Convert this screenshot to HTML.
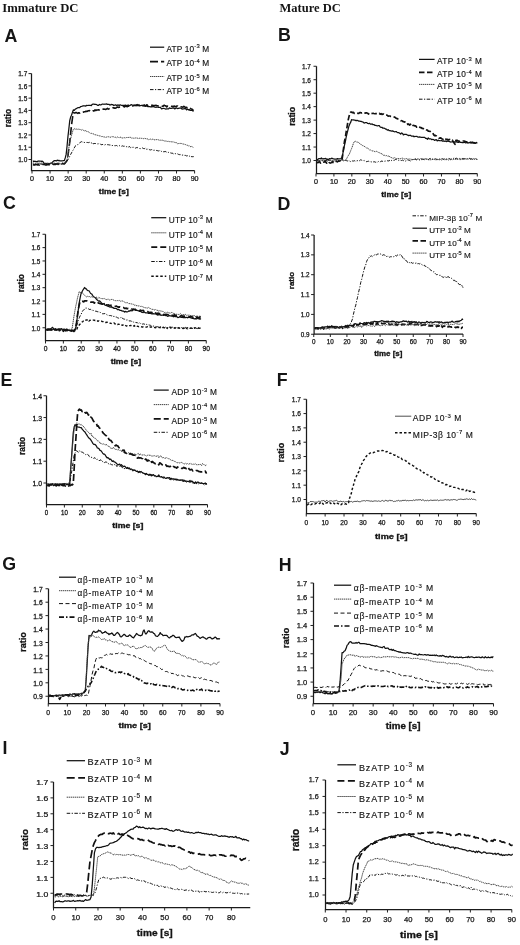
<!DOCTYPE html><html><head><meta charset="utf-8"><style>html,body{margin:0;padding:0;background:#fff;width:520px;height:945px;overflow:hidden}svg{display:block;filter:blur(0.3px)}text{font-family:"Liberation Sans", sans-serif;fill:#151515}text.tk{stroke:#151515;stroke-width:0.25}text.lg{stroke:#151515;stroke-width:0.15}text.bd{stroke:#111;stroke-width:0.3}</style></head><body>
<svg width="520" height="945" viewBox="0 0 520 945">
<rect width="520" height="945" fill="#fff"/>
<text x="2.2" y="12.3" font-size="13.5" font-weight="bold" textLength="76.3" lengthAdjust="spacingAndGlyphs" style="font-family:'Liberation Serif',serif">Immature DC</text>
<text x="279.5" y="12.3" font-size="13.5" font-weight="bold" textLength="61.3" lengthAdjust="spacingAndGlyphs" style="font-family:'Liberation Serif',serif">Mature DC</text>
<path d="M31.5 73.6 V170.5 H194.6" fill="none" stroke="#1a1a1a" stroke-width="1.25"/>
<path d="M28.5 159.5 H31.5 M28.5 147.23 H31.5 M28.5 134.96 H31.5 M28.5 122.69 H31.5 M28.5 110.41 H31.5 M28.5 98.14 H31.5 M28.5 85.87 H31.5 M28.5 73.6 H31.5 M32 170.5 V173.5 M50.07 170.5 V173.5 M68.13 170.5 V173.5 M86.2 170.5 V173.5 M104.27 170.5 V173.5 M122.33 170.5 V173.5 M140.4 170.5 V173.5 M158.47 170.5 V173.5 M176.53 170.5 V173.5 M194.6 170.5 V173.5 " stroke="#222" stroke-width="1"/>
<text x="27.3" y="162.19" font-size="6.5" text-anchor="end" class="tk">1.0</text>
<text x="27.3" y="149.92" font-size="6.5" text-anchor="end" class="tk">1.1</text>
<text x="27.3" y="137.65" font-size="6.5" text-anchor="end" class="tk">1.2</text>
<text x="27.3" y="125.38" font-size="6.5" text-anchor="end" class="tk">1.3</text>
<text x="27.3" y="113.1" font-size="6.5" text-anchor="end" class="tk">1.4</text>
<text x="27.3" y="100.83" font-size="6.5" text-anchor="end" class="tk">1.5</text>
<text x="27.3" y="88.56" font-size="6.5" text-anchor="end" class="tk">1.6</text>
<text x="27.3" y="76.29" font-size="6.5" text-anchor="end" class="tk">1.7</text>
<text transform="translate(32 180.84) scale(1.1 1)" font-size="6.5" text-anchor="middle" class="tk">0</text>
<text transform="translate(50.07 180.84) scale(1.1 1)" font-size="6.5" text-anchor="middle" class="tk">10</text>
<text transform="translate(68.13 180.84) scale(1.1 1)" font-size="6.5" text-anchor="middle" class="tk">20</text>
<text transform="translate(86.2 180.84) scale(1.1 1)" font-size="6.5" text-anchor="middle" class="tk">30</text>
<text transform="translate(104.27 180.84) scale(1.1 1)" font-size="6.5" text-anchor="middle" class="tk">40</text>
<text transform="translate(122.33 180.84) scale(1.1 1)" font-size="6.5" text-anchor="middle" class="tk">50</text>
<text transform="translate(140.4 180.84) scale(1.1 1)" font-size="6.5" text-anchor="middle" class="tk">60</text>
<text transform="translate(158.47 180.84) scale(1.1 1)" font-size="6.5" text-anchor="middle" class="tk">70</text>
<text transform="translate(176.53 180.84) scale(1.1 1)" font-size="6.5" text-anchor="middle" class="tk">80</text>
<text transform="translate(194.6 180.84) scale(1.1 1)" font-size="6.5" text-anchor="middle" class="tk">90</text>
<text class="bd" transform="translate(10.8 118.05) rotate(-90)" font-size="8.39" font-weight="bold" text-anchor="middle">ratio</text>
<text class="bd" x="98.85" y="193.6" font-size="6.76" font-weight="bold" textLength="29.87" lengthAdjust="spacingAndGlyphs">time [s]</text>
<text x="4.55" y="42.4" font-size="17.8" text-anchor="start" font-weight="bold">A</text>
<path d="M150 47.2 H164.2" fill="none" stroke="#111" stroke-width="1.25" stroke-linejoin="round"/>
<text class="lg" x="166.5" y="51.57" font-size="8.3" textLength="42.7" lengthAdjust="spacing">ATP 10<tspan font-size="5.81" dy="-3.32">-3</tspan><tspan dy="3.32"> M</tspan></text>
<path d="M150 61.6 H164.2" fill="none" stroke="#111" stroke-width="1.6" stroke-linejoin="round" stroke-dasharray="8 3"/>
<text class="lg" x="166.5" y="65.97" font-size="8.3" textLength="42.7" lengthAdjust="spacing">ATP 10<tspan font-size="5.81" dy="-3.32">-4</tspan><tspan dy="3.32"> M</tspan></text>
<path d="M150 76.5 H164.2" fill="none" stroke="#444" stroke-width="1.0" stroke-linejoin="round" stroke-dasharray="1.4 0.6"/>
<text class="lg" x="166.5" y="80.87" font-size="8.3" textLength="42.7" lengthAdjust="spacing">ATP 10<tspan font-size="5.81" dy="-3.32">-5</tspan><tspan dy="3.32"> M</tspan></text>
<path d="M150 89.6 H164.2" fill="none" stroke="#111" stroke-width="1.0" stroke-linejoin="round" stroke-dasharray="3.5 1.5 1.2 1.5"/>
<text class="lg" x="166.5" y="93.97" font-size="8.3" textLength="42.7" lengthAdjust="spacing">ATP 10<tspan font-size="5.81" dy="-3.32">-6</tspan><tspan dy="3.32"> M</tspan></text>
<path d="M32.9 161.42 L33.8 161.18 L34.7 161.41 L35.6 161.44 L36.5 161.63 L37.39 161.41 L38.29 161 L39.19 161.21 L40.09 161.02 L40.99 161.26 L41.89 161.22 L42.78 161.28 L43.68 163 L44.58 163.44 L45.48 163.57 L46.38 163.5 L47.28 164.09 L48.17 164.03 L49.07 163.69 L49.97 163.49 L50.87 163.17 L51.77 163.2 L52.67 161.95 L53.56 161.08 L54.46 160.63 L55.36 160.61 L56.26 160.93 L57.16 160.2 L58.06 160.56 L58.95 160.36 L59.85 160.92 L60.75 160.95 L61.65 160.83 L62.55 160.76 L63.45 160.53 L64.34 160.65 L65.24 157.92 L66.14 154.42 L67.04 146.27 L67.94 136.59 L68.83 129.01 L69.73 120.76 L70.63 117.05 L71.53 115.26 L72.43 112.42 L73.33 109.93 L74.22 110.39 L75.12 109.32 L76.02 108.7 L76.92 108.36 L77.82 107.61 L78.72 107.52 L79.61 107.68 L80.51 106.71 L81.41 106.49 L82.31 106.14 L83.21 105.75 L84.11 105.9 L85 105.8 L85.9 106.06 L86.8 105.3 L87.7 105.5 L88.6 105.27 L89.5 105.34 L90.39 105.39 L91.29 105.56 L92.19 104.34 L93.09 104.13 L93.99 104.07 L94.89 104.46 L95.78 104.41 L96.68 104.62 L97.58 105.32 L98.48 105.44 L99.38 104.5 L100.27 104.78 L101.17 104.83 L102.07 104.13 L102.97 104.03 L103.87 104.26 L104.77 104.24 L105.66 104.24 L106.56 103.95 L107.46 104.31 L108.36 104.4 L109.26 104.45 L110.16 105.16 L111.05 104.35 L111.95 104.51 L112.85 104.7 L113.75 105.52 L114.65 105.16 L115.55 104.76 L116.44 105.63 L117.34 105.18 L118.24 104.86 L119.14 105.62 L120.04 104.78 L120.94 105.15 L121.83 105.42 L122.73 105.33 L123.63 105.28 L124.53 105.45 L125.43 105.09 L126.33 105.6 L127.22 105.48 L128.12 104.99 L129.02 105.26 L129.92 105.5 L130.82 104.89 L131.71 104.69 L132.61 105.23 L133.51 105.47 L134.41 105.05 L135.31 105.01 L136.21 105.01 L137.1 104.51 L138 105.38 L138.9 104.81 L139.8 105.72 L140.7 105.7 L141.6 105.4 L142.49 105.38 L143.39 105.59 L144.29 105.88 L145.19 106.07 L146.09 106.2 L146.99 106.2 L147.88 106.56 L148.78 106.55 L149.68 106.57 L150.58 106.81 L151.48 106.64 L152.38 106.76 L153.27 106.38 L154.17 106.96 L155.07 107.25 L155.97 107.29 L156.87 107.24 L157.77 107.02 L158.66 107.49 L159.56 107.48 L160.46 107.23 L161.36 108.79 L162.26 108.55 L163.15 108.33 L164.05 108.49 L164.95 108.74 L165.85 109.15 L166.75 108.96 L167.65 108.9 L168.54 108.97 L169.44 107.89 L170.34 108.35 L171.24 108.46 L172.14 108.14 L173.04 108.04 L173.93 108.05 L174.83 108.93 L175.73 108.3 L176.63 107.9 L177.53 108.63 L178.43 108.35 L179.32 108.1 L180.22 108.2 L181.12 108.09 L182.02 109.16 L182.92 108.84 L183.82 108.93 L184.71 108.72 L185.61 108.67 L186.51 109.92 L187.41 108.86 L188.31 109.92 L189.21 109.55 L190.1 110.49 L191 110.26 L191.9 110.23 L192.8 110.92 L193.7 111.09" fill="none" stroke="#111" stroke-width="1.25" stroke-linejoin="round"/>
<path d="M32.9 164.78 L33.8 164.95 L34.7 164.99 L35.6 164.46 L36.5 164.57 L37.39 164.95 L38.29 163.99 L39.19 165.15 L40.09 164.48 L40.99 164.81 L41.89 164.66 L42.78 164.45 L43.68 164.57 L44.58 164.41 L45.48 165.04 L46.38 165 L47.28 164.32 L48.17 164.77 L49.07 164.76 L49.97 164.86 L50.87 163.99 L51.77 164.11 L52.67 163.85 L53.56 164.55 L54.46 164.22 L55.36 164.53 L56.26 163.91 L57.16 163.62 L58.06 164.34 L58.95 163.55 L59.85 163.69 L60.75 164.01 L61.65 164.52 L62.55 163.45 L63.45 163.87 L64.34 163.99 L65.24 162.86 L66.14 161.84 L67.04 160.48 L67.94 155.92 L68.83 148.75 L69.73 142.14 L70.63 133.6 L71.53 124.95 L72.43 118.4 L73.33 112.79 L74.22 112.98 L75.12 112.9 L76.02 112.42 L76.92 112.85 L77.82 113.4 L78.72 112.73 L79.61 113.1 L80.51 112.19 L81.41 112.27 L82.31 112.47 L83.21 112.15 L84.11 111.74 L85 111.82 L85.9 111.29 L86.8 111.56 L87.7 111.07 L88.6 110.78 L89.5 110.59 L90.39 111.14 L91.29 110.51 L92.19 111.2 L93.09 110.8 L93.99 110.95 L94.89 109.92 L95.78 110.53 L96.68 110.05 L97.58 110 L98.48 109.85 L99.38 109.92 L100.27 109.57 L101.17 108.99 L102.07 109.42 L102.97 109.17 L103.87 108.93 L104.77 109.18 L105.66 109.38 L106.56 109.05 L107.46 108.42 L108.36 109.14 L109.26 108.69 L110.16 108.08 L111.05 108.02 L111.95 108.14 L112.85 107.77 L113.75 107.84 L114.65 108.11 L115.55 108.08 L116.44 107.66 L117.34 107.04 L118.24 107.35 L119.14 107.31 L120.04 107.13 L120.94 107.22 L121.83 106.64 L122.73 106.83 L123.63 106.21 L124.53 106.95 L125.43 106.08 L126.33 106.34 L127.22 106.7 L128.12 105.84 L129.02 106.11 L129.92 106.66 L130.82 106.21 L131.71 105.81 L132.61 106 L133.51 105.58 L134.41 105.55 L135.31 105.53 L136.21 105.6 L137.1 105.25 L138 105.41 L138.9 105.44 L139.8 106.17 L140.7 105.23 L141.6 105.1 L142.49 105.6 L143.39 105.65 L144.29 104.91 L145.19 106.05 L146.09 105.36 L146.99 104.76 L147.88 105.79 L148.78 105.29 L149.68 104.93 L150.58 105.54 L151.48 105.33 L152.38 105.23 L153.27 105.79 L154.17 105.58 L155.07 105.5 L155.97 105.38 L156.87 105.68 L157.77 105.77 L158.66 106.06 L159.56 105.89 L160.46 105.55 L161.36 105.83 L162.26 106.16 L163.15 106.19 L164.05 105.15 L164.95 105.66 L165.85 105.85 L166.75 106.88 L167.65 105.94 L168.54 106.02 L169.44 105.7 L170.34 106.13 L171.24 106.32 L172.14 106.18 L173.04 106.98 L173.93 106.11 L174.83 106.38 L175.73 106.73 L176.63 106.16 L177.53 106.05 L178.43 107.08 L179.32 106.9 L180.22 106.65 L181.12 106.76 L182.02 107.01 L182.92 107.27 L183.82 106.39 L184.71 106.8 L185.61 107.56 L186.51 107.69 L187.41 106.84 L188.31 107.41 L189.21 107.5 L190.1 108.16 L191 109.02 L191.9 109.02 L192.8 110.11 L193.7 110.03" fill="none" stroke="#111" stroke-width="1.6" stroke-linejoin="round" stroke-dasharray="8 3"/>
<path d="M32.9 163.2 L33.8 163.02 L34.7 163.4 L35.6 163.22 L36.5 163.04 L37.39 163.07 L38.29 162.99 L39.19 163.12 L40.09 163.28 L40.99 162.94 L41.89 163.17 L42.78 163.43 L43.68 163.37 L44.58 163.18 L45.48 163.22 L46.38 163.13 L47.28 163.18 L48.17 163.13 L49.07 163.22 L49.97 163.57 L50.87 163.05 L51.77 162.86 L52.67 163.05 L53.56 163.24 L54.46 163.04 L55.36 163.48 L56.26 163.76 L57.16 163.16 L58.06 163.47 L58.95 162.95 L59.85 163.51 L60.75 163.99 L61.65 163.5 L62.55 162.7 L63.45 163.3 L64.34 163.6 L65.24 162.44 L66.14 160.82 L67.04 159.61 L67.94 154.65 L68.83 148.14 L69.73 142.28 L70.63 138.75 L71.53 135.51 L72.43 132.14 L73.33 129.29 L74.22 128.58 L75.12 129.33 L76.02 129.15 L76.92 128.98 L77.82 129.4 L78.72 129.08 L79.61 129.42 L80.51 129.55 L81.41 130.12 L82.31 129.5 L83.21 130.13 L84.11 130.81 L85 130.94 L85.9 130.4 L86.8 131.63 L87.7 131.62 L88.6 131.95 L89.5 132.62 L90.39 133.34 L91.29 133.29 L92.19 133.61 L93.09 133.74 L93.99 134.21 L94.89 134.81 L95.78 134.81 L96.68 135.09 L97.58 135.37 L98.48 135.6 L99.38 135.88 L100.27 135.77 L101.17 136.49 L102.07 136.54 L102.97 136.53 L103.87 137.17 L104.77 136.95 L105.66 137.46 L106.56 137.09 L107.46 136.73 L108.36 136.76 L109.26 136.98 L110.16 137.07 L111.05 137.46 L111.95 136.5 L112.85 136.93 L113.75 136.78 L114.65 137.42 L115.55 137.24 L116.44 137.77 L117.34 137 L118.24 136.99 L119.14 137.89 L120.04 137.35 L120.94 137.17 L121.83 137.94 L122.73 137.99 L123.63 137.79 L124.53 137.69 L125.43 137.97 L126.33 137.56 L127.22 137.53 L128.12 137.45 L129.02 137.47 L129.92 137.26 L130.82 137.4 L131.71 138.2 L132.61 137.99 L133.51 138.19 L134.41 138.23 L135.31 137.97 L136.21 137.98 L137.1 137.86 L138 138.54 L138.9 138.47 L139.8 138.13 L140.7 138.24 L141.6 138.36 L142.49 138.37 L143.39 138.67 L144.29 138.3 L145.19 138.49 L146.09 138.72 L146.99 138.98 L147.88 138.91 L148.78 139.78 L149.68 139.33 L150.58 139.1 L151.48 139.66 L152.38 139.23 L153.27 139.33 L154.17 139.88 L155.07 139.62 L155.97 139.72 L156.87 139.57 L157.77 139.61 L158.66 139.9 L159.56 140.28 L160.46 140.18 L161.36 140.28 L162.26 140.16 L163.15 140.41 L164.05 140.85 L164.95 141.16 L165.85 140.98 L166.75 141.22 L167.65 141.46 L168.54 141.34 L169.44 141.64 L170.34 141.64 L171.24 141.69 L172.14 142.16 L173.04 141.51 L173.93 142.5 L174.83 142.25 L175.73 142.73 L176.63 142.61 L177.53 143.87 L178.43 143.55 L179.32 143.43 L180.22 143.5 L181.12 143.15 L182.02 143.95 L182.92 143.84 L183.82 144.18 L184.71 144.31 L185.61 144.63 L186.51 145.15 L187.41 145.26 L188.31 146.06 L189.21 145.68 L190.1 146.66 L191 146.58 L191.9 146.32 L192.8 147.35 L193.7 147.59" fill="none" stroke="#444" stroke-width="1.0" stroke-linejoin="round" stroke-dasharray="1.4 0.6"/>
<path d="M32.9 164.05 L33.8 164.38 L34.7 164.62 L35.6 164.28 L36.5 164.16 L37.39 164.1 L38.29 164.54 L39.19 163.75 L40.09 163.76 L40.99 164.25 L41.89 164.15 L42.78 164.35 L43.68 163.77 L44.58 164.4 L45.48 163.96 L46.38 164.29 L47.28 164.34 L48.17 163.89 L49.07 163.69 L49.97 164.08 L50.87 164.27 L51.77 163.79 L52.67 164.04 L53.56 163.91 L54.46 163.52 L55.36 163.63 L56.26 164.11 L57.16 163.24 L58.06 163.92 L58.95 163.66 L59.85 164.08 L60.75 163.88 L61.65 164.39 L62.55 163.29 L63.45 163.4 L64.34 164.17 L65.24 163.4 L66.14 162.37 L67.04 160.44 L67.94 159.87 L68.83 158.09 L69.73 156.34 L70.63 154.45 L71.53 152.91 L72.43 150.97 L73.33 149.9 L74.22 147.95 L75.12 146.31 L76.02 145.41 L76.92 145.01 L77.82 144.61 L78.72 143.67 L79.61 143.26 L80.51 142.02 L81.41 141.66 L82.31 141.97 L83.21 142.2 L84.11 142.39 L85 142.58 L85.9 142.52 L86.8 142.44 L87.7 142.49 L88.6 142.6 L89.5 142.25 L90.39 143.21 L91.29 143.1 L92.19 142.34 L93.09 143.87 L93.99 143.56 L94.89 143.45 L95.78 143.55 L96.68 143.58 L97.58 143.88 L98.48 143.79 L99.38 143.99 L100.27 143.87 L101.17 144.79 L102.07 144.58 L102.97 144.41 L103.87 144.82 L104.77 144.93 L105.66 144.5 L106.56 144.98 L107.46 144.67 L108.36 144.72 L109.26 144.94 L110.16 144.96 L111.05 145.23 L111.95 145.71 L112.85 145.37 L113.75 145.31 L114.65 145.69 L115.55 145.65 L116.44 145.47 L117.34 146.05 L118.24 145.67 L119.14 145.38 L120.04 146.2 L120.94 146.07 L121.83 146.25 L122.73 145.82 L123.63 146.29 L124.53 146.2 L125.43 146.79 L126.33 146.67 L127.22 146.77 L128.12 147.4 L129.02 146.51 L129.92 146.77 L130.82 147.68 L131.71 147.01 L132.61 147.37 L133.51 147.29 L134.41 147.41 L135.31 148.08 L136.21 147.78 L137.1 147.35 L138 148.08 L138.9 148.32 L139.8 148.55 L140.7 148.63 L141.6 148.27 L142.49 147.98 L143.39 148.49 L144.29 148.66 L145.19 148.18 L146.09 149.14 L146.99 149.31 L147.88 149.06 L148.78 149.18 L149.68 149.78 L150.58 149.95 L151.48 149.63 L152.38 149.76 L153.27 150.37 L154.17 150.17 L155.07 150.42 L155.97 150.26 L156.87 150.59 L157.77 150.72 L158.66 150.95 L159.56 150.67 L160.46 150.71 L161.36 151.4 L162.26 151.17 L163.15 151.81 L164.05 151.7 L164.95 151.64 L165.85 151.55 L166.75 152.28 L167.65 152.35 L168.54 152.43 L169.44 153.11 L170.34 152.81 L171.24 153.19 L172.14 153.03 L173.04 153.65 L173.93 154.07 L174.83 153.62 L175.73 153.71 L176.63 154.12 L177.53 153.84 L178.43 154.36 L179.32 154.63 L180.22 154.46 L181.12 155.24 L182.02 155.12 L182.92 155.07 L183.82 154.96 L184.71 155.43 L185.61 155.44 L186.51 155.89 L187.41 155.75 L188.31 155.49 L189.21 156.36 L190.1 155.58 L191 156.66 L191.9 156.61 L192.8 156.72 L193.7 156.61" fill="none" stroke="#111" stroke-width="1.0" stroke-linejoin="round" stroke-dasharray="3.5 1.5 1.2 1.5"/>
<path d="M316.5 66.25 V173.5 H477.3" fill="none" stroke="#1a1a1a" stroke-width="1.25"/>
<path d="M313.5 160.5 H316.5 M313.5 147.04 H316.5 M313.5 133.57 H316.5 M313.5 120.11 H316.5 M313.5 106.64 H316.5 M313.5 93.18 H316.5 M313.5 79.71 H316.5 M313.5 66.25 H316.5 M316 173.5 V176.5 M333.92 173.5 V176.5 M351.84 173.5 V176.5 M369.77 173.5 V176.5 M387.69 173.5 V176.5 M405.61 173.5 V176.5 M423.53 173.5 V176.5 M441.46 173.5 V176.5 M459.38 173.5 V176.5 M477.3 173.5 V176.5 " stroke="#222" stroke-width="1"/>
<text x="311" y="163.34" font-size="6.5" text-anchor="end" class="tk">1.0</text>
<text x="311" y="149.88" font-size="6.5" text-anchor="end" class="tk">1.1</text>
<text x="311" y="136.41" font-size="6.5" text-anchor="end" class="tk">1.2</text>
<text x="311" y="122.95" font-size="6.5" text-anchor="end" class="tk">1.3</text>
<text x="311" y="109.48" font-size="6.5" text-anchor="end" class="tk">1.4</text>
<text x="311" y="96.02" font-size="6.5" text-anchor="end" class="tk">1.5</text>
<text x="311" y="82.55" font-size="6.5" text-anchor="end" class="tk">1.6</text>
<text x="311" y="69.09" font-size="6.5" text-anchor="end" class="tk">1.7</text>
<text transform="translate(316 184.34) scale(1.1 1)" font-size="6.5" text-anchor="middle" class="tk">0</text>
<text transform="translate(333.92 184.34) scale(1.1 1)" font-size="6.5" text-anchor="middle" class="tk">10</text>
<text transform="translate(351.84 184.34) scale(1.1 1)" font-size="6.5" text-anchor="middle" class="tk">20</text>
<text transform="translate(369.77 184.34) scale(1.1 1)" font-size="6.5" text-anchor="middle" class="tk">30</text>
<text transform="translate(387.69 184.34) scale(1.1 1)" font-size="6.5" text-anchor="middle" class="tk">40</text>
<text transform="translate(405.61 184.34) scale(1.1 1)" font-size="6.5" text-anchor="middle" class="tk">50</text>
<text transform="translate(423.53 184.34) scale(1.1 1)" font-size="6.5" text-anchor="middle" class="tk">60</text>
<text transform="translate(441.46 184.34) scale(1.1 1)" font-size="6.5" text-anchor="middle" class="tk">70</text>
<text transform="translate(459.38 184.34) scale(1.1 1)" font-size="6.5" text-anchor="middle" class="tk">80</text>
<text transform="translate(477.3 184.34) scale(1.1 1)" font-size="6.5" text-anchor="middle" class="tk">90</text>
<text class="bd" transform="translate(294.98 116.35) rotate(-90)" font-size="8.78" font-weight="bold" text-anchor="middle">ratio</text>
<text class="bd" x="381.25" y="196.78" font-size="6.87" font-weight="bold" textLength="29.97" lengthAdjust="spacingAndGlyphs">time [s]</text>
<text x="278" y="41" font-size="17.8" text-anchor="start" font-weight="bold">B</text>
<path d="M419 59.4 H434.6" fill="none" stroke="#111" stroke-width="1.25" stroke-linejoin="round"/>
<text class="lg" x="436.9" y="63.97" font-size="8.3" textLength="45" lengthAdjust="spacing">ATP 10<tspan font-size="5.81" dy="-3.32">-3</tspan><tspan dy="3.32"> M</tspan></text>
<path d="M419 72.3 H434.6" fill="none" stroke="#111" stroke-width="1.7" stroke-linejoin="round" stroke-dasharray="5.5 2.5"/>
<text class="lg" x="436.9" y="76.87" font-size="8.3" textLength="45" lengthAdjust="spacing">ATP 10<tspan font-size="5.81" dy="-3.32">-4</tspan><tspan dy="3.32"> M</tspan></text>
<path d="M419 84.4 H434.6" fill="none" stroke="#444" stroke-width="1.0" stroke-linejoin="round" stroke-dasharray="1.4 0.6"/>
<text class="lg" x="436.9" y="88.97" font-size="8.3" textLength="45" lengthAdjust="spacing">ATP 10<tspan font-size="5.81" dy="-3.32">-5</tspan><tspan dy="3.32"> M</tspan></text>
<path d="M419 99.2 H434.6" fill="none" stroke="#111" stroke-width="1.0" stroke-linejoin="round" stroke-dasharray="3.5 1.5 1.2 1.5"/>
<text class="lg" x="436.9" y="103.77" font-size="8.3" textLength="45" lengthAdjust="spacing">ATP 10<tspan font-size="5.81" dy="-3.32">-6</tspan><tspan dy="3.32"> M</tspan></text>
<path d="M316.9 159.3 L317.79 159.59 L318.68 158.68 L319.57 158.62 L320.46 158.67 L321.35 158 L322.24 158.82 L323.13 158.8 L324.03 158.57 L324.92 158.76 L325.81 158.32 L326.7 159.3 L327.59 159.01 L328.48 160.04 L329.37 158.61 L330.26 159.01 L331.15 158.57 L332.05 158.16 L332.94 158.89 L333.83 158.97 L334.72 159.05 L335.61 159.17 L336.5 159.1 L337.39 158.67 L338.28 158.87 L339.17 158.86 L340.07 158.94 L340.96 158.58 L341.85 157.81 L342.74 154.09 L343.63 149.36 L344.52 145.17 L345.41 141.41 L346.3 136.51 L347.19 132.83 L348.09 129.29 L348.98 125.92 L349.87 123.81 L350.76 122.09 L351.65 119.57 L352.54 119.99 L353.43 119.81 L354.32 120.04 L355.21 120.16 L356.11 120.8 L357 120.17 L357.89 120.71 L358.78 121.04 L359.67 121.05 L360.56 121.37 L361.45 121.4 L362.34 121.99 L363.24 122.12 L364.13 123.07 L365.02 122.74 L365.91 122.61 L366.8 122.62 L367.69 123.44 L368.58 123.6 L369.47 123.26 L370.36 124.14 L371.26 124.01 L372.15 123.92 L373.04 124.7 L373.93 124.53 L374.82 125.41 L375.71 125.33 L376.6 125.65 L377.49 125.81 L378.38 125.7 L379.28 125.58 L380.17 126.97 L381.06 127.3 L381.95 127.31 L382.84 128.19 L383.73 128.03 L384.62 128.36 L385.51 129.01 L386.4 129.1 L387.3 130.16 L388.19 129.68 L389.08 130.7 L389.97 130.65 L390.86 130.85 L391.75 131.04 L392.64 130.85 L393.53 131.35 L394.42 131.76 L395.32 131.68 L396.21 131.57 L397.1 132.39 L397.99 132.6 L398.88 132.65 L399.77 133.31 L400.66 134.09 L401.55 133 L402.44 133.27 L403.34 134.86 L404.23 134.39 L405.12 134.41 L406.01 134.41 L406.9 134.69 L407.79 135.18 L408.68 135.63 L409.57 135.42 L410.47 135.27 L411.36 136.11 L412.25 136.21 L413.14 136 L414.03 136.77 L414.92 136.33 L415.81 136.51 L416.7 136.33 L417.59 136.85 L418.49 137.03 L419.38 136.99 L420.27 137.02 L421.16 137.4 L422.05 137.34 L422.94 137.27 L423.83 137.3 L424.72 137.3 L425.61 138.31 L426.51 138.36 L427.4 139.23 L428.29 137.93 L429.18 138.98 L430.07 138.92 L430.96 138.91 L431.85 139.72 L432.74 139.27 L433.63 139.61 L434.53 140.39 L435.42 139.85 L436.31 139.72 L437.2 140.92 L438.09 140.2 L438.98 140.57 L439.87 140.65 L440.76 140.75 L441.65 140.53 L442.55 141.11 L443.44 140.81 L444.33 141.31 L445.22 141 L446.11 141.59 L447 141.42 L447.89 140.87 L448.78 141.37 L449.67 141.65 L450.57 142.05 L451.46 141.99 L452.35 141.73 L453.24 141.55 L454.13 141.79 L455.02 141.82 L455.91 142.08 L456.8 141.67 L457.7 142.33 L458.59 142.45 L459.48 142.03 L460.37 142.34 L461.26 142.49 L462.15 142.62 L463.04 142.55 L463.93 142.28 L464.82 142.41 L465.72 142.97 L466.61 142.45 L467.5 142.57 L468.39 143 L469.28 142.44 L470.17 142.82 L471.06 142.88 L471.95 142.53 L472.84 142.38 L473.74 143.1 L474.63 142.82 L475.52 143.36 L476.41 142.39 L477.3 143.43" fill="none" stroke="#111" stroke-width="1.25" stroke-linejoin="round"/>
<path d="M316.9 162.12 L317.79 162.66 L318.68 162.1 L319.57 161.55 L320.46 163.08 L321.35 162.29 L322.24 161.9 L323.13 162.03 L324.03 162.15 L324.92 161.13 L325.81 162.14 L326.7 163.05 L327.59 162.55 L328.48 163.75 L329.37 162.65 L330.26 163.06 L331.15 162.65 L332.05 162.11 L332.94 162.33 L333.83 162.67 L334.72 162.6 L335.61 161.47 L336.5 161.45 L337.39 161.81 L338.28 161.07 L339.17 161.03 L340.07 160.76 L340.96 161.52 L341.85 160.64 L342.74 154.55 L343.63 147.91 L344.52 141.17 L345.41 137.02 L346.3 131.17 L347.19 126.09 L348.09 120.43 L348.98 116.64 L349.87 113.46 L350.76 112.06 L351.65 112.03 L352.54 112.72 L353.43 112.43 L354.32 113.33 L355.21 113.23 L356.11 113.47 L357 113.13 L357.89 113.3 L358.78 113.49 L359.67 112.48 L360.56 112.63 L361.45 112.94 L362.34 112.75 L363.24 112.55 L364.13 113.28 L365.02 113.06 L365.91 112.9 L366.8 112.97 L367.69 113.33 L368.58 114 L369.47 112.93 L370.36 113.26 L371.26 113.37 L372.15 113.47 L373.04 113.29 L373.93 113.52 L374.82 113.72 L375.71 113.62 L376.6 113.58 L377.49 113.58 L378.38 113.77 L379.28 113.28 L380.17 114.14 L381.06 113.68 L381.95 114.44 L382.84 114.18 L383.73 114.04 L384.62 114.64 L385.51 115.15 L386.4 115.09 L387.3 115.26 L388.19 116.13 L389.08 116.01 L389.97 116.02 L390.86 116.49 L391.75 116.57 L392.64 116.62 L393.53 116.87 L394.42 117.09 L395.32 117.58 L396.21 118.27 L397.1 118.58 L397.99 119.07 L398.88 119.48 L399.77 119.83 L400.66 120.75 L401.55 120.68 L402.44 120.99 L403.34 121.73 L404.23 121.84 L405.12 122.08 L406.01 122.74 L406.9 122.41 L407.79 124.41 L408.68 124.03 L409.57 125 L410.47 124.37 L411.36 124.04 L412.25 126.02 L413.14 125.37 L414.03 125.48 L414.92 126 L415.81 125.95 L416.7 127.13 L417.59 126.32 L418.49 126.73 L419.38 127.08 L420.27 127.58 L421.16 127.55 L422.05 128.31 L422.94 128.45 L423.83 129.08 L424.72 130.05 L425.61 129.69 L426.51 129.99 L427.4 130.19 L428.29 131.12 L429.18 131.22 L430.07 131.41 L430.96 132.25 L431.85 132.57 L432.74 133 L433.63 134.66 L434.53 135.69 L435.42 135.43 L436.31 135.89 L437.2 136.78 L438.09 137.48 L438.98 138.1 L439.87 138.27 L440.76 137.88 L441.65 138.63 L442.55 139.1 L443.44 138.99 L444.33 137.98 L445.22 138.34 L446.11 139.39 L447 139.57 L447.89 139.42 L448.78 139.91 L449.67 139.39 L450.57 140.02 L451.46 140.53 L452.35 140.06 L453.24 141.95 L454.13 142.94 L455.02 144.27 L455.91 140.42 L456.8 140.25 L457.7 140.64 L458.59 141.08 L459.48 141.25 L460.37 140.98 L461.26 140.94 L462.15 140.86 L463.04 140.99 L463.93 140.99 L464.82 141.3 L465.72 141.77 L466.61 141.9 L467.5 142.52 L468.39 142.02 L469.28 141.95 L470.17 142.08 L471.06 142.45 L471.95 142.62 L472.84 142.4 L473.74 142.86 L474.63 142.72 L475.52 142.87 L476.41 143.09 L477.3 142.83" fill="none" stroke="#111" stroke-width="1.7" stroke-linejoin="round" stroke-dasharray="5.5 2.5"/>
<path d="M316.9 160.69 L317.79 160.62 L318.68 160.77 L319.57 160.77 L320.46 159.98 L321.35 159.91 L322.24 160.49 L323.13 160.31 L324.03 160.1 L324.92 160.23 L325.81 160.09 L326.7 160.93 L327.59 160.72 L328.48 160.35 L329.37 160.02 L330.26 160.47 L331.15 160.79 L332.05 160.62 L332.94 160.72 L333.83 160.79 L334.72 159.99 L335.61 160.71 L336.5 160.49 L337.39 159.77 L338.28 160.1 L339.17 160.39 L340.07 160.71 L340.96 160.36 L341.85 159.95 L342.74 160.29 L343.63 160.08 L344.52 160.47 L345.41 159.77 L346.3 159.34 L347.19 157.64 L348.09 155.68 L348.98 154.92 L349.87 152.79 L350.76 150.48 L351.65 148.41 L352.54 145.98 L353.43 143.27 L354.32 141.65 L355.21 141.24 L356.11 141.47 L357 142.53 L357.89 141.8 L358.78 142.86 L359.67 143.44 L360.56 144.39 L361.45 144.61 L362.34 145.55 L363.24 145.74 L364.13 146.19 L365.02 146.92 L365.91 147.42 L366.8 148.27 L367.69 147.95 L368.58 149.11 L369.47 149.95 L370.36 149.86 L371.26 150.5 L372.15 150.91 L373.04 150.94 L373.93 150.97 L374.82 151.72 L375.71 151.62 L376.6 151.34 L377.49 151.84 L378.38 152.38 L379.28 152.65 L380.17 153.18 L381.06 153.6 L381.95 153.79 L382.84 154.51 L383.73 155.74 L384.62 155.27 L385.51 155.81 L386.4 155.54 L387.3 156.22 L388.19 156.21 L389.08 155.78 L389.97 157.12 L390.86 157.4 L391.75 157.7 L392.64 158.2 L393.53 158.19 L394.42 157.6 L395.32 158.11 L396.21 158.69 L397.1 158.73 L397.99 158.19 L398.88 158.78 L399.77 158.73 L400.66 158.58 L401.55 158.32 L402.44 158.2 L403.34 158.59 L404.23 158.98 L405.12 159.05 L406.01 158.55 L406.9 158.67 L407.79 159.26 L408.68 159 L409.57 159.06 L410.47 159.14 L411.36 159.32 L412.25 159.6 L413.14 159.33 L414.03 159.67 L414.92 158.74 L415.81 158.97 L416.7 159.56 L417.59 158.68 L418.49 158.85 L419.38 159.8 L420.27 158.53 L421.16 158.88 L422.05 158.46 L422.94 159.57 L423.83 158.99 L424.72 159.06 L425.61 159.16 L426.51 159.21 L427.4 158.94 L428.29 159.84 L429.18 159.78 L430.07 159.87 L430.96 159.62 L431.85 159.67 L432.74 159.38 L433.63 159.44 L434.53 159.56 L435.42 159.83 L436.31 159.78 L437.2 159.35 L438.09 159.44 L438.98 159.7 L439.87 159.88 L440.76 159.28 L441.65 160.02 L442.55 159.57 L443.44 159.36 L444.33 159.81 L445.22 159.41 L446.11 160.03 L447 159.28 L447.89 159.52 L448.78 160.09 L449.67 159.29 L450.57 159.78 L451.46 159.02 L452.35 159.65 L453.24 159.44 L454.13 159.26 L455.02 159.43 L455.91 159.2 L456.8 159.44 L457.7 158.99 L458.59 159.18 L459.48 159.08 L460.37 160.08 L461.26 158.76 L462.15 159.14 L463.04 159.75 L463.93 159.12 L464.82 159 L465.72 158.79 L466.61 159.52 L467.5 158.63 L468.39 159.21 L469.28 158.35 L470.17 159.2 L471.06 158.92 L471.95 159.28 L472.84 159.53 L473.74 158.78 L474.63 158.85 L475.52 158.64 L476.41 158.87 L477.3 159.35" fill="none" stroke="#444" stroke-width="1.0" stroke-linejoin="round" stroke-dasharray="1.4 0.6"/>
<path d="M316.9 161.06 L317.79 160.75 L318.68 160.8 L319.57 160.88 L320.46 160.44 L321.35 160.57 L322.24 160.8 L323.13 160.69 L324.03 160.83 L324.92 160.75 L325.81 160.6 L326.7 160.56 L327.59 161.15 L328.48 161.47 L329.37 160.51 L330.26 160.99 L331.15 160.69 L332.05 161.65 L332.94 161.25 L333.83 161.16 L334.72 161.6 L335.61 161.22 L336.5 160.74 L337.39 160.55 L338.28 160.31 L339.17 161.07 L340.07 161.18 L340.96 160.47 L341.85 160.26 L342.74 160.45 L343.63 160.99 L344.52 160.36 L345.41 160.42 L346.3 160.57 L347.19 160.99 L348.09 160.79 L348.98 160.69 L349.87 161.21 L350.76 161.71 L351.65 161.05 L352.54 160.96 L353.43 161.05 L354.32 160.69 L355.21 161.12 L356.11 160.88 L357 160.89 L357.89 160.53 L358.78 160.12 L359.67 160.67 L360.56 159.83 L361.45 160.08 L362.34 160.46 L363.24 160.67 L364.13 160.4 L365.02 161.19 L365.91 161.3 L366.8 161.76 L367.69 161.38 L368.58 161.22 L369.47 161.62 L370.36 161.7 L371.26 161.91 L372.15 161.79 L373.04 162.33 L373.93 161.49 L374.82 161.98 L375.71 162.22 L376.6 162.1 L377.49 162.12 L378.38 161.56 L379.28 161.41 L380.17 162.09 L381.06 161.18 L381.95 161.06 L382.84 161.42 L383.73 161.6 L384.62 161.21 L385.51 161.04 L386.4 160.58 L387.3 160.68 L388.19 161.15 L389.08 160.32 L389.97 160.85 L390.86 159.96 L391.75 160.6 L392.64 160.36 L393.53 160.35 L394.42 160.18 L395.32 159.49 L396.21 159.57 L397.1 159.66 L397.99 159.82 L398.88 160.52 L399.77 160.24 L400.66 160.31 L401.55 160.52 L402.44 160.09 L403.34 160.58 L404.23 160.63 L405.12 160.81 L406.01 161.16 L406.9 160.2 L407.79 159.89 L408.68 160.21 L409.57 160.53 L410.47 161.05 L411.36 160.01 L412.25 159.59 L413.14 159.83 L414.03 159.56 L414.92 159.3 L415.81 159.35 L416.7 159.82 L417.59 159.25 L418.49 159.27 L419.38 159.98 L420.27 159.54 L421.16 159.81 L422.05 159.3 L422.94 159 L423.83 159.51 L424.72 159.85 L425.61 158.72 L426.51 159.03 L427.4 158.66 L428.29 159.6 L429.18 158.8 L430.07 158.46 L430.96 158.48 L431.85 159.22 L432.74 159.06 L433.63 159.21 L434.53 158.82 L435.42 158.8 L436.31 159.12 L437.2 159.61 L438.09 158.9 L438.98 159.31 L439.87 158.94 L440.76 159.06 L441.65 158.6 L442.55 158.73 L443.44 159.23 L444.33 158.93 L445.22 158.42 L446.11 159.16 L447 158.8 L447.89 158.51 L448.78 158.46 L449.67 158.67 L450.57 159.26 L451.46 159.2 L452.35 158.66 L453.24 158.58 L454.13 157.82 L455.02 158.93 L455.91 158.23 L456.8 158.32 L457.7 159.11 L458.59 158.79 L459.48 158.43 L460.37 158.68 L461.26 158.6 L462.15 158.43 L463.04 158.89 L463.93 158.49 L464.82 158.9 L465.72 158.9 L466.61 158.57 L467.5 158.98 L468.39 158.72 L469.28 158.31 L470.17 158.88 L471.06 158.97 L471.95 158.71 L472.84 159.11 L473.74 158.66 L474.63 159.48 L475.52 158.88 L476.41 159.29 L477.3 159.42" fill="none" stroke="#111" stroke-width="1.0" stroke-linejoin="round" stroke-dasharray="3.5 1.5 1.2 1.5"/>
<path d="M45.5 234.25 V340.5 H206.25" fill="none" stroke="#1a1a1a" stroke-width="1.25"/>
<path d="M42.5 327.75 H45.5 M42.5 314.39 H45.5 M42.5 301.04 H45.5 M42.5 287.68 H45.5 M42.5 274.32 H45.5 M42.5 260.96 H45.5 M42.5 247.61 H45.5 M42.5 234.25 H45.5 M45.5 340.5 V343.5 M63.36 340.5 V343.5 M81.22 340.5 V343.5 M99.08 340.5 V343.5 M116.94 340.5 V343.5 M134.81 340.5 V343.5 M152.67 340.5 V343.5 M170.53 340.5 V343.5 M188.39 340.5 V343.5 M206.25 340.5 V343.5 " stroke="#222" stroke-width="1"/>
<text x="40.4" y="330.55" font-size="6.4" text-anchor="end" class="tk">1.0</text>
<text x="40.4" y="317.2" font-size="6.4" text-anchor="end" class="tk">1.1</text>
<text x="40.4" y="303.84" font-size="6.4" text-anchor="end" class="tk">1.2</text>
<text x="40.4" y="290.48" font-size="6.4" text-anchor="end" class="tk">1.3</text>
<text x="40.4" y="277.13" font-size="6.4" text-anchor="end" class="tk">1.4</text>
<text x="40.4" y="263.77" font-size="6.4" text-anchor="end" class="tk">1.5</text>
<text x="40.4" y="250.41" font-size="6.4" text-anchor="end" class="tk">1.6</text>
<text x="40.4" y="237.05" font-size="6.4" text-anchor="end" class="tk">1.7</text>
<text transform="translate(45.5 351.05) scale(1.05 1)" font-size="6.4" text-anchor="middle" class="tk">0</text>
<text transform="translate(63.36 351.05) scale(1.05 1)" font-size="6.4" text-anchor="middle" class="tk">10</text>
<text transform="translate(81.22 351.05) scale(1.05 1)" font-size="6.4" text-anchor="middle" class="tk">20</text>
<text transform="translate(99.08 351.05) scale(1.05 1)" font-size="6.4" text-anchor="middle" class="tk">30</text>
<text transform="translate(116.94 351.05) scale(1.05 1)" font-size="6.4" text-anchor="middle" class="tk">40</text>
<text transform="translate(134.81 351.05) scale(1.05 1)" font-size="6.4" text-anchor="middle" class="tk">50</text>
<text transform="translate(152.67 351.05) scale(1.05 1)" font-size="6.4" text-anchor="middle" class="tk">60</text>
<text transform="translate(170.53 351.05) scale(1.05 1)" font-size="6.4" text-anchor="middle" class="tk">70</text>
<text transform="translate(188.39 351.05) scale(1.05 1)" font-size="6.4" text-anchor="middle" class="tk">80</text>
<text transform="translate(206.25 351.05) scale(1.05 1)" font-size="6.4" text-anchor="middle" class="tk">90</text>
<text class="bd" transform="translate(24.2 283.25) rotate(-90)" font-size="8.39" font-weight="bold" text-anchor="middle">ratio</text>
<text class="bd" x="110.65" y="364.1" font-size="6.76" font-weight="bold" textLength="30.48" lengthAdjust="spacingAndGlyphs">time [s]</text>
<text x="3.07" y="209.4" font-size="17.8" text-anchor="start" font-weight="bold">C</text>
<path d="M151.25 217.7 H166.25" fill="none" stroke="#111" stroke-width="1.25" stroke-linejoin="round"/>
<text class="lg" x="168.8" y="222.57" font-size="8.3" textLength="43.8" lengthAdjust="spacing">UTP 10<tspan font-size="5.81" dy="-3.32">-3</tspan><tspan dy="3.32"> M</tspan></text>
<path d="M151.25 232.8 H166.25" fill="none" stroke="#444" stroke-width="1.0" stroke-linejoin="round" stroke-dasharray="1.4 0.6"/>
<text class="lg" x="168.8" y="237.67" font-size="8.3" textLength="43.8" lengthAdjust="spacing">UTP 10<tspan font-size="5.81" dy="-3.32">-4</tspan><tspan dy="3.32"> M</tspan></text>
<path d="M151.25 247.2 H166.25" fill="none" stroke="#111" stroke-width="1.7" stroke-linejoin="round" stroke-dasharray="6 3"/>
<text class="lg" x="168.8" y="252.07" font-size="8.3" textLength="43.8" lengthAdjust="spacing">UTP 10<tspan font-size="5.81" dy="-3.32">-5</tspan><tspan dy="3.32"> M</tspan></text>
<path d="M151.25 261.5 H166.25" fill="none" stroke="#111" stroke-width="1.0" stroke-linejoin="round" stroke-dasharray="3.5 1.5 1.2 1.5"/>
<text class="lg" x="168.8" y="266.37" font-size="8.3" textLength="43.8" lengthAdjust="spacing">UTP 10<tspan font-size="5.81" dy="-3.32">-6</tspan><tspan dy="3.32"> M</tspan></text>
<path d="M151.25 276.3 H166.25" fill="none" stroke="#111" stroke-width="1.4" stroke-linejoin="round" stroke-dasharray="2.5 2"/>
<text class="lg" x="168.8" y="281.17" font-size="8.3" textLength="43.8" lengthAdjust="spacing">UTP 10<tspan font-size="5.81" dy="-3.32">-7</tspan><tspan dy="3.32"> M</tspan></text>
<path d="M46.39 329.16 L47.28 329.9 L48.17 328.9 L49.06 329.14 L49.94 328.74 L50.83 329.42 L51.72 328.04 L52.61 327.29 L53.5 328.74 L54.38 329.74 L55.27 328.83 L56.16 329.48 L57.05 329.57 L57.94 329.53 L58.82 329.06 L59.71 328.98 L60.6 329.1 L61.49 328.67 L62.38 329.44 L63.26 329.25 L64.15 329.01 L65.04 329.91 L65.93 329.31 L66.82 329.13 L67.7 330.3 L68.59 330.33 L69.48 330.42 L70.37 330.8 L71.25 330.14 L72.14 331.02 L73.03 330.53 L73.92 330.54 L74.81 330.27 L75.69 328.17 L76.58 323.02 L77.47 315.48 L78.36 309.34 L79.25 302.54 L80.13 297.89 L81.02 293.74 L81.91 291.94 L82.8 290.27 L83.69 288.91 L84.57 287.48 L85.46 288.57 L86.35 288.82 L87.24 290.3 L88.13 290.69 L89.01 290.75 L89.9 292.24 L90.79 293.55 L91.68 293.96 L92.57 295.34 L93.45 296.53 L94.34 297.18 L95.23 297.66 L96.12 298.74 L97 299.75 L97.89 300.58 L98.78 301.18 L99.67 300.93 L100.56 301.85 L101.44 302.8 L102.33 303.75 L103.22 304.08 L104.11 303.37 L105 305.16 L105.88 305.38 L106.77 305.67 L107.66 306.06 L108.55 306.36 L109.44 307 L110.32 307.15 L111.21 306.5 L112.1 307.59 L112.99 307.32 L113.88 308.47 L114.76 308.33 L115.65 308.48 L116.54 308.55 L117.43 309.61 L118.31 309.36 L119.2 309.77 L120.09 310.47 L120.98 310.32 L121.87 310.96 L122.75 311.11 L123.64 311.03 L124.53 312.11 L125.42 311.42 L126.31 311.9 L127.19 311.94 L128.08 311.44 L128.97 310.88 L129.86 311.07 L130.75 310.25 L131.63 310.8 L132.52 310.59 L133.41 309.37 L134.3 309.5 L135.19 309.54 L136.07 310.45 L136.96 310.22 L137.85 310.73 L138.74 310.92 L139.62 311.45 L140.51 311.27 L141.4 312.03 L142.29 312.28 L143.18 312.6 L144.06 311.86 L144.95 312.64 L145.84 312.88 L146.73 312.99 L147.62 312.97 L148.5 313.39 L149.39 313.2 L150.28 313.44 L151.17 313.55 L152.06 313.82 L152.94 313.62 L153.83 313.92 L154.72 313.86 L155.61 313.95 L156.5 314.05 L157.38 315.03 L158.27 314.61 L159.16 314.83 L160.05 314.44 L160.94 315.35 L161.82 315.2 L162.71 315.19 L163.6 315.33 L164.49 314.99 L165.37 315.57 L166.26 315.21 L167.15 316.12 L168.04 316.34 L168.93 315.43 L169.81 315.8 L170.7 315.88 L171.59 316.11 L172.48 316.09 L173.37 316.76 L174.25 316.14 L175.14 316.74 L176.03 316.34 L176.92 316.74 L177.81 317.53 L178.69 317.41 L179.58 316.7 L180.47 317.21 L181.36 317.38 L182.25 317.26 L183.13 317.57 L184.02 317.7 L184.91 317.57 L185.8 317.64 L186.68 317.27 L187.57 317.85 L188.46 317.33 L189.35 317.44 L190.24 317.56 L191.12 317.86 L192.01 318.26 L192.9 318.35 L193.79 318.53 L194.68 318.81 L195.56 318.68 L196.45 318.96 L197.34 318.28 L198.23 318.74 L199.12 318.93 L200 319.23 L200.89 318.42" fill="none" stroke="#111" stroke-width="1.25" stroke-linejoin="round"/>
<path d="M46.39 329.22 L47.28 329.47 L48.17 329.51 L49.06 329.91 L49.94 328.99 L50.83 329.23 L51.72 328.37 L52.61 329.27 L53.5 329.33 L54.38 328.82 L55.27 329.29 L56.16 329.3 L57.05 329.5 L57.94 329.61 L58.82 328.93 L59.71 329.12 L60.6 328.91 L61.49 329.62 L62.38 329.52 L63.26 329.85 L64.15 329.25 L65.04 330.07 L65.93 329.44 L66.82 329.29 L67.7 329.2 L68.59 330.01 L69.48 329.36 L70.37 329.99 L71.25 329.17 L72.14 328.36 L73.03 322.49 L73.92 316.46 L74.81 311.35 L75.69 306.45 L76.58 302.63 L77.47 297.99 L78.36 294.81 L79.25 291.65 L80.13 292.43 L81.02 292.48 L81.91 292.53 L82.8 293.04 L83.69 294.5 L84.57 295.38 L85.46 296.06 L86.35 296.9 L87.24 296.06 L88.13 296.81 L89.01 296.17 L89.9 297.18 L90.79 297.12 L91.68 296.69 L92.57 297.12 L93.45 296.74 L94.34 297.14 L95.23 297.69 L96.12 297.23 L97 297.31 L97.89 298.37 L98.78 297.27 L99.67 297.87 L100.56 297.92 L101.44 298.93 L102.33 298.68 L103.22 298.68 L104.11 298.33 L105 299.3 L105.88 299.23 L106.77 299.74 L107.66 299.27 L108.55 299.2 L109.44 300 L110.32 299.76 L111.21 299.53 L112.1 299.3 L112.99 299.74 L113.88 300.2 L114.76 300.62 L115.65 300.67 L116.54 300.72 L117.43 300.58 L118.31 300.78 L119.2 300.34 L120.09 300.93 L120.98 301.52 L121.87 300.78 L122.75 301.11 L123.64 301.52 L124.53 302.07 L125.42 302.74 L126.31 302.75 L127.19 302.39 L128.08 303.25 L128.97 303.72 L129.86 303.5 L130.75 303.77 L131.63 303.94 L132.52 304.21 L133.41 304.25 L134.3 305.29 L135.19 304.93 L136.07 305.79 L136.96 305.43 L137.85 305.8 L138.74 305.98 L139.62 305.93 L140.51 306.46 L141.4 306.28 L142.29 306.56 L143.18 307.01 L144.06 307.44 L144.95 307.7 L145.84 307.83 L146.73 307.92 L147.62 308.06 L148.5 307.25 L149.39 308.24 L150.28 308.4 L151.17 309.15 L152.06 309.31 L152.94 309.39 L153.83 309.43 L154.72 310.04 L155.61 309.37 L156.5 310.3 L157.38 309.96 L158.27 311.31 L159.16 310.74 L160.05 310.85 L160.94 311.09 L161.82 311.16 L162.71 311.47 L163.6 311.7 L164.49 312.54 L165.37 312.29 L166.26 312.98 L167.15 312.14 L168.04 312.39 L168.93 312.71 L169.81 313.06 L170.7 313.13 L171.59 312.47 L172.48 312.65 L173.37 313.4 L174.25 313.1 L175.14 314.21 L176.03 314.47 L176.92 314.13 L177.81 314.41 L178.69 314.45 L179.58 314.34 L180.47 313.47 L181.36 314.77 L182.25 314.61 L183.13 314.61 L184.02 314.79 L184.91 314.54 L185.8 314.34 L186.68 315.42 L187.57 315.03 L188.46 315.24 L189.35 315.11 L190.24 315.82 L191.12 315.97 L192.01 316.23 L192.9 315.36 L193.79 315.54 L194.68 315.66 L195.56 316.55 L196.45 315.96 L197.34 316.16 L198.23 316.45 L199.12 316.42 L200 316.02 L200.89 316.21" fill="none" stroke="#444" stroke-width="1.0" stroke-linejoin="round" stroke-dasharray="1.4 0.6"/>
<path d="M46.39 329.76 L47.28 329.6 L48.17 330 L49.06 329.8 L49.94 329.83 L50.83 329.68 L51.72 329.91 L52.61 329.96 L53.5 329.98 L54.38 330.18 L55.27 329.24 L56.16 329.83 L57.05 329.89 L57.94 329.29 L58.82 329.61 L59.71 330.62 L60.6 329.89 L61.49 329.86 L62.38 329.54 L63.26 329.75 L64.15 329.95 L65.04 330.63 L65.93 330.55 L66.82 330.19 L67.7 330.13 L68.59 330.67 L69.48 330.48 L70.37 330.51 L71.25 330.37 L72.14 330.31 L73.03 330.79 L73.92 331.44 L74.81 329.31 L75.69 327.53 L76.58 322.41 L77.47 315.39 L78.36 308.95 L79.25 304.81 L80.13 301.47 L81.02 301.82 L81.91 301.38 L82.8 301.23 L83.69 301.87 L84.57 300.91 L85.46 300.87 L86.35 300.96 L87.24 300.91 L88.13 301.32 L89.01 301.68 L89.9 301.89 L90.79 302.12 L91.68 301.98 L92.57 302.19 L93.45 302.12 L94.34 303.18 L95.23 301.9 L96.12 302.07 L97 303 L97.89 302.93 L98.78 303.16 L99.67 303.39 L100.56 303.72 L101.44 303.86 L102.33 304.26 L103.22 304.09 L104.11 304.33 L105 304.38 L105.88 304.94 L106.77 304.81 L107.66 304.98 L108.55 304.96 L109.44 305.69 L110.32 305.36 L111.21 305.34 L112.1 305.64 L112.99 306.13 L113.88 306.34 L114.76 306.41 L115.65 306.23 L116.54 306.1 L117.43 306.82 L118.31 307.13 L119.2 306.93 L120.09 307.14 L120.98 307.66 L121.87 307.75 L122.75 307.68 L123.64 307.57 L124.53 308.34 L125.42 308.42 L126.31 308.06 L127.19 308.77 L128.08 308.46 L128.97 308.51 L129.86 308.79 L130.75 309.23 L131.63 309.04 L132.52 309.26 L133.41 309.17 L134.3 309.69 L135.19 309.18 L136.07 310.23 L136.96 309.86 L137.85 309.93 L138.74 309.75 L139.62 310.4 L140.51 310.19 L141.4 310.75 L142.29 310.52 L143.18 310.38 L144.06 311.29 L144.95 311.2 L145.84 311.86 L146.73 311.42 L147.62 311.54 L148.5 312.12 L149.39 312.71 L150.28 312.39 L151.17 312.34 L152.06 312.56 L152.94 312.82 L153.83 313.81 L154.72 313.54 L155.61 312.95 L156.5 313.94 L157.38 313.27 L158.27 313.13 L159.16 313.61 L160.05 313.6 L160.94 314.2 L161.82 314.61 L162.71 314.34 L163.6 314.48 L164.49 314.5 L165.37 314.33 L166.26 314.68 L167.15 314.64 L168.04 314.64 L168.93 314.86 L169.81 314.31 L170.7 314.85 L171.59 315.05 L172.48 315.22 L173.37 315.43 L174.25 314.85 L175.14 315.32 L176.03 315.8 L176.92 315.71 L177.81 315.64 L178.69 315.81 L179.58 315.38 L180.47 316.21 L181.36 315.74 L182.25 315.94 L183.13 316.46 L184.02 316.13 L184.91 316.26 L185.8 316.14 L186.68 316.54 L187.57 316.37 L188.46 317.11 L189.35 317 L190.24 316.45 L191.12 316.45 L192.01 316.88 L192.9 317.16 L193.79 316.68 L194.68 317.82 L195.56 317.47 L196.45 317.06 L197.34 317.15 L198.23 317.79 L199.12 318.1 L200 316.98 L200.89 317.41" fill="none" stroke="#111" stroke-width="1.7" stroke-linejoin="round" stroke-dasharray="6 3"/>
<path d="M46.39 329.38 L47.28 329.11 L48.17 328.87 L49.06 330.08 L49.94 328.89 L50.83 329.05 L51.72 330.04 L52.61 329.13 L53.5 330.02 L54.38 329.09 L55.27 329.38 L56.16 328.8 L57.05 329.8 L57.94 329.64 L58.82 329.34 L59.71 329.94 L60.6 330.01 L61.49 329.94 L62.38 329.88 L63.26 330.26 L64.15 329.78 L65.04 329.8 L65.93 330 L66.82 329.5 L67.7 330.22 L68.59 329.72 L69.48 330.38 L70.37 329.99 L71.25 330.93 L72.14 330.26 L73.03 330.43 L73.92 330.58 L74.81 329.54 L75.69 328.12 L76.58 325.84 L77.47 323.68 L78.36 320.49 L79.25 317.82 L80.13 315.93 L81.02 314.45 L81.91 312.48 L82.8 310.52 L83.69 309.96 L84.57 309.38 L85.46 308.1 L86.35 308.07 L87.24 308.36 L88.13 308.56 L89.01 309.32 L89.9 309.53 L90.79 309.39 L91.68 310.21 L92.57 310.34 L93.45 310.45 L94.34 310.72 L95.23 311.21 L96.12 311.06 L97 311.72 L97.89 311.69 L98.78 311.85 L99.67 312.25 L100.56 312.5 L101.44 313.4 L102.33 313.72 L103.22 313.76 L104.11 313.67 L105 313.6 L105.88 314.78 L106.77 314.54 L107.66 315.2 L108.55 315.43 L109.44 315.55 L110.32 315.49 L111.21 315.88 L112.1 315.77 L112.99 316.72 L113.88 316.31 L114.76 316.52 L115.65 317.03 L116.54 317.12 L117.43 317.68 L118.31 318.08 L119.2 318.07 L120.09 318.37 L120.98 317.42 L121.87 318.76 L122.75 318.27 L123.64 318.98 L124.53 319.2 L125.42 319.33 L126.31 320.1 L127.19 319.81 L128.08 320.25 L128.97 321.15 L129.86 320.71 L130.75 321 L131.63 321.3 L132.52 321.19 L133.41 322.12 L134.3 322.08 L135.19 322.21 L136.07 322.87 L136.96 322.28 L137.85 323.28 L138.74 323.35 L139.62 322.85 L140.51 323.55 L141.4 323.41 L142.29 324.11 L143.18 323.72 L144.06 324.31 L144.95 324.01 L145.84 324.82 L146.73 324.35 L147.62 324.77 L148.5 324.85 L149.39 325.08 L150.28 325.2 L151.17 325.87 L152.06 326.47 L152.94 325.78 L153.83 326.23 L154.72 326.21 L155.61 326.04 L156.5 326.98 L157.38 326.71 L158.27 326.79 L159.16 327.07 L160.05 326.74 L160.94 327.03 L161.82 327.39 L162.71 327.58 L163.6 327.09 L164.49 327.6 L165.37 327.2 L166.26 327.27 L167.15 328.08 L168.04 327.83 L168.93 327.49 L169.81 327.4 L170.7 327.27 L171.59 327.29 L172.48 327.23 L173.37 327.72 L174.25 327.69 L175.14 327.38 L176.03 327.81 L176.92 327.33 L177.81 328.24 L178.69 327.51 L179.58 327.81 L180.47 328.44 L181.36 327.48 L182.25 327.72 L183.13 327.85 L184.02 328.24 L184.91 328.06 L185.8 327.42 L186.68 328.23 L187.57 329.14 L188.46 328.29 L189.35 328.43 L190.24 328.1 L191.12 328.21 L192.01 328.41 L192.9 328.41 L193.79 327.8 L194.68 328.66 L195.56 327.55 L196.45 328.41 L197.34 328.62 L198.23 328.02 L199.12 328.06 L200 328.55 L200.89 327.9" fill="none" stroke="#111" stroke-width="1.0" stroke-linejoin="round" stroke-dasharray="3.5 1.5 1.2 1.5"/>
<path d="M46.39 330.37 L47.28 330.1 L48.17 329.46 L49.06 329.97 L49.94 330.36 L50.83 329.8 L51.72 329.7 L52.61 330.06 L53.5 330.7 L54.38 330.25 L55.27 330.04 L56.16 329.97 L57.05 329.65 L57.94 330.39 L58.82 330.51 L59.71 330.41 L60.6 330.04 L61.49 330.8 L62.38 330.09 L63.26 331.49 L64.15 330.34 L65.04 330.88 L65.93 330.54 L66.82 330.51 L67.7 331.18 L68.59 330.85 L69.48 330.79 L70.37 330.71 L71.25 331.26 L72.14 331.33 L73.03 331.68 L73.92 330.23 L74.81 330.88 L75.69 330.56 L76.58 329.85 L77.47 327.71 L78.36 326.87 L79.25 324.88 L80.13 324.01 L81.02 323.29 L81.91 322.06 L82.8 321.68 L83.69 320.55 L84.57 319.94 L85.46 320.22 L86.35 319.83 L87.24 319.94 L88.13 319.46 L89.01 321.1 L89.9 320.26 L90.79 320.39 L91.68 320.28 L92.57 320.04 L93.45 320.09 L94.34 320.26 L95.23 320.48 L96.12 320.2 L97 320.33 L97.89 321.24 L98.78 320.89 L99.67 321.43 L100.56 321.54 L101.44 321.28 L102.33 321.48 L103.22 321.64 L104.11 322.14 L105 322.09 L105.88 322.5 L106.77 322.25 L107.66 322.32 L108.55 322.14 L109.44 322.48 L110.32 323.34 L111.21 323.36 L112.1 323.65 L112.99 323.37 L113.88 322.94 L114.76 323.5 L115.65 324.6 L116.54 324.42 L117.43 324.57 L118.31 324.1 L119.2 324.4 L120.09 324.43 L120.98 324.07 L121.87 325.08 L122.75 325.22 L123.64 324.41 L124.53 325.04 L125.42 325.5 L126.31 326.01 L127.19 325.93 L128.08 326.32 L128.97 325.57 L129.86 325.67 L130.75 325.44 L131.63 325.9 L132.52 326.18 L133.41 326.28 L134.3 325.49 L135.19 326.8 L136.07 326.24 L136.96 326.37 L137.85 326.26 L138.74 326.69 L139.62 326.48 L140.51 326.44 L141.4 326.81 L142.29 326.96 L143.18 326.91 L144.06 327.22 L144.95 327.01 L145.84 327.09 L146.73 326.97 L147.62 326.64 L148.5 326.69 L149.39 327.33 L150.28 327.02 L151.17 327.17 L152.06 327.06 L152.94 327.35 L153.83 327.3 L154.72 327.58 L155.61 327.72 L156.5 327.2 L157.38 327.09 L158.27 327.34 L159.16 327.45 L160.05 327.54 L160.94 327.81 L161.82 328.29 L162.71 327.5 L163.6 327.69 L164.49 327.95 L165.37 328.11 L166.26 327.37 L167.15 328.42 L168.04 327.24 L168.93 327.63 L169.81 327.07 L170.7 328.11 L171.59 327.89 L172.48 328.07 L173.37 327.86 L174.25 328 L175.14 328.2 L176.03 327.6 L176.92 328.24 L177.81 328.16 L178.69 327.82 L179.58 328.2 L180.47 328.18 L181.36 327.93 L182.25 328.18 L183.13 328.49 L184.02 328.12 L184.91 328.17 L185.8 327.54 L186.68 328.49 L187.57 327.81 L188.46 328.41 L189.35 328.28 L190.24 328.28 L191.12 328.09 L192.01 327.91 L192.9 327.62 L193.79 328.43 L194.68 327.79 L195.56 327.91 L196.45 327.99 L197.34 328.52 L198.23 327.98 L199.12 328.28 L200 328.08 L200.89 328.24" fill="none" stroke="#111" stroke-width="1.4" stroke-linejoin="round" stroke-dasharray="2.5 2"/>
<path d="M314.1 235 V334 H463" fill="none" stroke="#1a1a1a" stroke-width="1.25"/>
<path d="M311.1 334.25 H314.1 M311.1 314.4 H314.1 M311.1 294.55 H314.1 M311.1 274.7 H314.1 M311.1 254.85 H314.1 M311.1 235 H314.1 M313.75 334 V337 M330.33 334 V337 M346.92 334 V337 M363.5 334 V337 M380.08 334 V337 M396.67 334 V337 M413.25 334 V337 M429.83 334 V337 M446.42 334 V337 M463 334 V337 " stroke="#222" stroke-width="1"/>
<text x="309.4" y="336.82" font-size="6.3" text-anchor="end" class="tk">0.9</text>
<text x="309.4" y="316.97" font-size="6.3" text-anchor="end" class="tk">1.0</text>
<text x="309.4" y="297.12" font-size="6.3" text-anchor="end" class="tk">1.1</text>
<text x="309.4" y="277.27" font-size="6.3" text-anchor="end" class="tk">1.2</text>
<text x="309.4" y="257.42" font-size="6.3" text-anchor="end" class="tk">1.3</text>
<text x="309.4" y="237.57" font-size="6.3" text-anchor="end" class="tk">1.4</text>
<text x="313.75" y="344.02" font-size="6.3" text-anchor="middle" class="tk">0</text>
<text x="330.33" y="344.02" font-size="6.3" text-anchor="middle" class="tk">10</text>
<text x="346.92" y="344.02" font-size="6.3" text-anchor="middle" class="tk">20</text>
<text x="363.5" y="344.02" font-size="6.3" text-anchor="middle" class="tk">30</text>
<text x="380.08" y="344.02" font-size="6.3" text-anchor="middle" class="tk">40</text>
<text x="396.67" y="344.02" font-size="6.3" text-anchor="middle" class="tk">50</text>
<text x="413.25" y="344.02" font-size="6.3" text-anchor="middle" class="tk">60</text>
<text x="429.83" y="344.02" font-size="6.3" text-anchor="middle" class="tk">70</text>
<text x="446.42" y="344.02" font-size="6.3" text-anchor="middle" class="tk">80</text>
<text x="463" y="344.02" font-size="6.3" text-anchor="middle" class="tk">90</text>
<text class="bd" transform="translate(294.36 280.55) rotate(-90)" font-size="8" font-weight="bold" text-anchor="middle">ratio</text>
<text class="bd" x="374.15" y="355.91" font-size="7.19" font-weight="bold" textLength="28.24" lengthAdjust="spacingAndGlyphs">time [s]</text>
<text x="277.6" y="210.2" font-size="17.8" text-anchor="start" font-weight="bold">D</text>
<path d="M412.5 215.8 H427" fill="none" stroke="#111" stroke-width="1.0" stroke-linejoin="round" stroke-dasharray="3.5 1.5 1.2 1.5"/>
<text class="lg" x="429.2" y="220.5" font-size="8.1" textLength="53" lengthAdjust="spacing">MIP-3&#946; 10<tspan font-size="5.67" dy="-3.24">-7</tspan><tspan dy="3.24"> M</tspan></text>
<path d="M412.5 228.2 H427" fill="none" stroke="#111" stroke-width="1.25" stroke-linejoin="round"/>
<text class="lg" x="429.2" y="232.9" font-size="8.1" textLength="41.6" lengthAdjust="spacing">UTP 10<tspan font-size="5.67" dy="-3.24">-3</tspan><tspan dy="3.24"> M</tspan></text>
<path d="M412.5 240.8 H427" fill="none" stroke="#111" stroke-width="1.7" stroke-linejoin="round" stroke-dasharray="5.5 2.5"/>
<text class="lg" x="429.2" y="245.5" font-size="8.1" textLength="41.6" lengthAdjust="spacing">UTP 10<tspan font-size="5.67" dy="-3.24">-4</tspan><tspan dy="3.24"> M</tspan></text>
<path d="M412.5 253.1 H427" fill="none" stroke="#444" stroke-width="1.0" stroke-linejoin="round" stroke-dasharray="1.4 0.6"/>
<text class="lg" x="429.2" y="257.8" font-size="8.1" textLength="41.6" lengthAdjust="spacing">UTP 10<tspan font-size="5.67" dy="-3.24">-5</tspan><tspan dy="3.24"> M</tspan></text>
<path d="M314.58 327.97 L315.4 327.69 L316.23 327.63 L317.05 328.24 L317.88 327.59 L318.7 327.31 L319.53 328.45 L320.35 327.2 L321.18 328.54 L322 327.56 L322.82 327.48 L323.65 326.99 L324.47 327.53 L325.3 327.86 L326.12 327.96 L326.95 328.14 L327.77 327.08 L328.6 327.53 L329.42 327.72 L330.25 327.04 L331.07 327.64 L331.89 327.43 L332.72 327.39 L333.54 326.29 L334.37 326.34 L335.19 327.09 L336.02 327.74 L336.84 326.78 L337.67 326.83 L338.49 326.64 L339.32 326.48 L340.14 326.87 L340.97 326.21 L341.79 326.2 L342.61 326.46 L343.44 326.72 L344.26 326.71 L345.09 326.08 L345.91 326.92 L346.74 326.4 L347.56 326.24 L348.39 325.99 L349.21 324.43 L350.04 324.17 L350.86 323.57 L351.68 321.03 L352.51 318.83 L353.33 314.75 L354.16 311.19 L354.98 307.55 L355.81 305.12 L356.63 300.85 L357.46 297.72 L358.28 293.57 L359.11 290.06 L359.93 286.75 L360.75 282.34 L361.58 279.8 L362.4 276.4 L363.23 272.75 L364.05 269.73 L364.88 266.75 L365.7 265.15 L366.53 261.73 L367.35 259.82 L368.18 258.34 L369 257.81 L369.82 255.76 L370.65 256.38 L371.47 255.9 L372.3 256.54 L373.12 255.76 L373.95 255.56 L374.77 254.22 L375.6 254.48 L376.42 255.07 L377.25 254.08 L378.07 253.91 L378.89 254.06 L379.72 253.74 L380.54 254.01 L381.37 254.49 L382.19 255.44 L383.02 254.99 L383.84 254.69 L384.67 254.98 L385.49 256.08 L386.32 256.51 L387.14 256.44 L387.97 256.1 L388.79 256.57 L389.61 257.22 L390.44 256.76 L391.26 256.84 L392.09 256.29 L392.91 256.54 L393.74 256.86 L394.56 255.92 L395.39 255.4 L396.21 256.14 L397.04 255.49 L397.86 254.85 L398.68 255.29 L399.51 255.26 L400.33 254.18 L401.16 255.5 L401.98 256.15 L402.81 257.84 L403.63 257.4 L404.46 259.9 L405.28 260.26 L406.11 260.56 L406.93 261.18 L407.75 262.88 L408.58 262.87 L409.4 262.57 L410.23 263.7 L411.05 262.58 L411.88 262.73 L412.7 263.33 L413.53 262.95 L414.35 262.91 L415.18 263.21 L416 263.18 L416.82 262.78 L417.65 263.81 L418.47 263.58 L419.3 263.98 L420.12 263.41 L420.95 264.52 L421.77 264.51 L422.6 265.09 L423.42 265.54 L424.25 265.16 L425.07 266.44 L425.89 266.14 L426.72 266.84 L427.54 267.07 L428.37 268.41 L429.19 268.51 L430.02 269.22 L430.84 270.5 L431.67 270.7 L432.49 271.49 L433.32 271.92 L434.14 271.76 L434.96 273.21 L435.79 274.15 L436.61 274.66 L437.44 274.52 L438.26 275.09 L439.09 275.23 L439.91 275.42 L440.74 275.3 L441.56 276.45 L442.39 276.83 L443.21 277.48 L444.04 276.89 L444.86 276.56 L445.68 276.62 L446.51 278.24 L447.33 276.92 L448.16 276.64 L448.98 277.04 L449.81 278.24 L450.63 278.2 L451.46 278.3 L452.28 278.91 L453.11 280.02 L453.93 280.58 L454.75 280.23 L455.58 281.93 L456.4 281.2 L457.23 282.48 L458.05 282.95 L458.88 284.33 L459.7 284.58 L460.53 284.56 L461.35 286.2 L462.18 285.11 L463 287.68" fill="none" stroke="#111" stroke-width="1.0" stroke-linejoin="round" stroke-dasharray="3.5 1.5 1.2 1.5"/>
<path d="M314.58 328.88 L315.4 328.16 L316.23 327.85 L317.05 327.62 L317.88 328.03 L318.7 327.85 L319.53 327.75 L320.35 327.8 L321.18 328.65 L322 326.85 L322.82 327.09 L323.65 327.03 L324.47 327.31 L325.3 326.79 L326.12 326.82 L326.95 326.75 L327.77 326.09 L328.6 327.34 L329.42 326.3 L330.25 326.83 L331.07 326.55 L331.89 325.78 L332.72 327.11 L333.54 326.74 L334.37 327.08 L335.19 326.44 L336.02 327.46 L336.84 327.89 L337.67 326.94 L338.49 327.46 L339.32 327.37 L340.14 326.61 L340.97 327.45 L341.79 327.1 L342.61 326.75 L343.44 326.53 L344.26 326.87 L345.09 326.04 L345.91 325.36 L346.74 326.53 L347.56 325.26 L348.39 326.96 L349.21 325.09 L350.04 325.73 L350.86 325.3 L351.68 325.33 L352.51 325.27 L353.33 325.38 L354.16 324.76 L354.98 323.76 L355.81 323.71 L356.63 324.32 L357.46 324.31 L358.28 324.29 L359.11 324.43 L359.93 322.9 L360.75 323.34 L361.58 323.51 L362.4 323.7 L363.23 323.85 L364.05 322.64 L364.88 322.8 L365.7 323.52 L366.53 322.5 L367.35 323.4 L368.18 322.47 L369 323.13 L369.82 322.77 L370.65 322.24 L371.47 322.17 L372.3 321.8 L373.12 322.58 L373.95 321.33 L374.77 321.34 L375.6 321.89 L376.42 321.56 L377.25 322.06 L378.07 321.66 L378.89 322.12 L379.72 321.35 L380.54 321.25 L381.37 320.71 L382.19 320.9 L383.02 320.96 L383.84 321.52 L384.67 321.45 L385.49 321.51 L386.32 321.24 L387.14 322.27 L387.97 320.98 L388.79 322.14 L389.61 321.74 L390.44 321.58 L391.26 321.94 L392.09 321 L392.91 321.94 L393.74 321.24 L394.56 321.53 L395.39 322.42 L396.21 322.09 L397.04 321.68 L397.86 322.36 L398.68 322.06 L399.51 322.27 L400.33 321.87 L401.16 321.97 L401.98 321.66 L402.81 321.13 L403.63 320.84 L404.46 321.34 L405.28 321.29 L406.11 321.08 L406.93 321.72 L407.75 322.19 L408.58 321.25 L409.4 322.32 L410.23 321.54 L411.05 322.54 L411.88 321.3 L412.7 322.77 L413.53 321.94 L414.35 321.63 L415.18 322.8 L416 321.63 L416.82 322.73 L417.65 323.18 L418.47 322 L419.3 322.01 L420.12 322.44 L420.95 323.54 L421.77 322.37 L422.6 322.49 L423.42 322.52 L424.25 322.48 L425.07 323.19 L425.89 322.61 L426.72 321.48 L427.54 321.6 L428.37 322.51 L429.19 322.68 L430.02 322.15 L430.84 321.83 L431.67 322 L432.49 322.9 L433.32 322.26 L434.14 322.27 L434.96 321.65 L435.79 321.77 L436.61 322.09 L437.44 321.76 L438.26 322.53 L439.09 321.61 L439.91 322.54 L440.74 322.15 L441.56 321.9 L442.39 322.78 L443.21 322.67 L444.04 323.18 L444.86 322.26 L445.68 322.37 L446.51 322.49 L447.33 322.03 L448.16 323.22 L448.98 322.16 L449.81 322.04 L450.63 322.15 L451.46 321.58 L452.28 321.07 L453.11 322.05 L453.93 322.23 L454.75 322 L455.58 321.61 L456.4 321.31 L457.23 321.94 L458.05 320.99 L458.88 321.9 L459.7 320.94 L460.53 320.69 L461.35 320.23 L462.18 318.98 L463 319.69" fill="none" stroke="#111" stroke-width="1.25" stroke-linejoin="round"/>
<path d="M314.58 328.37 L315.4 328.02 L316.23 327.78 L317.05 328.78 L317.88 327.96 L318.7 328.39 L319.53 327.68 L320.35 327.28 L321.18 327.85 L322 327.88 L322.82 327.69 L323.65 329.13 L324.47 327.3 L325.3 327.35 L326.12 327.49 L326.95 327.7 L327.77 327.81 L328.6 327.5 L329.42 326.78 L330.25 327.36 L331.07 326.66 L331.89 328.53 L332.72 327.52 L333.54 327.17 L334.37 327.31 L335.19 328.09 L336.02 327.62 L336.84 326.71 L337.67 327.92 L338.49 327.77 L339.32 327.83 L340.14 327.57 L340.97 327 L341.79 327.02 L342.61 328.27 L343.44 326.61 L344.26 327.58 L345.09 327.58 L345.91 326.51 L346.74 327.34 L347.56 327.74 L348.39 327.26 L349.21 327.1 L350.04 327.04 L350.86 326.52 L351.68 325.74 L352.51 325.8 L353.33 326.42 L354.16 324.24 L354.98 325.84 L355.81 325.19 L356.63 325.13 L357.46 324.69 L358.28 325.11 L359.11 324.63 L359.93 323.75 L360.75 324.61 L361.58 325.07 L362.4 324.3 L363.23 324.74 L364.05 324.47 L364.88 324.15 L365.7 324.03 L366.53 324.28 L367.35 323.69 L368.18 324.14 L369 324.62 L369.82 323.53 L370.65 324.07 L371.47 323.27 L372.3 324.11 L373.12 323.48 L373.95 323.55 L374.77 324.94 L375.6 324.31 L376.42 324.08 L377.25 322.83 L378.07 324.35 L378.89 322.97 L379.72 322.83 L380.54 323.12 L381.37 323.09 L382.19 323.69 L383.02 323.51 L383.84 323.45 L384.67 323.41 L385.49 323.32 L386.32 323.8 L387.14 324.09 L387.97 324.07 L388.79 323.66 L389.61 324.69 L390.44 324.55 L391.26 324.2 L392.09 324.31 L392.91 324.23 L393.74 325.42 L394.56 324.36 L395.39 324.37 L396.21 323.93 L397.04 325.27 L397.86 324.47 L398.68 324.1 L399.51 324.09 L400.33 323.76 L401.16 323.82 L401.98 324.83 L402.81 324.02 L403.63 324.48 L404.46 324.71 L405.28 323.59 L406.11 324.63 L406.93 324.73 L407.75 324.52 L408.58 324.73 L409.4 323.84 L410.23 324.14 L411.05 323.66 L411.88 324.13 L412.7 324.62 L413.53 323.84 L414.35 324.7 L415.18 324.66 L416 324.57 L416.82 324.52 L417.65 324.02 L418.47 324.93 L419.3 324.52 L420.12 324.75 L420.95 325.39 L421.77 325.36 L422.6 324.99 L423.42 324.74 L424.25 324.83 L425.07 324.8 L425.89 325.06 L426.72 325.35 L427.54 324.98 L428.37 325.71 L429.19 325.92 L430.02 325.49 L430.84 326.06 L431.67 325.67 L432.49 325.83 L433.32 325.79 L434.14 325.6 L434.96 326.01 L435.79 325.88 L436.61 326.54 L437.44 325.7 L438.26 326.24 L439.09 325.68 L439.91 327.27 L440.74 326.35 L441.56 325.9 L442.39 327.24 L443.21 326.29 L444.04 326.12 L444.86 326.17 L445.68 326.98 L446.51 326.21 L447.33 326.35 L448.16 326.98 L448.98 326.26 L449.81 326.74 L450.63 326.81 L451.46 327.13 L452.28 326.75 L453.11 327.06 L453.93 326.66 L454.75 327.09 L455.58 327.6 L456.4 327.41 L457.23 326.86 L458.05 327.48 L458.88 327.12 L459.7 327.05 L460.53 327.39 L461.35 328.42 L462.18 327.24 L463 327.2" fill="none" stroke="#111" stroke-width="1.7" stroke-linejoin="round" stroke-dasharray="5.5 2.5"/>
<path d="M314.58 329.22 L315.4 329.6 L316.23 328.6 L317.05 329.2 L317.88 329.38 L318.7 329.37 L319.53 328.8 L320.35 329.45 L321.18 329.35 L322 327.86 L322.82 328.14 L323.65 328.21 L324.47 328.01 L325.3 328.33 L326.12 329.37 L326.95 327.93 L327.77 327.86 L328.6 328.17 L329.42 329.29 L330.25 327.7 L331.07 327.6 L331.89 328.44 L332.72 328.09 L333.54 327.73 L334.37 328.09 L335.19 327.48 L336.02 327.92 L336.84 327.57 L337.67 327.82 L338.49 328.52 L339.32 328.24 L340.14 326.19 L340.97 327.52 L341.79 326.98 L342.61 327.01 L343.44 326.69 L344.26 327.19 L345.09 327.7 L345.91 327.35 L346.74 328.24 L347.56 327.35 L348.39 326.78 L349.21 328.21 L350.04 327.02 L350.86 326.67 L351.68 326.38 L352.51 327.41 L353.33 327.23 L354.16 327.77 L354.98 327.31 L355.81 326.51 L356.63 325.72 L357.46 327.22 L358.28 325.96 L359.11 326.37 L359.93 326.76 L360.75 325.42 L361.58 327.64 L362.4 326.41 L363.23 326.22 L364.05 325.25 L364.88 325.36 L365.7 325.09 L366.53 326.06 L367.35 325.61 L368.18 325.37 L369 325.73 L369.82 325.76 L370.65 325.97 L371.47 326.03 L372.3 326.38 L373.12 324.79 L373.95 325.9 L374.77 326.64 L375.6 325.46 L376.42 325.55 L377.25 325.4 L378.07 324.56 L378.89 325.44 L379.72 325.47 L380.54 325.68 L381.37 325.33 L382.19 325.53 L383.02 325.22 L383.84 323.81 L384.67 325.13 L385.49 325.73 L386.32 324.39 L387.14 324.9 L387.97 324.92 L388.79 324.97 L389.61 324.92 L390.44 324.99 L391.26 324.64 L392.09 324.83 L392.91 324.67 L393.74 325.56 L394.56 325.32 L395.39 325.67 L396.21 324.86 L397.04 324.89 L397.86 325.47 L398.68 324.91 L399.51 323.88 L400.33 324.5 L401.16 325.59 L401.98 325.04 L402.81 324.64 L403.63 324.92 L404.46 324.66 L405.28 324.23 L406.11 324.59 L406.93 325.23 L407.75 324.31 L408.58 324.65 L409.4 324.5 L410.23 324.78 L411.05 325.12 L411.88 325.01 L412.7 324.53 L413.53 324.84 L414.35 325.64 L415.18 323.77 L416 324.89 L416.82 324.68 L417.65 324.07 L418.47 325.49 L419.3 323.68 L420.12 324.7 L420.95 324.01 L421.77 324.56 L422.6 324.18 L423.42 324.27 L424.25 324.33 L425.07 325.21 L425.89 325.04 L426.72 324.34 L427.54 323.64 L428.37 324.59 L429.19 324.07 L430.02 324.25 L430.84 324.09 L431.67 323.85 L432.49 325.05 L433.32 324.19 L434.14 324.41 L434.96 324.48 L435.79 324.74 L436.61 324.7 L437.44 324.82 L438.26 324.86 L439.09 323.11 L439.91 323.5 L440.74 324.32 L441.56 323.97 L442.39 324.8 L443.21 325.67 L444.04 325.21 L444.86 324.26 L445.68 323.63 L446.51 324.34 L447.33 324.78 L448.16 324.38 L448.98 324.72 L449.81 324.88 L450.63 324.29 L451.46 324.34 L452.28 324.51 L453.11 324.51 L453.93 324.51 L454.75 323.91 L455.58 323.32 L456.4 324.07 L457.23 322.86 L458.05 324.69 L458.88 323.74 L459.7 324.41 L460.53 323.9 L461.35 323.74 L462.18 323.49 L463 323.18" fill="none" stroke="#444" stroke-width="1.0" stroke-linejoin="round" stroke-dasharray="1.4 0.6"/>
<path d="M46.5 395.75 V504.5 H207.5" fill="none" stroke="#1a1a1a" stroke-width="1.25"/>
<path d="M43.5 483 H46.5 M43.5 461.19 H46.5 M43.5 439.38 H46.5 M43.5 417.56 H46.5 M43.5 395.75 H46.5 M46.5 504.5 V507.5 M64.39 504.5 V507.5 M82.28 504.5 V507.5 M100.17 504.5 V507.5 M118.06 504.5 V507.5 M135.94 504.5 V507.5 M153.83 504.5 V507.5 M171.72 504.5 V507.5 M189.61 504.5 V507.5 M207.5 504.5 V507.5 " stroke="#222" stroke-width="1"/>
<text transform="translate(42 486.19) scale(1.06 1)" font-size="6.5" text-anchor="end" class="tk">1.0</text>
<text transform="translate(42 464.38) scale(1.06 1)" font-size="6.5" text-anchor="end" class="tk">1.1</text>
<text transform="translate(42 442.56) scale(1.06 1)" font-size="6.5" text-anchor="end" class="tk">1.2</text>
<text transform="translate(42 420.75) scale(1.06 1)" font-size="6.5" text-anchor="end" class="tk">1.3</text>
<text transform="translate(42 398.94) scale(1.06 1)" font-size="6.5" text-anchor="end" class="tk">1.4</text>
<text transform="translate(46.5 514.84) scale(0.95 1)" font-size="6.5" text-anchor="middle" class="tk">0</text>
<text transform="translate(64.39 514.84) scale(0.95 1)" font-size="6.5" text-anchor="middle" class="tk">10</text>
<text transform="translate(82.28 514.84) scale(0.95 1)" font-size="6.5" text-anchor="middle" class="tk">20</text>
<text transform="translate(100.17 514.84) scale(0.95 1)" font-size="6.5" text-anchor="middle" class="tk">30</text>
<text transform="translate(118.06 514.84) scale(0.95 1)" font-size="6.5" text-anchor="middle" class="tk">40</text>
<text transform="translate(135.94 514.84) scale(0.95 1)" font-size="6.5" text-anchor="middle" class="tk">50</text>
<text transform="translate(153.83 514.84) scale(0.95 1)" font-size="6.5" text-anchor="middle" class="tk">60</text>
<text transform="translate(171.72 514.84) scale(0.95 1)" font-size="6.5" text-anchor="middle" class="tk">70</text>
<text transform="translate(189.61 514.84) scale(0.95 1)" font-size="6.5" text-anchor="middle" class="tk">80</text>
<text transform="translate(207.5 514.84) scale(0.95 1)" font-size="6.5" text-anchor="middle" class="tk">90</text>
<text class="bd" transform="translate(24.8 445.95) rotate(-90)" font-size="8.39" font-weight="bold" text-anchor="middle">ratio</text>
<text class="bd" x="112.35" y="527.64" font-size="6.55" font-weight="bold" textLength="30.99" lengthAdjust="spacingAndGlyphs">time [s]</text>
<text x="0.5" y="385.6" font-size="17.8" text-anchor="start" font-weight="bold">E</text>
<path d="M153.75 390.1 H168.75" fill="none" stroke="#111" stroke-width="1.25" stroke-linejoin="round"/>
<text class="lg" x="171.5" y="395.47" font-size="8.3" textLength="45.4" lengthAdjust="spacing">ADP 10<tspan font-size="5.81" dy="-3.32">-3</tspan><tspan dy="3.32"> M</tspan></text>
<path d="M153.75 404.6 H168.75" fill="none" stroke="#444" stroke-width="1.0" stroke-linejoin="round" stroke-dasharray="1.4 0.6"/>
<text class="lg" x="171.5" y="409.97" font-size="8.3" textLength="45.4" lengthAdjust="spacing">ADP 10<tspan font-size="5.81" dy="-3.32">-4</tspan><tspan dy="3.32"> M</tspan></text>
<path d="M153.75 418.8 H168.75" fill="none" stroke="#111" stroke-width="1.7" stroke-linejoin="round" stroke-dasharray="7 3"/>
<text class="lg" x="171.5" y="424.17" font-size="8.3" textLength="45.4" lengthAdjust="spacing">ADP 10<tspan font-size="5.81" dy="-3.32">-5</tspan><tspan dy="3.32"> M</tspan></text>
<path d="M153.75 432.3 H168.75" fill="none" stroke="#111" stroke-width="1.0" stroke-linejoin="round" stroke-dasharray="3.5 1.5 1.2 1.5"/>
<text class="lg" x="171.5" y="437.67" font-size="8.3" textLength="45.4" lengthAdjust="spacing">ADP 10<tspan font-size="5.81" dy="-3.32">-6</tspan><tspan dy="3.32"> M</tspan></text>
<path d="M47.39 484.39 L48.29 484.87 L49.18 484.43 L50.07 484.3 L50.96 484.94 L51.85 484.22 L52.74 483.92 L53.63 485.69 L54.53 484.86 L55.42 484.64 L56.31 486.1 L57.2 484.86 L58.09 484.98 L58.98 485.51 L59.87 483.94 L60.77 484.42 L61.66 484.68 L62.55 484.08 L63.44 483.86 L64.33 483.69 L65.22 483.78 L66.11 483.87 L67.01 484.72 L67.9 484.31 L68.79 484.02 L69.68 484.56 L70.57 469.92 L71.46 458.21 L72.35 445.53 L73.25 432.89 L74.14 427.08 L75.03 424.74 L75.92 425.79 L76.81 426.43 L77.7 427.01 L78.6 427.22 L79.49 427.16 L80.38 427.73 L81.27 427.55 L82.16 429.14 L83.05 430.14 L83.94 431.15 L84.84 431.84 L85.73 433.35 L86.62 434.7 L87.51 436.04 L88.4 437.5 L89.29 438.37 L90.18 438.95 L91.08 440.31 L91.97 441.75 L92.86 443.37 L93.75 444.45 L94.64 444.35 L95.53 444.86 L96.42 446.09 L97.32 447.91 L98.21 448.18 L99.1 448.83 L99.99 450.32 L100.88 450.53 L101.77 451.75 L102.66 453.02 L103.56 454.17 L104.45 454.01 L105.34 455.19 L106.23 456.78 L107.12 457.78 L108.01 457.7 L108.9 458.54 L109.8 459.53 L110.69 459.03 L111.58 460.54 L112.47 461.45 L113.36 460.82 L114.25 462 L115.14 462.23 L116.04 462.9 L116.93 463.96 L117.82 464.56 L118.71 464.54 L119.6 464.09 L120.49 465.68 L121.38 464.74 L122.28 465.65 L123.17 466.66 L124.06 466.24 L124.95 466.39 L125.84 467.47 L126.73 468.44 L127.62 467.42 L128.52 468.51 L129.41 467.99 L130.3 469.56 L131.19 468.94 L132.08 469.61 L132.97 470.28 L133.86 469.95 L134.76 470.05 L135.65 470.75 L136.54 471.4 L137.43 470.98 L138.32 472.34 L139.21 471.45 L140.1 471.79 L141 471.48 L141.89 472.22 L142.78 472.82 L143.67 473.19 L144.56 473.63 L145.45 474.67 L146.34 473.5 L147.24 474.17 L148.13 474.76 L149.02 475.38 L149.91 474.15 L150.8 474.82 L151.69 475.9 L152.59 475.08 L153.48 474.6 L154.37 475.78 L155.26 475.72 L156.15 476.32 L157.04 476.6 L157.93 475.86 L158.83 474.96 L159.72 476.7 L160.61 476.99 L161.5 476.67 L162.39 477.42 L163.28 477.02 L164.17 477.1 L165.07 478.2 L165.96 478.37 L166.85 477.97 L167.74 477.62 L168.63 478.04 L169.52 477.67 L170.41 479.18 L171.31 478.32 L172.2 479.05 L173.09 478.8 L173.98 478.81 L174.87 479.62 L175.76 479.36 L176.65 479.99 L177.55 479.36 L178.44 480.09 L179.33 480.03 L180.22 479.8 L181.11 480.4 L182 479.59 L182.89 480.68 L183.79 480.03 L184.68 480.47 L185.57 481.31 L186.46 481.02 L187.35 481.49 L188.24 481.38 L189.13 481.47 L190.03 480.51 L190.92 481.84 L191.81 480.93 L192.7 481.66 L193.59 482.73 L194.48 483.4 L195.37 481.96 L196.27 483.5 L197.16 482.19 L198.05 482.14 L198.94 482.6 L199.83 483.03 L200.72 483.17 L201.61 483.02 L202.51 483.44 L203.4 483.68 L204.29 483.71 L205.18 483.02 L206.07 484.08 L206.96 483.67" fill="none" stroke="#111" stroke-width="1.25" stroke-linejoin="round"/>
<path d="M47.39 484.7 L48.29 484.47 L49.18 484.82 L50.07 484.2 L50.96 483.73 L51.85 483.93 L52.74 484.35 L53.63 483.77 L54.53 484.27 L55.42 483.89 L56.31 483.95 L57.2 483.8 L58.09 485.4 L58.98 484.78 L59.87 483.68 L60.77 484.15 L61.66 482.91 L62.55 484.21 L63.44 484.38 L64.33 483.3 L65.22 483.8 L66.11 483.09 L67.01 483.82 L67.9 484.2 L68.79 482.2 L69.68 481.37 L70.57 470.1 L71.46 458.2 L72.35 448.38 L73.25 438.43 L74.14 429.67 L75.03 426.08 L75.92 424.04 L76.81 422.74 L77.7 424.95 L78.6 423.88 L79.49 423.97 L80.38 424.91 L81.27 424.26 L82.16 425.59 L83.05 425.94 L83.94 427.02 L84.84 428.11 L85.73 429.44 L86.62 430.84 L87.51 431.29 L88.4 432.33 L89.29 432.87 L90.18 434.15 L91.08 433.21 L91.97 436.57 L92.86 436.02 L93.75 437.67 L94.64 438.26 L95.53 438.35 L96.42 439.54 L97.32 440.89 L98.21 440.74 L99.1 441.77 L99.99 443.46 L100.88 442.98 L101.77 444 L102.66 444.2 L103.56 443.92 L104.45 444.37 L105.34 445.05 L106.23 444.11 L107.12 445.4 L108.01 446.3 L108.9 446.23 L109.8 446.8 L110.69 448.28 L111.58 448.33 L112.47 448.61 L113.36 447.17 L114.25 448.73 L115.14 449.16 L116.04 449.69 L116.93 449.26 L117.82 450.14 L118.71 449.64 L119.6 450.44 L120.49 450.24 L121.38 451.42 L122.28 451.42 L123.17 452.09 L124.06 452.21 L124.95 453.28 L125.84 452.93 L126.73 453.38 L127.62 453.48 L128.52 452.75 L129.41 453.5 L130.3 453.17 L131.19 453.44 L132.08 453.49 L132.97 453.53 L133.86 454.46 L134.76 453.8 L135.65 454.48 L136.54 454.67 L137.43 453.85 L138.32 453.42 L139.21 455.15 L140.1 453.81 L141 454.37 L141.89 455.33 L142.78 454.83 L143.67 454.86 L144.56 454.94 L145.45 455.41 L146.34 455.98 L147.24 455.38 L148.13 455.04 L149.02 455.17 L149.91 455.33 L150.8 455.19 L151.69 456.39 L152.59 455.98 L153.48 455.88 L154.37 455.63 L155.26 456.16 L156.15 456.07 L157.04 456.36 L157.93 455.43 L158.83 457.77 L159.72 456.73 L160.61 455.51 L161.5 456.78 L162.39 457.96 L163.28 457.15 L164.17 458.28 L165.07 458.2 L165.96 458.03 L166.85 457.56 L167.74 458.53 L168.63 458.73 L169.52 458.86 L170.41 459.6 L171.31 460.46 L172.2 460.38 L173.09 460.46 L173.98 461.09 L174.87 461.61 L175.76 461.76 L176.65 462.67 L177.55 462.73 L178.44 462.55 L179.33 462.93 L180.22 462.82 L181.11 462.2 L182 462.87 L182.89 463.14 L183.79 463.83 L184.68 463.88 L185.57 463.21 L186.46 463.96 L187.35 463.37 L188.24 464.25 L189.13 463.71 L190.03 463.92 L190.92 463.45 L191.81 464.27 L192.7 464.36 L193.59 464.13 L194.48 464.32 L195.37 463.56 L196.27 464.64 L197.16 464.83 L198.05 464.77 L198.94 464.41 L199.83 464.58 L200.72 464.39 L201.61 465.53 L202.51 463.56 L203.4 463.94 L204.29 464.98 L205.18 465.65 L206.07 464.98 L206.96 464.9" fill="none" stroke="#444" stroke-width="1.0" stroke-linejoin="round" stroke-dasharray="1.4 0.6"/>
<path d="M47.39 486.35 L48.29 485.17 L49.18 485.96 L50.07 484.94 L50.96 484.46 L51.85 484.64 L52.74 485.97 L53.63 484.46 L54.53 484.71 L55.42 485.37 L56.31 484.92 L57.2 484.39 L58.09 485.36 L58.98 485.19 L59.87 485.47 L60.77 484.57 L61.66 486.31 L62.55 484.44 L63.44 485.69 L64.33 484.7 L65.22 486.03 L66.11 485.67 L67.01 485.49 L67.9 484.75 L68.79 486.03 L69.68 484.86 L70.57 485.51 L71.46 484.53 L72.35 484.85 L73.25 483.89 L74.14 468.98 L75.03 451.1 L75.92 437.96 L76.81 423.82 L77.7 411.99 L78.6 410.14 L79.49 409.12 L80.38 410.16 L81.27 409.97 L82.16 411.57 L83.05 410.62 L83.94 411.32 L84.84 412.39 L85.73 413.03 L86.62 412.36 L87.51 413.42 L88.4 415.12 L89.29 414.05 L90.18 416.26 L91.08 417.26 L91.97 418.11 L92.86 420.01 L93.75 421.43 L94.64 422.14 L95.53 422.3 L96.42 423.59 L97.32 426.09 L98.21 425.8 L99.1 427.58 L99.99 428.38 L100.88 429.67 L101.77 430.52 L102.66 432.31 L103.56 433.31 L104.45 434.24 L105.34 435.11 L106.23 435.64 L107.12 437.65 L108.01 437.22 L108.9 439.33 L109.8 440.18 L110.69 440.37 L111.58 441.38 L112.47 442.65 L113.36 443.91 L114.25 444.74 L115.14 445.81 L116.04 445.02 L116.93 445.7 L117.82 445.94 L118.71 447.31 L119.6 448.05 L120.49 448.48 L121.38 448.98 L122.28 450.18 L123.17 450.42 L124.06 450.03 L124.95 452.61 L125.84 453.02 L126.73 453.34 L127.62 452.85 L128.52 452.87 L129.41 453.93 L130.3 453.65 L131.19 454.28 L132.08 454.35 L132.97 455.04 L133.86 455.03 L134.76 455.27 L135.65 455.28 L136.54 455.37 L137.43 458.16 L138.32 457.49 L139.21 458.04 L140.1 457.8 L141 458.03 L141.89 458.45 L142.78 458.7 L143.67 459.9 L144.56 460.57 L145.45 459.07 L146.34 459.58 L147.24 460.99 L148.13 460.08 L149.02 460.68 L149.91 462.59 L150.8 461.1 L151.69 462.36 L152.59 461.5 L153.48 462.75 L154.37 463.05 L155.26 463.71 L156.15 463.24 L157.04 462.81 L157.93 463.93 L158.83 464.78 L159.72 462.9 L160.61 463.29 L161.5 464.12 L162.39 464.99 L163.28 465.57 L164.17 466.03 L165.07 465.1 L165.96 464.94 L166.85 466.4 L167.74 466.07 L168.63 466.45 L169.52 466.66 L170.41 466.49 L171.31 465.8 L172.2 467.32 L173.09 466.62 L173.98 466.58 L174.87 467.38 L175.76 467.39 L176.65 468.1 L177.55 466.92 L178.44 467.84 L179.33 467.99 L180.22 467.69 L181.11 468.26 L182 468.44 L182.89 468.13 L183.79 467.28 L184.68 468.25 L185.57 467.95 L186.46 469.08 L187.35 469.43 L188.24 467.71 L189.13 469.13 L190.03 469.99 L190.92 469.5 L191.81 469.39 L192.7 470.87 L193.59 470.69 L194.48 470.35 L195.37 471.23 L196.27 470.49 L197.16 470.56 L198.05 470.99 L198.94 471.6 L199.83 471.55 L200.72 472.01 L201.61 471.9 L202.51 471.82 L203.4 472.29 L204.29 471.78 L205.18 471.08 L206.07 472.88 L206.96 472.57" fill="none" stroke="#111" stroke-width="1.7" stroke-linejoin="round" stroke-dasharray="7 3"/>
<path d="M47.39 483.66 L48.29 483.75 L49.18 484.22 L50.07 484.34 L50.96 483.56 L51.85 483.76 L52.74 483.82 L53.63 484.51 L54.53 483.76 L55.42 483.67 L56.31 484.19 L57.2 483.75 L58.09 482.95 L58.98 485.08 L59.87 483.77 L60.77 484.71 L61.66 484.81 L62.55 484.21 L63.44 483.8 L64.33 484.06 L65.22 484.7 L66.11 484.85 L67.01 484.38 L67.9 484.08 L68.79 484.53 L69.68 484.88 L70.57 477.69 L71.46 473.08 L72.35 466.91 L73.25 461.31 L74.14 455.54 L75.03 453.02 L75.92 451.42 L76.81 450.59 L77.7 451.84 L78.6 452.29 L79.49 450.77 L80.38 452.13 L81.27 451.98 L82.16 452.05 L83.05 452.68 L83.94 453.24 L84.84 454.37 L85.73 454.73 L86.62 453.82 L87.51 454.42 L88.4 454.93 L89.29 456.55 L90.18 457.25 L91.08 457.13 L91.97 457.64 L92.86 457.38 L93.75 458.45 L94.64 457.53 L95.53 459.14 L96.42 459.55 L97.32 459.25 L98.21 459.87 L99.1 460.79 L99.99 460.15 L100.88 459.84 L101.77 461.78 L102.66 461.53 L103.56 462.24 L104.45 462.97 L105.34 461.89 L106.23 462.12 L107.12 462.25 L108.01 462.81 L108.9 464.36 L109.8 463.56 L110.69 464.16 L111.58 464.68 L112.47 464.9 L113.36 464.16 L114.25 464.97 L115.14 464.03 L116.04 465.08 L116.93 466.59 L117.82 465.36 L118.71 465.42 L119.6 466.32 L120.49 467.23 L121.38 465.91 L122.28 467.8 L123.17 467.4 L124.06 468.62 L124.95 468.53 L125.84 469.02 L126.73 467.79 L127.62 468 L128.52 469.09 L129.41 469.85 L130.3 469.42 L131.19 469.46 L132.08 470.74 L132.97 470.82 L133.86 470.53 L134.76 470.38 L135.65 470.98 L136.54 471.05 L137.43 472.23 L138.32 473.16 L139.21 471.94 L140.1 472.87 L141 472.72 L141.89 473.12 L142.78 472.94 L143.67 473.88 L144.56 472.97 L145.45 473.99 L146.34 474 L147.24 474.13 L148.13 474.11 L149.02 474.63 L149.91 475.97 L150.8 475.56 L151.69 474.42 L152.59 475.35 L153.48 475.49 L154.37 475.73 L155.26 476.51 L156.15 476.72 L157.04 476.89 L157.93 476.12 L158.83 476.73 L159.72 476.17 L160.61 477.04 L161.5 476.49 L162.39 477.44 L163.28 478.48 L164.17 477.06 L165.07 477.95 L165.96 477.64 L166.85 478.3 L167.74 478.74 L168.63 478.62 L169.52 479.45 L170.41 479.63 L171.31 479.61 L172.2 479.56 L173.09 480.15 L173.98 479.62 L174.87 479.55 L175.76 478.77 L176.65 479.01 L177.55 480.17 L178.44 479.81 L179.33 480.54 L180.22 480.36 L181.11 480.73 L182 481.14 L182.89 480.95 L183.79 481.93 L184.68 481.04 L185.57 481.57 L186.46 482.14 L187.35 481.89 L188.24 481.55 L189.13 482.35 L190.03 481.87 L190.92 481.96 L191.81 481.57 L192.7 483.14 L193.59 482.75 L194.48 482.56 L195.37 482.17 L196.27 482.96 L197.16 482.81 L198.05 484.13 L198.94 483.77 L199.83 482.68 L200.72 483.85 L201.61 482.65 L202.51 484.32 L203.4 484.2 L204.29 485.03 L205.18 483.95 L206.07 484.27 L206.96 483.44" fill="none" stroke="#111" stroke-width="1.0" stroke-linejoin="round" stroke-dasharray="3.5 1.5 1.2 1.5"/>
<path d="M306.5 399.25 V513.5 H476.25" fill="none" stroke="#1a1a1a" stroke-width="1.25"/>
<path d="M303.5 499.5 H306.5 M303.5 485.18 H306.5 M303.5 470.86 H306.5 M303.5 456.54 H306.5 M303.5 442.21 H306.5 M303.5 427.89 H306.5 M303.5 413.57 H306.5 M303.5 399.25 H306.5 M306.25 513.5 V516.5 M325.14 513.5 V516.5 M344.03 513.5 V516.5 M362.92 513.5 V516.5 M381.81 513.5 V516.5 M400.69 513.5 V516.5 M419.58 513.5 V516.5 M438.47 513.5 V516.5 M457.36 513.5 V516.5 M476.25 513.5 V516.5 " stroke="#222" stroke-width="1"/>
<text x="300.9" y="502.23" font-size="6.6" text-anchor="end" class="tk">1.0</text>
<text x="300.9" y="487.9" font-size="6.6" text-anchor="end" class="tk">1.1</text>
<text x="300.9" y="473.58" font-size="6.6" text-anchor="end" class="tk">1.2</text>
<text x="300.9" y="459.26" font-size="6.6" text-anchor="end" class="tk">1.3</text>
<text x="300.9" y="444.94" font-size="6.6" text-anchor="end" class="tk">1.4</text>
<text x="300.9" y="430.62" font-size="6.6" text-anchor="end" class="tk">1.5</text>
<text x="300.9" y="416.3" font-size="6.6" text-anchor="end" class="tk">1.6</text>
<text x="300.9" y="401.98" font-size="6.6" text-anchor="end" class="tk">1.7</text>
<text x="306.25" y="524.68" font-size="6.6" text-anchor="middle" class="tk">0</text>
<text x="325.14" y="524.68" font-size="6.6" text-anchor="middle" class="tk">10</text>
<text x="344.03" y="524.68" font-size="6.6" text-anchor="middle" class="tk">20</text>
<text x="362.92" y="524.68" font-size="6.6" text-anchor="middle" class="tk">30</text>
<text x="381.81" y="524.68" font-size="6.6" text-anchor="middle" class="tk">40</text>
<text x="400.69" y="524.68" font-size="6.6" text-anchor="middle" class="tk">50</text>
<text x="419.58" y="524.68" font-size="6.6" text-anchor="middle" class="tk">60</text>
<text x="438.47" y="524.68" font-size="6.6" text-anchor="middle" class="tk">70</text>
<text x="457.36" y="524.68" font-size="6.6" text-anchor="middle" class="tk">80</text>
<text x="476.25" y="524.68" font-size="6.6" text-anchor="middle" class="tk">90</text>
<text class="bd" transform="translate(284.19 452.45) rotate(-90)" font-size="9.07" font-weight="bold" text-anchor="middle">ratio</text>
<text class="bd" x="375.05" y="538.75" font-size="6.97" font-weight="bold" textLength="32.62" lengthAdjust="spacingAndGlyphs">time [s]</text>
<text x="276.8" y="386" font-size="17.8" text-anchor="start" font-weight="bold">F</text>
<path d="M395 416.2 H411.25" fill="none" stroke="#3a3a3a" stroke-width="0.9" stroke-linejoin="round"/>
<text class="lg" x="412.8" y="421.24" font-size="8.5" textLength="48.6" lengthAdjust="spacing">ADP 10<tspan font-size="5.95" dy="-3.4">-3</tspan><tspan dy="3.4"> M</tspan></text>
<path d="M395 432.8 H411.25" fill="none" stroke="#111" stroke-width="1.4" stroke-linejoin="round" stroke-dasharray="2.5 2"/>
<text class="lg" x="412.8" y="437.84" font-size="8.5" textLength="60" lengthAdjust="spacing">MIP-3&#946; 10<tspan font-size="5.95" dy="-3.4">-7</tspan><tspan dy="3.4"> M</tspan></text>
<path d="M307.19 503.02 L308.13 502.69 L309.07 502.63 L310.01 501.69 L310.95 501.43 L311.89 501.62 L312.83 501.57 L313.77 501.82 L314.71 502.26 L315.65 502.14 L316.59 502.08 L317.53 502.37 L318.46 501.06 L319.4 501.29 L320.34 501.56 L321.28 500.82 L322.22 500.83 L323.16 500.58 L324.1 500.42 L325.04 502.01 L325.98 500.74 L326.92 500.39 L327.86 501.27 L328.8 501.59 L329.74 500.83 L330.67 500.81 L331.61 500.81 L332.55 501.33 L333.49 501.1 L334.43 500.86 L335.37 500.73 L336.31 500.29 L337.25 501.03 L338.19 501.42 L339.13 502.11 L340.07 500.97 L341.01 501.47 L341.94 501.53 L342.88 501.91 L343.82 501.37 L344.76 502.28 L345.7 501.61 L346.64 501.61 L347.58 501.54 L348.52 501.19 L349.46 501.68 L350.4 501.61 L351.34 501.34 L352.28 502.2 L353.22 501.75 L354.15 501.57 L355.09 501.19 L356.03 501.74 L356.97 501.1 L357.91 501.18 L358.85 501.77 L359.79 501.69 L360.73 501.61 L361.67 500.98 L362.61 500.88 L363.55 500.68 L364.49 500.64 L365.42 501.13 L366.36 500.55 L367.3 500.64 L368.24 500.76 L369.18 500.76 L370.12 501.39 L371.06 500.8 L372 501.3 L372.94 501.36 L373.88 501.06 L374.82 500.88 L375.76 500.95 L376.7 501.05 L377.63 501.29 L378.57 500.87 L379.51 501.2 L380.45 501.43 L381.39 500.9 L382.33 500.41 L383.27 501.08 L384.21 501.31 L385.15 500.44 L386.09 500.32 L387.03 501.04 L387.97 501.01 L388.9 500.86 L389.84 499.88 L390.78 500.88 L391.72 500.58 L392.66 500.77 L393.6 501.58 L394.54 501.32 L395.48 501.37 L396.42 500.78 L397.36 500.89 L398.3 500.29 L399.24 501.03 L400.18 500.82 L401.11 500.89 L402.05 500.83 L402.99 500.02 L403.93 500.71 L404.87 500.25 L405.81 500.28 L406.75 500.92 L407.69 500.42 L408.63 500.77 L409.57 500.56 L410.51 500.5 L411.45 500.52 L412.38 500.66 L413.32 499.9 L414.26 500.51 L415.2 500.13 L416.14 499.75 L417.08 500.09 L418.02 499.91 L418.96 499.74 L419.9 499.83 L420.84 499.6 L421.78 500.73 L422.72 499.52 L423.65 500.21 L424.59 500.84 L425.53 500.44 L426.47 500.71 L427.41 500.22 L428.35 500.75 L429.29 500.58 L430.23 500.11 L431.17 500.16 L432.11 500.5 L433.05 500.3 L433.99 500.25 L434.93 500.19 L435.86 500.22 L436.8 500.3 L437.74 499.9 L438.68 500.78 L439.62 500.35 L440.56 500.09 L441.5 500.24 L442.44 500.26 L443.38 500.19 L444.32 499.92 L445.26 499.51 L446.2 499.99 L447.13 499.98 L448.07 499.72 L449.01 499.9 L449.95 500.47 L450.89 499.65 L451.83 499.84 L452.77 499.88 L453.71 499.41 L454.65 499.59 L455.59 499.77 L456.53 500.31 L457.47 500.11 L458.41 499.43 L459.34 499.42 L460.28 499.16 L461.22 499.18 L462.16 499.37 L463.1 499.59 L464.04 499.47 L464.98 499.07 L465.92 499.37 L466.86 498.63 L467.8 499.32 L468.74 499.43 L469.68 498.95 L470.61 499.6 L471.55 498.47 L472.49 499.5 L473.43 499.25 L474.37 499.41 L475.31 499.7 L476.25 500.13" fill="none" stroke="#3a3a3a" stroke-width="0.9" stroke-linejoin="round"/>
<path d="M307.19 505.18 L308.13 504.12 L309.07 503.99 L310.01 503.5 L310.95 504.72 L311.89 503.92 L312.83 504.04 L313.77 503.66 L314.71 504.06 L315.65 503.54 L316.59 503.41 L317.53 503.44 L318.46 503.07 L319.4 503.58 L320.34 502.89 L321.28 503.62 L322.22 502.7 L323.16 504.21 L324.1 503.15 L325.04 503.37 L325.98 503.08 L326.92 502.71 L327.86 502.82 L328.8 503.05 L329.74 502.47 L330.67 503.61 L331.61 503.37 L332.55 502.54 L333.49 502.96 L334.43 503.82 L335.37 503.16 L336.31 503.94 L337.25 503.23 L338.19 503.58 L339.13 504.42 L340.07 504 L341.01 504.67 L341.94 503.86 L342.88 503.81 L343.82 503.88 L344.76 504.23 L345.7 503.72 L346.64 504.35 L347.58 503.63 L348.52 502.87 L349.46 498.51 L350.4 496.04 L351.34 493.31 L352.28 488.97 L353.22 485.79 L354.15 482.85 L355.09 478.96 L356.03 477.14 L356.97 475.1 L357.91 473.05 L358.85 471.58 L359.79 468.05 L360.73 465.58 L361.67 463.99 L362.61 462.55 L363.55 460.32 L364.49 459.16 L365.42 457.38 L366.36 456.23 L367.3 455.08 L368.24 454.64 L369.18 453.78 L370.12 453.05 L371.06 452.5 L372 452.79 L372.94 452.79 L373.88 452.3 L374.82 452.15 L375.76 451.69 L376.7 451.25 L377.63 451.02 L378.57 451.03 L379.51 451 L380.45 451.1 L381.39 450.76 L382.33 450.54 L383.27 450.58 L384.21 450.63 L385.15 451.58 L386.09 451.87 L387.03 451.49 L387.97 452.37 L388.9 452.67 L389.84 453.31 L390.78 453.22 L391.72 454.09 L392.66 454.68 L393.6 454.72 L394.54 455.3 L395.48 455.32 L396.42 456.23 L397.36 456.52 L398.3 457.12 L399.24 457.4 L400.18 458.22 L401.11 458.07 L402.05 459.45 L402.99 459.55 L403.93 460.14 L404.87 460.17 L405.81 461 L406.75 461.47 L407.69 462.38 L408.63 463.14 L409.57 463.9 L410.51 464.24 L411.45 464.94 L412.38 465.26 L413.32 465.86 L414.26 466.26 L415.2 467.27 L416.14 468.12 L417.08 468.85 L418.02 469.07 L418.96 469.58 L419.9 469.64 L420.84 470.89 L421.78 470.89 L422.72 471.41 L423.65 473.02 L424.59 472.78 L425.53 473.37 L426.47 473.86 L427.41 474.9 L428.35 475.12 L429.29 476.19 L430.23 476.57 L431.17 477.07 L432.11 476.97 L433.05 478.21 L433.99 478.33 L434.93 479.17 L435.86 479.98 L436.8 480.17 L437.74 480.48 L438.68 481.4 L439.62 481.34 L440.56 482.25 L441.5 482.73 L442.44 482.76 L443.38 483.35 L444.32 484.04 L445.26 484.7 L446.2 484.51 L447.13 484.77 L448.07 485.36 L449.01 485.47 L449.95 486.42 L450.89 486.07 L451.83 486.4 L452.77 486.78 L453.71 487.4 L454.65 487.4 L455.59 487.63 L456.53 487.55 L457.47 488.09 L458.41 488.35 L459.34 488.95 L460.28 488.64 L461.22 488.78 L462.16 489.63 L463.1 489.47 L464.04 489.85 L464.98 490.22 L465.92 490.89 L466.86 490.02 L467.8 491.53 L468.74 490.97 L469.68 491.44 L470.61 491.11 L471.55 491.89 L472.49 491.94 L473.43 491.96 L474.37 492.23 L475.31 492.78 L476.25 492.53" fill="none" stroke="#111" stroke-width="1.4" stroke-linejoin="round" stroke-dasharray="2.5 2"/>
<path d="M48.5 588.75 V703.5 H220" fill="none" stroke="#1a1a1a" stroke-width="1.25"/>
<path d="M45.5 696.25 H48.5 M45.5 682.81 H48.5 M45.5 669.38 H48.5 M45.5 655.94 H48.5 M45.5 642.5 H48.5 M45.5 629.06 H48.5 M45.5 615.62 H48.5 M45.5 602.19 H48.5 M45.5 588.75 H48.5 M48.25 703.5 V706.5 M67.33 703.5 V706.5 M86.42 703.5 V706.5 M105.5 703.5 V706.5 M124.58 703.5 V706.5 M143.67 703.5 V706.5 M162.75 703.5 V706.5 M181.83 703.5 V706.5 M200.92 703.5 V706.5 M220 703.5 V706.5 " stroke="#222" stroke-width="1"/>
<text transform="translate(42.7 699.39) scale(1.04 1)" font-size="6.5" text-anchor="end" class="tk">0.9</text>
<text transform="translate(42.7 685.95) scale(1.04 1)" font-size="6.5" text-anchor="end" class="tk">1.0</text>
<text transform="translate(42.7 672.51) scale(1.04 1)" font-size="6.5" text-anchor="end" class="tk">1.1</text>
<text transform="translate(42.7 659.08) scale(1.04 1)" font-size="6.5" text-anchor="end" class="tk">1.2</text>
<text transform="translate(42.7 645.64) scale(1.04 1)" font-size="6.5" text-anchor="end" class="tk">1.3</text>
<text transform="translate(42.7 632.2) scale(1.04 1)" font-size="6.5" text-anchor="end" class="tk">1.4</text>
<text transform="translate(42.7 618.76) scale(1.04 1)" font-size="6.5" text-anchor="end" class="tk">1.5</text>
<text transform="translate(42.7 605.33) scale(1.04 1)" font-size="6.5" text-anchor="end" class="tk">1.6</text>
<text transform="translate(42.7 591.89) scale(1.04 1)" font-size="6.5" text-anchor="end" class="tk">1.7</text>
<text x="48.25" y="714.85" font-size="6.8" text-anchor="middle" class="tk">0</text>
<text x="67.33" y="714.85" font-size="6.8" text-anchor="middle" class="tk">10</text>
<text x="86.42" y="714.85" font-size="6.8" text-anchor="middle" class="tk">20</text>
<text x="105.5" y="714.85" font-size="6.8" text-anchor="middle" class="tk">30</text>
<text x="124.58" y="714.85" font-size="6.8" text-anchor="middle" class="tk">40</text>
<text x="143.67" y="714.85" font-size="6.8" text-anchor="middle" class="tk">50</text>
<text x="162.75" y="714.85" font-size="6.8" text-anchor="middle" class="tk">60</text>
<text x="181.83" y="714.85" font-size="6.8" text-anchor="middle" class="tk">70</text>
<text x="200.92" y="714.85" font-size="6.8" text-anchor="middle" class="tk">80</text>
<text x="220" y="714.85" font-size="6.8" text-anchor="middle" class="tk">90</text>
<text class="bd" transform="translate(26.11 642) rotate(-90)" font-size="9.12" font-weight="bold" text-anchor="middle">ratio</text>
<text class="bd" x="118.45" y="728.05" font-size="6.97" font-weight="bold" textLength="32.42" lengthAdjust="spacingAndGlyphs">time [s]</text>
<text x="2.3" y="569.5" font-size="17.8" text-anchor="start" font-weight="bold">G</text>
<path d="M59 577.2 H76" fill="none" stroke="#111" stroke-width="1.25" stroke-linejoin="round"/>
<text class="lg" x="77.5" y="582.54" font-size="8.2" textLength="75.5" lengthAdjust="spacing">&#945;&#946;-meATP 10<tspan font-size="5.74" dy="-3.28">-3</tspan><tspan dy="3.28"> M</tspan></text>
<path d="M59 590.7 H76" fill="none" stroke="#444" stroke-width="1.0" stroke-linejoin="round" stroke-dasharray="1.4 0.6"/>
<text class="lg" x="77.5" y="596.04" font-size="8.2" textLength="75.5" lengthAdjust="spacing">&#945;&#946;-meATP 10<tspan font-size="5.74" dy="-3.28">-4</tspan><tspan dy="3.28"> M</tspan></text>
<path d="M59 603.6 H76" fill="none" stroke="#111" stroke-width="1.0" stroke-linejoin="round" stroke-dasharray="4 2.5"/>
<text class="lg" x="77.5" y="608.94" font-size="8.2" textLength="75.5" lengthAdjust="spacing">&#945;&#946;-meATP 10<tspan font-size="5.74" dy="-3.28">-5</tspan><tspan dy="3.28"> M</tspan></text>
<path d="M59 617.1 H76" fill="none" stroke="#111" stroke-width="1.6" stroke-linejoin="round" stroke-dasharray="5 2 1.5 2"/>
<text class="lg" x="77.5" y="622.44" font-size="8.2" textLength="75.5" lengthAdjust="spacing">&#945;&#946;-meATP 10<tspan font-size="5.74" dy="-3.28">-6</tspan><tspan dy="3.28"> M</tspan></text>
<path d="M49.2 695.45 L50.15 695.25 L51.1 695.75 L52.05 695.59 L53 695.71 L53.95 695.86 L54.9 695.49 L55.85 695.44 L56.8 695.1 L57.74 695.69 L58.69 695.34 L59.64 694.98 L60.59 695.29 L61.54 695.12 L62.49 694.98 L63.44 695.15 L64.39 695.24 L65.33 694.53 L66.28 694.85 L67.23 694.93 L68.18 695.17 L69.13 694.55 L70.08 694.03 L71.03 694.64 L71.98 694.53 L72.93 693.86 L73.87 693.76 L74.82 693.71 L75.77 694.42 L76.72 694.03 L77.67 694.39 L78.62 693.86 L79.57 694.04 L80.52 693.74 L81.47 693.25 L82.41 693.47 L83.36 692.93 L84.31 691.94 L85.26 690.98 L86.21 679.02 L87.16 663.04 L88.11 646.4 L89.06 635.42 L90.01 635.96 L90.95 635.64 L91.9 634.23 L92.85 632.11 L93.8 631.05 L94.75 632.1 L95.7 632.42 L96.65 631.89 L97.6 631.88 L98.55 630.17 L99.49 630.89 L100.44 630.88 L101.39 632.19 L102.34 633.27 L103.29 632.69 L104.24 632.48 L105.19 631.39 L106.14 632.25 L107.08 633.11 L108.03 633.37 L108.98 634.67 L109.93 633.7 L110.88 633.77 L111.83 632.92 L112.78 634 L113.73 635.26 L114.68 635.37 L115.62 634.07 L116.57 633.06 L117.52 632.44 L118.47 633.51 L119.42 634.49 L120.37 636.7 L121.32 636.9 L122.27 635.98 L123.22 635.08 L124.16 634.32 L125.11 634.99 L126.06 636.1 L127.01 636.47 L127.96 636.48 L128.91 635.54 L129.86 634.83 L130.81 635.83 L131.76 636.68 L132.7 637.44 L133.65 637.83 L134.6 636.28 L135.55 635.17 L136.5 633.43 L137.45 634.15 L138.4 635.11 L139.35 635.42 L140.3 635.79 L141.24 635.44 L142.19 634.87 L143.14 631.11 L144.09 630.01 L145.04 632.77 L145.99 634.02 L146.94 632.9 L147.89 631.33 L148.84 630.64 L149.78 631.72 L150.73 632.22 L151.68 631.97 L152.63 632.17 L153.58 633.38 L154.53 633.76 L155.48 635.72 L156.43 636.14 L157.37 636.41 L158.32 635.62 L159.27 634.5 L160.22 632.64 L161.17 634.09 L162.12 634.33 L163.07 635.73 L164.02 635.38 L164.97 635.32 L165.91 635.47 L166.86 635.48 L167.81 636.61 L168.76 637.57 L169.71 637.82 L170.66 636.7 L171.61 636.68 L172.56 635.42 L173.51 635.34 L174.45 636.25 L175.4 637.44 L176.35 637.53 L177.3 637.35 L178.25 637.4 L179.2 636.95 L180.15 638.62 L181.1 640.18 L182.05 641.39 L182.99 640.85 L183.94 639.87 L184.89 636.97 L185.84 637.03 L186.79 636.45 L187.74 636.94 L188.69 636.7 L189.64 636.28 L190.59 636.24 L191.53 635.03 L192.48 634.95 L193.43 634.96 L194.38 633.97 L195.33 633.45 L196.28 634.57 L197.23 636.11 L198.18 636.49 L199.12 637.4 L200.07 638.43 L201.02 637.78 L201.97 637.27 L202.92 636.82 L203.87 637.62 L204.82 638.05 L205.77 638.78 L206.72 639.08 L207.66 638.02 L208.61 637.72 L209.56 637.43 L210.51 637.33 L211.46 638.58 L212.41 638.9 L213.36 638.39 L214.31 637.66 L215.26 637.11 L216.2 637.78 L217.15 639.04 L218.1 638.68 L219.05 639.04 L220 638.43" fill="none" stroke="#111" stroke-width="1.25" stroke-linejoin="round"/>
<path d="M49.2 696.55 L50.16 696.55 L51.11 696.35 L52.06 696.87 L53.01 695.76 L53.96 695.34 L54.92 695.88 L55.87 695.48 L56.82 695.46 L57.77 695.99 L58.72 695.11 L59.68 696 L60.63 695.57 L61.58 695.43 L62.53 694.83 L63.48 695.14 L64.44 695.15 L65.39 695.31 L66.34 694.95 L67.29 694.9 L68.24 694.6 L69.2 694.32 L70.15 694.47 L71.1 694.63 L72.05 694.62 L73.01 693.98 L73.96 694.37 L74.91 694.38 L75.86 693.71 L76.81 693.72 L77.77 693.94 L78.72 694.05 L79.67 694.12 L80.62 693.44 L81.57 693.83 L82.53 693.26 L83.48 692.58 L84.43 690.95 L85.38 689.51 L86.33 674.15 L87.29 657.36 L88.24 643.43 L89.19 637.16 L90.14 637.02 L91.09 636.89 L92.05 635.58 L93 635.54 L93.95 636.31 L94.9 637.04 L95.85 637.64 L96.81 637.13 L97.76 637.45 L98.71 636.84 L99.66 637.66 L100.61 638.66 L101.57 639.68 L102.52 639.3 L103.47 639.24 L104.42 638.57 L105.37 640.01 L106.33 639.89 L107.28 640.79 L108.23 640.64 L109.18 639.99 L110.13 639.93 L111.09 641.26 L112.04 641.41 L112.99 642 L113.94 642.21 L114.89 642.1 L115.85 641.34 L116.8 641.97 L117.75 643.1 L118.7 643.87 L119.65 643.88 L120.61 643.65 L121.56 643.23 L122.51 643.5 L123.46 645.21 L124.41 645.61 L125.37 644.91 L126.32 645.09 L127.27 644.87 L128.22 645.18 L129.18 646.51 L130.13 647.31 L131.08 647.31 L132.03 646.9 L132.98 646 L133.94 646.37 L134.89 647.78 L135.84 648.86 L136.79 648.64 L137.74 648.5 L138.7 647.67 L139.65 648.05 L140.6 647.5 L141.55 648.05 L142.5 646.57 L143.46 646.39 L144.41 645.79 L145.36 645.46 L146.31 646.28 L147.26 647.32 L148.22 647.32 L149.17 647.04 L150.12 646.98 L151.07 647.31 L152.02 647.97 L152.98 650.35 L153.93 650.95 L154.88 651.08 L155.83 649.31 L156.78 647.96 L157.74 647.46 L158.69 647.17 L159.64 647.33 L160.59 647.48 L161.54 646.88 L162.5 646.84 L163.45 645.7 L164.4 645.18 L165.35 645.36 L166.3 647.11 L167.26 649.29 L168.21 650.05 L169.16 650.8 L170.11 651.09 L171.06 651.6 L172.02 651.75 L172.97 651.16 L173.92 651.13 L174.87 651.48 L175.82 653.35 L176.78 653.37 L177.73 653.29 L178.68 653.57 L179.63 653.65 L180.58 654.8 L181.54 655.7 L182.49 655.32 L183.44 656.07 L184.39 655.65 L185.35 656.26 L186.3 657.59 L187.25 658.44 L188.2 657.87 L189.15 657.93 L190.11 657.9 L191.06 658.81 L192.01 659.02 L192.96 659.99 L193.91 659.59 L194.87 659.61 L195.82 659.61 L196.77 660.26 L197.72 661.18 L198.67 662.23 L199.63 662.11 L200.58 661.91 L201.53 661.55 L202.48 661.88 L203.43 662.98 L204.39 664.02 L205.34 663.63 L206.29 663.05 L207.24 663.5 L208.19 663.43 L209.15 664.12 L210.1 664.86 L211.05 664.94 L212 664.41 L212.95 663.61 L213.91 662.87 L214.86 663.12 L215.81 664.4 L216.76 664.38 L217.71 662.6 L218.67 662.16 L219.62 661.94" fill="none" stroke="#444" stroke-width="1.0" stroke-linejoin="round" stroke-dasharray="1.4 0.6"/>
<path d="M49.2 696.77 L50.16 696.13 L51.11 696.27 L52.06 696.43 L53.01 695.96 L53.96 695.46 L54.92 695.77 L55.87 695.87 L56.82 696.38 L57.77 696.03 L58.72 696.26 L59.68 695.87 L60.63 696.06 L61.58 696.26 L62.53 696.07 L63.48 696.48 L64.44 695.99 L65.39 695.76 L66.34 696.37 L67.29 696.07 L68.24 696.79 L69.2 695.94 L70.15 695.96 L71.1 696.58 L72.05 695.68 L73.01 696.21 L73.96 696.81 L74.91 696.7 L75.86 695.96 L76.81 696.34 L77.77 695.83 L78.72 696.62 L79.67 696.08 L80.62 695.66 L81.57 696.13 L82.53 695.62 L83.48 695.89 L84.43 695.6 L85.38 695.54 L86.33 694.84 L87.29 695.91 L88.24 694.66 L89.19 689.57 L90.14 685.44 L91.09 680.13 L92.05 674.49 L93 670.76 L93.95 668.02 L94.9 663.07 L95.85 659.5 L96.81 657.59 L97.76 657.92 L98.71 657.87 L99.66 657.96 L100.61 657.59 L101.57 657.84 L102.52 657.72 L103.47 656.54 L104.42 655.37 L105.37 655.21 L106.33 654.42 L107.28 655.18 L108.23 654.36 L109.18 654.47 L110.13 653.69 L111.09 654.26 L112.04 654.12 L112.99 654.2 L113.94 652.98 L114.89 653.33 L115.85 653.79 L116.8 653.45 L117.75 653.56 L118.7 652.65 L119.65 652.92 L120.61 653.69 L121.56 653.15 L122.51 653.11 L123.46 653.6 L124.41 653.64 L125.37 654.02 L126.32 654.11 L127.27 654.3 L128.22 654.79 L129.18 654.64 L130.13 654.89 L131.08 655.15 L132.03 655.55 L132.98 655.85 L133.94 655.68 L134.89 655.96 L135.84 657.48 L136.79 657.33 L137.74 657.18 L138.7 657.79 L139.65 658.79 L140.6 658.58 L141.55 659.72 L142.5 660.04 L143.46 659.53 L144.41 660.68 L145.36 661.02 L146.31 661.97 L147.26 662.23 L148.22 662.76 L149.17 662.9 L150.12 663.93 L151.07 663.46 L152.02 664.39 L152.98 664.95 L153.93 665.43 L154.88 665.46 L155.83 665.69 L156.78 666.8 L157.74 666.63 L158.69 667.11 L159.64 667.68 L160.59 668.5 L161.54 669.57 L162.5 669.34 L163.45 670.18 L164.4 670.47 L165.35 671.59 L166.3 671.44 L167.26 671.64 L168.21 672.39 L169.16 672.35 L170.11 672.27 L171.06 673.11 L172.02 673.78 L172.97 673.1 L173.92 674.79 L174.87 674.6 L175.82 674.38 L176.78 674.92 L177.73 675.68 L178.68 675.06 L179.63 675.09 L180.58 675.83 L181.54 675.3 L182.49 675.83 L183.44 675.81 L184.39 676.79 L185.35 676.36 L186.3 675.9 L187.25 675.83 L188.2 676.12 L189.15 676.62 L190.11 676.63 L191.06 676.96 L192.01 676.51 L192.96 677.21 L193.91 677.06 L194.87 677.89 L195.82 677.83 L196.77 676.87 L197.72 677.55 L198.67 677.62 L199.63 678.63 L200.58 678.16 L201.53 677.7 L202.48 679.11 L203.43 679.63 L204.39 679.15 L205.34 679.5 L206.29 679.64 L207.24 680.22 L208.19 680.49 L209.15 680.68 L210.1 680.31 L211.05 680.77 L212 680.74 L212.95 681.62 L213.91 681.33 L214.86 681.93 L215.81 682.02 L216.76 682 L217.71 682.55 L218.67 682.94 L219.62 683.63" fill="none" stroke="#111" stroke-width="1.0" stroke-linejoin="round" stroke-dasharray="4 2.5"/>
<path d="M49.2 695.56 L50.16 695.4 L51.11 695.93 L52.06 695.82 L53.01 696.46 L53.96 696.39 L54.92 695.89 L55.87 695.67 L56.82 696.28 L57.77 696.8 L58.72 697.69 L59.68 699.42 L60.63 697.72 L61.58 695.65 L62.53 695.93 L63.48 695.86 L64.44 695.25 L65.39 695.49 L66.34 695.03 L67.29 694.85 L68.24 694.82 L69.2 695.52 L70.15 694.87 L71.1 694.88 L72.05 695.99 L73.01 696.2 L73.96 695.67 L74.91 694.95 L75.86 695.5 L76.81 695.35 L77.77 695.29 L78.72 695.07 L79.67 695.46 L80.62 695.33 L81.57 694.9 L82.53 694.71 L83.48 693.4 L84.43 692.04 L85.38 690.88 L86.33 688.93 L87.29 687.71 L88.24 686.1 L89.19 685.88 L90.14 683.3 L91.09 683.02 L92.05 680.74 L93 678.84 L93.95 676.32 L94.9 674.25 L95.85 671.93 L96.81 670.48 L97.76 669.59 L98.71 669.13 L99.66 668.87 L100.61 667.45 L101.57 666.28 L102.52 667.21 L103.47 667.27 L104.42 668.01 L105.37 668.68 L106.33 668.46 L107.28 668.74 L108.23 669.71 L109.18 670.08 L110.13 670.14 L111.09 671.29 L112.04 671.53 L112.99 671.25 L113.94 671.72 L114.89 672.57 L115.85 672.62 L116.8 672.13 L117.75 672.59 L118.7 672.17 L119.65 671.96 L120.61 672.68 L121.56 671.95 L122.51 672.18 L123.46 672.37 L124.41 673.49 L125.37 673.72 L126.32 673.86 L127.27 674.33 L128.22 673.63 L129.18 675.06 L130.13 675.25 L131.08 675.49 L132.03 675.83 L132.98 675.91 L133.94 677.17 L134.89 676.93 L135.84 677.59 L136.79 678.48 L137.74 678.62 L138.7 679.71 L139.65 679.28 L140.6 680.65 L141.55 680.65 L142.5 681.13 L143.46 682.35 L144.41 683.02 L145.36 683.1 L146.31 683.64 L147.26 683.15 L148.22 683.54 L149.17 684.01 L150.12 684.14 L151.07 683.82 L152.02 684.7 L152.98 683.8 L153.93 684.78 L154.88 684.73 L155.83 685.12 L156.78 684.41 L157.74 684.81 L158.69 684.8 L159.64 685.15 L160.59 685.48 L161.54 685.09 L162.5 685.57 L163.45 685.79 L164.4 685.88 L165.35 685.97 L166.3 686.25 L167.26 686.53 L168.21 687.14 L169.16 686.05 L170.11 687.31 L171.06 687.73 L172.02 687.38 L172.97 686.62 L173.92 686.99 L174.87 687.73 L175.82 687.58 L176.78 687.89 L177.73 688.76 L178.68 688.42 L179.63 688.42 L180.58 688.34 L181.54 689.34 L182.49 689.91 L183.44 689.89 L184.39 689.46 L185.35 689.76 L186.3 689.95 L187.25 690.16 L188.2 690.54 L189.15 691.09 L190.11 690.55 L191.06 690.49 L192.01 690.34 L192.96 690.03 L193.91 690.78 L194.87 691.07 L195.82 690.8 L196.77 689.4 L197.72 690.34 L198.67 689.81 L199.63 690 L200.58 689.82 L201.53 689.06 L202.48 690.38 L203.43 690.34 L204.39 690.55 L205.34 690.34 L206.29 690.32 L207.24 690.9 L208.19 690.2 L209.15 690.33 L210.1 690.61 L211.05 690.84 L212 690.92 L212.95 691.43 L213.91 690.7 L214.86 691.28 L215.81 691.16 L216.76 690.7 L217.71 691.38 L218.67 691.28 L219.62 690.86" fill="none" stroke="#111" stroke-width="1.6" stroke-linejoin="round" stroke-dasharray="5 2 1.5 2"/>
<path d="M313.5 583 V703.5 H493.5" fill="none" stroke="#1a1a1a" stroke-width="1.25"/>
<path d="M310.5 696.25 H313.5 M310.5 682.09 H313.5 M310.5 667.94 H313.5 M310.5 653.78 H313.5 M310.5 639.62 H313.5 M310.5 625.47 H313.5 M310.5 611.31 H313.5 M310.5 597.16 H313.5 M310.5 583 H313.5 M313 703.5 V706.5 M333.06 703.5 V706.5 M353.11 703.5 V706.5 M373.17 703.5 V706.5 M393.22 703.5 V706.5 M413.28 703.5 V706.5 M433.33 703.5 V706.5 M453.39 703.5 V706.5 M473.44 703.5 V706.5 M493.5 703.5 V706.5 " stroke="#222" stroke-width="1"/>
<text x="307.3" y="699.09" font-size="7.6" text-anchor="end" class="tk">0.9</text>
<text x="307.3" y="684.93" font-size="7.6" text-anchor="end" class="tk">1.0</text>
<text x="307.3" y="670.77" font-size="7.6" text-anchor="end" class="tk">1.1</text>
<text x="307.3" y="656.62" font-size="7.6" text-anchor="end" class="tk">1.2</text>
<text x="307.3" y="642.46" font-size="7.6" text-anchor="end" class="tk">1.3</text>
<text x="307.3" y="628.3" font-size="7.6" text-anchor="end" class="tk">1.4</text>
<text x="307.3" y="614.15" font-size="7.6" text-anchor="end" class="tk">1.5</text>
<text x="307.3" y="599.99" font-size="7.6" text-anchor="end" class="tk">1.6</text>
<text x="307.3" y="585.84" font-size="7.6" text-anchor="end" class="tk">1.7</text>
<text x="313" y="714.71" font-size="7.8" text-anchor="middle" class="tk">0</text>
<text x="333.06" y="714.71" font-size="7.8" text-anchor="middle" class="tk">10</text>
<text x="353.11" y="714.71" font-size="7.8" text-anchor="middle" class="tk">20</text>
<text x="373.17" y="714.71" font-size="7.8" text-anchor="middle" class="tk">30</text>
<text x="393.22" y="714.71" font-size="7.8" text-anchor="middle" class="tk">40</text>
<text x="413.28" y="714.71" font-size="7.8" text-anchor="middle" class="tk">50</text>
<text x="433.33" y="714.71" font-size="7.8" text-anchor="middle" class="tk">60</text>
<text x="453.39" y="714.71" font-size="7.8" text-anchor="middle" class="tk">70</text>
<text x="473.44" y="714.71" font-size="7.8" text-anchor="middle" class="tk">80</text>
<text x="493.5" y="714.71" font-size="7.8" text-anchor="middle" class="tk">90</text>
<text class="bd" transform="translate(289 637.9) rotate(-90)" font-size="9.51" font-weight="bold" text-anchor="middle">ratio</text>
<text class="bd" x="385.85" y="728.71" font-size="8.15" font-weight="bold" textLength="34.66" lengthAdjust="spacingAndGlyphs">time [s]</text>
<text x="278.8" y="571" font-size="17.8" text-anchor="start" font-weight="bold">H</text>
<path d="M334 585.2 H351.2" fill="none" stroke="#111" stroke-width="1.25" stroke-linejoin="round"/>
<text class="lg" x="353.75" y="591.08" font-size="8.6" textLength="79.4" lengthAdjust="spacing">&#945;&#946;-meATP 10<tspan font-size="6.02" dy="-3.44">-3</tspan><tspan dy="3.44"> M</tspan></text>
<path d="M334 599.1 H351.2" fill="none" stroke="#444" stroke-width="1.0" stroke-linejoin="round" stroke-dasharray="1.4 0.6"/>
<text class="lg" x="353.75" y="604.98" font-size="8.6" textLength="79.4" lengthAdjust="spacing">&#945;&#946;-meATP 10<tspan font-size="6.02" dy="-3.44">-4</tspan><tspan dy="3.44"> M</tspan></text>
<path d="M334 613.1 H351.2" fill="none" stroke="#111" stroke-width="1.0" stroke-linejoin="round" stroke-dasharray="4 2.5"/>
<text class="lg" x="353.75" y="618.98" font-size="8.6" textLength="79.4" lengthAdjust="spacing">&#945;&#946;-meATP 10<tspan font-size="6.02" dy="-3.44">-5</tspan><tspan dy="3.44"> M</tspan></text>
<path d="M334 626 H351.2" fill="none" stroke="#111" stroke-width="1.6" stroke-linejoin="round" stroke-dasharray="5 2 1.5 2"/>
<text class="lg" x="353.75" y="631.88" font-size="8.6" textLength="79.4" lengthAdjust="spacing">&#945;&#946;-meATP 10<tspan font-size="6.02" dy="-3.44">-6</tspan><tspan dy="3.44"> M</tspan></text>
<path d="M314 692.05 L315 692.81 L316.01 692.04 L317.01 692.52 L318.01 692.01 L319.01 691.83 L320.01 692.64 L321.01 692.11 L322.02 692.07 L323.02 692.93 L324.02 693.08 L325.02 693.83 L326.02 692.79 L327.02 693.4 L328.03 693.87 L329.03 693.15 L330.03 693.94 L331.03 693.66 L332.03 694.17 L333.03 692.93 L334.04 692.46 L335.04 693.29 L336.04 693.12 L337.04 692.92 L338.04 692.05 L339.04 690.77 L340.05 681.68 L341.05 667.87 L342.05 652.67 L343.05 652.74 L344.05 651.29 L345.05 650.79 L346.06 648.56 L347.06 645.33 L348.06 644.37 L349.06 642.6 L350.06 641.71 L351.06 641.88 L352.07 643.12 L353.07 643.19 L354.07 643.09 L355.07 643.18 L356.07 642.47 L357.07 643.15 L358.08 642.43 L359.08 642.35 L360.08 643.69 L361.08 643.5 L362.08 643.64 L363.08 643.68 L364.09 643.51 L365.09 643.88 L366.09 643.95 L367.09 644.31 L368.09 644.38 L369.09 644.4 L370.1 644.51 L371.1 645.27 L372.1 645.24 L373.1 645.68 L374.1 645.69 L375.1 646.35 L376.11 645.71 L377.11 646.03 L378.11 646.52 L379.11 646.93 L380.11 647.04 L381.11 647.31 L382.12 647.81 L383.12 646.88 L384.12 646.49 L385.12 648.28 L386.12 648.45 L387.12 648.03 L388.13 648.22 L389.13 649.31 L390.13 649.76 L391.13 649.2 L392.13 650.42 L393.13 649.53 L394.14 650.52 L395.14 650.64 L396.14 650.99 L397.14 651.5 L398.14 651.67 L399.14 652.05 L400.15 651.8 L401.15 652.4 L402.15 652.51 L403.15 652.82 L404.15 652.99 L405.15 653.16 L406.16 653.03 L407.16 652.51 L408.16 652.9 L409.16 653.34 L410.16 652.97 L411.16 653.33 L412.17 653.75 L413.17 654.01 L414.17 654.48 L415.17 654.13 L416.17 654.46 L417.17 655.04 L418.18 655.07 L419.18 653.99 L420.18 654.64 L421.18 654.59 L422.18 654.74 L423.18 655.02 L424.19 654.74 L425.19 654.57 L426.19 655.11 L427.19 654.86 L428.19 654.73 L429.19 655.31 L430.2 655.12 L431.2 655.49 L432.2 655.06 L433.2 655.46 L434.2 654.97 L435.2 655.69 L436.2 654.87 L437.21 655.66 L438.21 655.95 L439.21 656.07 L440.21 655.62 L441.21 656.25 L442.21 655.41 L443.22 655.7 L444.22 656.07 L445.22 656.86 L446.22 656.46 L447.22 656.81 L448.22 657.3 L449.23 656.61 L450.23 656.08 L451.23 657.15 L452.23 656.78 L453.23 656.71 L454.23 657.6 L455.24 657.44 L456.24 657.23 L457.24 657.15 L458.24 657.73 L459.24 657.24 L460.24 657.36 L461.25 656.98 L462.25 657.89 L463.25 657.52 L464.25 657.5 L465.25 657.43 L466.25 657.06 L467.26 657.54 L468.26 656.35 L469.26 657.57 L470.26 657.02 L471.26 656.96 L472.26 656.98 L473.27 657.39 L474.27 657.61 L475.27 657.41 L476.27 657.08 L477.27 657.28 L478.27 657.11 L479.28 657.12 L480.28 657.63 L481.28 657.65 L482.28 656.81 L483.28 657.49 L484.28 657.88 L485.29 656.66 L486.29 657.62 L487.29 657.65 L488.29 656.98 L489.29 657.72 L490.29 657.63 L491.3 656.95 L492.3 657.61 L493.3 656.43" fill="none" stroke="#111" stroke-width="1.25" stroke-linejoin="round"/>
<path d="M314 691.26 L315 690.35 L316.01 691.25 L317.01 691.28 L318.01 691.52 L319.01 691.37 L320.01 691.47 L321.01 691.3 L322.02 691.02 L323.02 691.75 L324.02 691.69 L325.02 692.18 L326.02 690.97 L327.02 691.6 L328.03 691.65 L329.03 691.74 L330.03 691.43 L331.03 691.75 L332.03 691.63 L333.03 692.06 L334.04 692.05 L335.04 692.02 L336.04 692.66 L337.04 691.62 L338.04 692.56 L339.04 692.36 L340.05 685.58 L341.05 679.44 L342.05 664.58 L343.05 661.53 L344.05 659.14 L345.05 657.44 L346.06 656.97 L347.06 655.13 L348.06 655.12 L349.06 654.88 L350.06 654.58 L351.06 655.09 L352.07 655.14 L353.07 655.3 L354.07 654.9 L355.07 656.5 L356.07 655.43 L357.07 655.75 L358.08 656.4 L359.08 656.42 L360.08 657.21 L361.08 656.72 L362.08 656.23 L363.08 657.55 L364.09 656.65 L365.09 657.08 L366.09 657.1 L367.09 657.07 L368.09 656.88 L369.09 657.18 L370.1 657.13 L371.1 656.07 L372.1 656.75 L373.1 656.63 L374.1 656.79 L375.1 656.82 L376.11 657.61 L377.11 657.49 L378.11 657.01 L379.11 656.96 L380.11 657.65 L381.11 657.37 L382.12 657.46 L383.12 656.77 L384.12 656.8 L385.12 656.83 L386.12 656.99 L387.12 656.56 L388.13 656.61 L389.13 656.94 L390.13 656.62 L391.13 657.03 L392.13 656.52 L393.13 656.69 L394.14 657.22 L395.14 656.82 L396.14 657.07 L397.14 657.4 L398.14 657.53 L399.14 657.86 L400.15 657.73 L401.15 657.28 L402.15 657.06 L403.15 657.78 L404.15 657.58 L405.15 657.59 L406.16 657.52 L407.16 657.72 L408.16 657.52 L409.16 657.76 L410.16 658.37 L411.16 658.04 L412.17 659.09 L413.17 658.4 L414.17 658.41 L415.17 658.29 L416.17 658.68 L417.17 658.35 L418.18 658.26 L419.18 659.18 L420.18 659.25 L421.18 659.14 L422.18 659.23 L423.18 659.52 L424.19 659.45 L425.19 660.33 L426.19 659.81 L427.19 659.84 L428.19 660.03 L429.19 660.45 L430.2 660.85 L431.2 660.8 L432.2 661.14 L433.2 661.84 L434.2 661.67 L435.2 661.64 L436.2 661.98 L437.21 662.25 L438.21 662.1 L439.21 662.25 L440.21 662.2 L441.21 662.34 L442.21 662.36 L443.22 662.17 L444.22 662.58 L445.22 662.58 L446.22 663.26 L447.22 663.97 L448.22 663.17 L449.23 662.89 L450.23 663.35 L451.23 663.55 L452.23 663.87 L453.23 663.22 L454.23 663.82 L455.24 663.69 L456.24 663.57 L457.24 663.97 L458.24 663.56 L459.24 664.6 L460.24 664.41 L461.25 664.69 L462.25 665.36 L463.25 665.31 L464.25 665.72 L465.25 666.08 L466.25 665.8 L467.26 666.38 L468.26 665.7 L469.26 666.75 L470.26 667.03 L471.26 667.19 L472.26 667.79 L473.27 667.97 L474.27 668.58 L475.27 669.25 L476.27 669.98 L477.27 669.86 L478.27 668.97 L479.28 669.47 L480.28 669.68 L481.28 670.01 L482.28 670.01 L483.28 669.97 L484.28 670.68 L485.29 670.58 L486.29 670.72 L487.29 670.08 L488.29 671.01 L489.29 670.33 L490.29 671.02 L491.3 670 L492.3 671.11 L493.3 671.18" fill="none" stroke="#444" stroke-width="1.0" stroke-linejoin="round" stroke-dasharray="1.4 0.6"/>
<path d="M314 687.28 L315 687.37 L316.01 687.27 L317.01 687.9 L318.01 687.04 L319.01 686.77 L320.01 687.32 L321.01 687.38 L322.02 687.51 L323.02 686.69 L324.02 686.94 L325.02 687.05 L326.02 687.49 L327.02 686.47 L328.03 686.74 L329.03 687.06 L330.03 686.53 L331.03 687.39 L332.03 686.74 L333.03 687.4 L334.04 686.55 L335.04 687.15 L336.04 686.62 L337.04 687.2 L338.04 686.91 L339.04 686.64 L340.05 687.37 L341.05 687.01 L342.05 686.39 L343.05 684.8 L344.05 684.32 L345.05 683.25 L346.06 682.2 L347.06 680.73 L348.06 680.52 L349.06 678.28 L350.06 676.47 L351.06 674.64 L352.07 672.81 L353.07 670.68 L354.07 668.64 L355.07 667.59 L356.07 666.63 L357.07 666.8 L358.08 666.05 L359.08 664.93 L360.08 665.75 L361.08 665.72 L362.08 666.12 L363.08 666 L364.09 666.85 L365.09 667.64 L366.09 667.9 L367.09 667.59 L368.09 667.89 L369.09 667.93 L370.1 668.83 L371.1 668.67 L372.1 669.49 L373.1 668.87 L374.1 669.57 L375.1 670 L376.11 669.91 L377.11 669.57 L378.11 670.7 L379.11 671.05 L380.11 671.03 L381.11 671.13 L382.12 670.79 L383.12 670.69 L384.12 670.92 L385.12 670.84 L386.12 670.54 L387.12 671.11 L388.13 671.53 L389.13 672.2 L390.13 671.61 L391.13 672.25 L392.13 672.4 L393.13 672.47 L394.14 672.76 L395.14 673.79 L396.14 673.88 L397.14 673.82 L398.14 674.2 L399.14 674.05 L400.15 674.93 L401.15 675.65 L402.15 674.67 L403.15 675.83 L404.15 675.76 L405.15 675.45 L406.16 676.13 L407.16 675.04 L408.16 676 L409.16 676.06 L410.16 676.58 L411.16 675.81 L412.17 676.68 L413.17 677.4 L414.17 676.98 L415.17 678.3 L416.17 678.19 L417.17 678.15 L418.18 678.48 L419.18 679.14 L420.18 678.52 L421.18 678.84 L422.18 679.96 L423.18 679.78 L424.19 680.41 L425.19 680.61 L426.19 680.39 L427.19 680.97 L428.19 681.24 L429.19 681.31 L430.2 681.91 L431.2 681.21 L432.2 682.06 L433.2 681.48 L434.2 682.25 L435.2 682.4 L436.2 681.86 L437.21 682.46 L438.21 682.9 L439.21 683.02 L440.21 682.76 L441.21 682.46 L442.21 683.05 L443.22 683.56 L444.22 683.96 L445.22 683.95 L446.22 683.83 L447.22 683.71 L448.22 684.02 L449.23 683.34 L450.23 684.13 L451.23 684.05 L452.23 683.62 L453.23 683.62 L454.23 683.93 L455.24 683.45 L456.24 684.29 L457.24 683.21 L458.24 683.02 L459.24 683.1 L460.24 683.75 L461.25 683.1 L462.25 683.77 L463.25 683.32 L464.25 683.87 L465.25 683.76 L466.25 683.67 L467.26 684.5 L468.26 683.99 L469.26 683.34 L470.26 685.01 L471.26 683.87 L472.26 683.71 L473.27 683.94 L474.27 684.02 L475.27 683.63 L476.27 684.03 L477.27 684.85 L478.27 684.54 L479.28 684.34 L480.28 684.21 L481.28 684.45 L482.28 684.36 L483.28 683.76 L484.28 685.42 L485.29 684 L486.29 684.11 L487.29 684.25 L488.29 684.49 L489.29 684.5 L490.29 684.43 L491.3 684.5 L492.3 684.87 L493.3 684.37" fill="none" stroke="#111" stroke-width="1.0" stroke-linejoin="round" stroke-dasharray="4 2.5"/>
<path d="M314 690.88 L315 690.46 L316.01 690.43 L317.01 690.57 L318.01 689.81 L319.01 689.91 L320.01 690.64 L321.01 690.61 L322.02 691.43 L323.02 690.78 L324.02 691.46 L325.02 691.3 L326.02 692.29 L327.02 691.93 L328.03 692.61 L329.03 692.66 L330.03 692.48 L331.03 692.39 L332.03 692.29 L333.03 692.8 L334.04 692.13 L335.04 691.98 L336.04 692.43 L337.04 691.98 L338.04 692.04 L339.04 690.92 L340.05 691.56 L341.05 690.93 L342.05 690.8 L343.05 691.09 L344.05 691.05 L345.05 690.63 L346.06 690.9 L347.06 690.95 L348.06 690.72 L349.06 690.14 L350.06 690.07 L351.06 689.39 L352.07 690.54 L353.07 689.59 L354.07 689.86 L355.07 688.66 L356.07 688.44 L357.07 688.26 L358.08 687.41 L359.08 687.75 L360.08 687.56 L361.08 687.49 L362.08 687.1 L363.08 686.58 L364.09 686.13 L365.09 685.67 L366.09 686.15 L367.09 686.31 L368.09 686.18 L369.09 686.21 L370.1 686.22 L371.1 686.2 L372.1 686.36 L373.1 686.08 L374.1 686.24 L375.1 686.12 L376.11 686.54 L377.11 686.01 L378.11 685.86 L379.11 685.83 L380.11 686.25 L381.11 686.46 L382.12 686.52 L383.12 686.47 L384.12 686.28 L385.12 686.17 L386.12 686.68 L387.12 685.82 L388.13 686.61 L389.13 686.39 L390.13 686.49 L391.13 686.02 L392.13 685.75 L393.13 686.6 L394.14 686.66 L395.14 686.78 L396.14 686.8 L397.14 686.87 L398.14 686.03 L399.14 687.36 L400.15 687.09 L401.15 687.35 L402.15 686.97 L403.15 687.3 L404.15 686.94 L405.15 687.55 L406.16 686.45 L407.16 687.14 L408.16 687.86 L409.16 687.02 L410.16 687.45 L411.16 687.71 L412.17 687.18 L413.17 687.54 L414.17 687.12 L415.17 687.59 L416.17 687.11 L417.17 687.39 L418.18 687.35 L419.18 687.43 L420.18 687.63 L421.18 687.64 L422.18 687.37 L423.18 687.3 L424.19 687.7 L425.19 686.79 L426.19 687 L427.19 688.01 L428.19 687.24 L429.19 687.66 L430.2 687.57 L431.2 687.94 L432.2 687.1 L433.2 687.98 L434.2 687.74 L435.2 687.98 L436.2 687.06 L437.21 687.32 L438.21 688.2 L439.21 687.88 L440.21 687.58 L441.21 687.84 L442.21 687.8 L443.22 688.04 L444.22 687.56 L445.22 688.01 L446.22 687.32 L447.22 686.76 L448.22 687.69 L449.23 686.99 L450.23 687.42 L451.23 687.76 L452.23 687.63 L453.23 687.83 L454.23 687.44 L455.24 687.22 L456.24 687.12 L457.24 687.53 L458.24 687.83 L459.24 687.43 L460.24 686.8 L461.25 687.27 L462.25 687.37 L463.25 688.06 L464.25 687.46 L465.25 687.1 L466.25 687.59 L467.26 686.77 L468.26 687.41 L469.26 687.5 L470.26 687.37 L471.26 687.18 L472.26 686.77 L473.27 687.29 L474.27 687.7 L475.27 687.08 L476.27 686.84 L477.27 686.47 L478.27 687.37 L479.28 686.44 L480.28 686.7 L481.28 686.75 L482.28 687.15 L483.28 687.17 L484.28 687.17 L485.29 686.49 L486.29 686.71 L487.29 686.39 L488.29 686.11 L489.29 686.71 L490.29 686.71 L491.3 686 L492.3 687.1 L493.3 686.78" fill="none" stroke="#111" stroke-width="1.6" stroke-linejoin="round" stroke-dasharray="5 2 1.5 2"/>
<path d="M53.5 782 V907.5 H250.26" fill="none" stroke="#1a1a1a" stroke-width="1.25"/>
<path d="M50.5 893.25 H53.5 M50.5 877.36 H53.5 M50.5 861.46 H53.5 M50.5 845.57 H53.5 M50.5 829.68 H53.5 M50.5 813.79 H53.5 M50.5 797.89 H53.5 M50.5 782 H53.5 M53.5 907.5 V910.5 M75.73 907.5 V910.5 M97.97 907.5 V910.5 M120.2 907.5 V910.5 M142.43 907.5 V910.5 M164.67 907.5 V910.5 M186.9 907.5 V910.5 M209.13 907.5 V910.5 M231.37 907.5 V910.5 " stroke="#222" stroke-width="1"/>
<text transform="translate(48.3 896.7) scale(1.15 1)" font-size="7.5" text-anchor="end" class="tk">1.0</text>
<text transform="translate(48.3 880.81) scale(1.15 1)" font-size="7.5" text-anchor="end" class="tk">1.1</text>
<text transform="translate(48.3 864.91) scale(1.15 1)" font-size="7.5" text-anchor="end" class="tk">1.2</text>
<text transform="translate(48.3 849.02) scale(1.15 1)" font-size="7.5" text-anchor="end" class="tk">1.3</text>
<text transform="translate(48.3 833.13) scale(1.15 1)" font-size="7.5" text-anchor="end" class="tk">1.4</text>
<text transform="translate(48.3 817.24) scale(1.15 1)" font-size="7.5" text-anchor="end" class="tk">1.5</text>
<text transform="translate(48.3 801.34) scale(1.15 1)" font-size="7.5" text-anchor="end" class="tk">1.6</text>
<text transform="translate(48.3 785.45) scale(1.15 1)" font-size="7.5" text-anchor="end" class="tk">1.7</text>
<text x="53.5" y="919.81" font-size="7.8" text-anchor="middle" class="tk">0</text>
<text x="75.73" y="919.81" font-size="7.8" text-anchor="middle" class="tk">10</text>
<text x="97.97" y="919.81" font-size="7.8" text-anchor="middle" class="tk">20</text>
<text x="120.2" y="919.81" font-size="7.8" text-anchor="middle" class="tk">30</text>
<text x="142.43" y="919.81" font-size="7.8" text-anchor="middle" class="tk">40</text>
<text x="164.67" y="919.81" font-size="7.8" text-anchor="middle" class="tk">50</text>
<text x="186.9" y="919.81" font-size="7.8" text-anchor="middle" class="tk">60</text>
<text x="209.13" y="919.81" font-size="7.8" text-anchor="middle" class="tk">70</text>
<text x="231.37" y="919.81" font-size="7.8" text-anchor="middle" class="tk">80</text>
<text class="bd" transform="translate(27.7 839.7) rotate(-90)" font-size="9.8" font-weight="bold" text-anchor="middle">ratio</text>
<text class="bd" x="136.75" y="935.8" font-size="8.69" font-weight="bold" textLength="35.89" lengthAdjust="spacingAndGlyphs">time [s]</text>
<text x="2.6" y="753.5" font-size="17.8" text-anchor="start" font-weight="bold">I</text>
<path d="M66.7 760.7 H85" fill="none" stroke="#111" stroke-width="1.25" stroke-linejoin="round"/>
<text class="lg" x="87.5" y="765.19" font-size="9.2" textLength="64.3" lengthAdjust="spacing">BzATP 10<tspan font-size="6.44" dy="-3.68">-3</tspan><tspan dy="3.68"> M</tspan></text>
<path d="M66.7 777.8 H85" fill="none" stroke="#111" stroke-width="1.7" stroke-linejoin="round" stroke-dasharray="8 3.5"/>
<text class="lg" x="87.5" y="782.29" font-size="9.2" textLength="64.3" lengthAdjust="spacing">BzATP 10<tspan font-size="6.44" dy="-3.68">-4</tspan><tspan dy="3.68"> M</tspan></text>
<path d="M66.7 797.2 H85" fill="none" stroke="#444" stroke-width="1.0" stroke-linejoin="round" stroke-dasharray="1.4 0.6"/>
<text class="lg" x="87.5" y="801.69" font-size="9.2" textLength="64.3" lengthAdjust="spacing">BzATP 10<tspan font-size="6.44" dy="-3.68">-5</tspan><tspan dy="3.68"> M</tspan></text>
<path d="M66.7 813.3 H85" fill="none" stroke="#111" stroke-width="1.0" stroke-linejoin="round" stroke-dasharray="3.5 1.5 1.2 1.5"/>
<text class="lg" x="87.5" y="817.79" font-size="9.2" textLength="64.3" lengthAdjust="spacing">BzATP 10<tspan font-size="6.44" dy="-3.68">-6</tspan><tspan dy="3.68"> M</tspan></text>
<path d="M54.61 902.93 L55.72 901.35 L56.82 901.14 L57.93 901.52 L59.03 900.74 L60.14 901.73 L61.24 901.51 L62.35 901.85 L63.45 901.74 L64.56 900.97 L65.67 900.95 L66.77 901.27 L67.88 900.87 L68.98 900.95 L70.09 901.42 L71.19 901.21 L72.3 901.05 L73.4 900.41 L74.51 901.37 L75.61 901.05 L76.72 900.91 L77.82 900.57 L78.93 900.8 L80.03 900.47 L81.14 901.23 L82.25 900.83 L83.35 901.41 L84.46 900.59 L85.56 899.58 L86.67 900.32 L87.77 900.15 L88.88 899.81 L89.98 899.6 L91.09 897 L92.19 885.42 L93.3 869.07 L94.4 852.8 L95.51 848.94 L96.61 847.46 L97.72 847.44 L98.83 847.68 L99.93 847.41 L101.04 847.48 L102.14 846.83 L103.25 846.56 L104.35 846.34 L105.46 846.13 L106.56 845.74 L107.67 845.62 L108.77 844.69 L109.88 843.36 L110.98 843.01 L112.09 842.93 L113.2 842.67 L114.3 842.14 L115.41 841.53 L116.51 841.26 L117.62 840.2 L118.72 839.57 L119.83 838.15 L120.93 837.21 L122.04 835.55 L123.14 835.37 L124.25 833.56 L125.35 833.28 L126.46 832.62 L127.56 831.6 L128.67 830.74 L129.78 830.17 L130.88 829.36 L131.99 829.19 L133.09 829.06 L134.2 827.58 L135.3 827.3 L136.41 826.09 L137.51 826.49 L138.62 827.68 L139.72 826.67 L140.83 827.68 L141.93 827.45 L143.04 827.05 L144.15 827.68 L145.25 828.6 L146.36 828.27 L147.46 828.92 L148.57 828.1 L149.67 828.2 L150.78 828.88 L151.88 828.37 L152.99 828.24 L154.09 828.35 L155.2 828.98 L156.3 829 L157.41 829.16 L158.51 829.23 L159.62 828.6 L160.73 828.71 L161.83 828.22 L162.94 828.62 L164.04 828.85 L165.15 829.41 L166.25 828.55 L167.36 829.38 L168.46 829.74 L169.57 830.42 L170.67 830.73 L171.78 830.37 L172.88 831.28 L173.99 830.98 L175.09 830.19 L176.2 829.54 L177.31 830.31 L178.41 829.85 L179.52 829.8 L180.62 831 L181.73 831.49 L182.83 830.91 L183.94 831.61 L185.04 832.24 L186.15 831.77 L187.25 832.42 L188.36 832.21 L189.46 832.61 L190.57 832.81 L191.68 832.51 L192.78 833 L193.89 833.43 L194.99 833.02 L196.1 832.4 L197.2 832.53 L198.31 832.18 L199.41 832.71 L200.52 832.54 L201.62 833.14 L202.73 833.48 L203.83 833.26 L204.94 833.97 L206.04 833.48 L207.15 834.11 L208.26 834 L209.36 834.6 L210.47 834.48 L211.57 834.21 L212.68 834.84 L213.78 835.19 L214.89 834.98 L215.99 834.91 L217.1 835.49 L218.2 836.04 L219.31 836.35 L220.41 836.44 L221.52 835.67 L222.62 836.26 L223.73 836.11 L224.84 835.96 L225.94 836.34 L227.05 836.34 L228.15 836.8 L229.26 837.31 L230.36 836.52 L231.47 836.88 L232.57 836.69 L233.68 837.41 L234.78 837.13 L235.89 836.38 L236.99 837.81 L238.1 837.76 L239.21 837.61 L240.31 838.52 L241.42 838.7 L242.52 839.9 L243.63 839.08 L244.73 839.87 L245.84 839.52 L246.94 840.37 L248.05 840.79 L249.15 840.79" fill="none" stroke="#111" stroke-width="1.25" stroke-linejoin="round"/>
<path d="M54.61 894.93 L55.72 894.95 L56.82 894.07 L57.93 894.19 L59.03 894.44 L60.14 894.09 L61.24 893.99 L62.35 894 L63.45 894.11 L64.56 894.02 L65.67 893.96 L66.77 893.98 L67.88 894.14 L68.98 894.57 L70.09 894.46 L71.19 894.34 L72.3 894.97 L73.4 894.68 L74.51 894.46 L75.61 894.76 L76.72 895.12 L77.82 895.22 L78.93 895.59 L80.03 895.23 L81.14 895.6 L82.25 895.91 L83.35 895.52 L84.46 894.75 L85.56 893.48 L86.67 892.25 L87.77 883.23 L88.88 871.9 L89.98 861.36 L91.09 855.83 L92.19 850.09 L93.3 845.53 L94.4 842.64 L95.51 840.59 L96.61 838.01 L97.72 836.87 L98.83 835.54 L99.93 834.81 L101.04 834.38 L102.14 834.35 L103.25 833.49 L104.35 833.14 L105.46 833.18 L106.56 834.13 L107.67 833.51 L108.77 833.78 L109.88 833.2 L110.98 833.26 L112.09 833.79 L113.2 832.86 L114.3 833.88 L115.41 832.92 L116.51 834.03 L117.62 834.09 L118.72 833.43 L119.83 834.48 L120.93 834.56 L122.04 833.92 L123.14 834.62 L124.25 834.54 L125.35 835.31 L126.46 834.36 L127.56 835.26 L128.67 836.09 L129.78 836.54 L130.88 837.59 L131.99 838.16 L133.09 838.85 L134.2 838.26 L135.3 838.09 L136.41 838.41 L137.51 838.56 L138.62 838.81 L139.72 839.61 L140.83 839.91 L141.93 839.51 L143.04 840.32 L144.15 840.27 L145.25 840.3 L146.36 840.09 L147.46 839.62 L148.57 840.53 L149.67 841.43 L150.78 841.56 L151.88 842.16 L152.99 842.78 L154.09 843.06 L155.2 843 L156.3 842.98 L157.41 843.54 L158.51 844.51 L159.62 844.06 L160.73 844.67 L161.83 844.64 L162.94 845.2 L164.04 845.12 L165.15 845.87 L166.25 844.69 L167.36 845.8 L168.46 845.41 L169.57 845.97 L170.67 845.77 L171.78 846.44 L172.88 846.27 L173.99 845.89 L175.09 846.13 L176.2 847.21 L177.31 846.28 L178.41 847.38 L179.52 847.34 L180.62 847.81 L181.73 848.83 L182.83 849.25 L183.94 849.8 L185.04 850.1 L186.15 850.47 L187.25 850.87 L188.36 851.82 L189.46 851.75 L190.57 853.13 L191.68 852.31 L192.78 853.31 L193.89 853.13 L194.99 853.7 L196.1 853.83 L197.2 854.44 L198.31 854.15 L199.41 853.7 L200.52 854.51 L201.62 854.66 L202.73 854.72 L203.83 854.52 L204.94 854.95 L206.04 854.96 L207.15 854.95 L208.26 854.61 L209.36 854.82 L210.47 855.68 L211.57 855.58 L212.68 855.42 L213.78 855.11 L214.89 855.07 L215.99 855.52 L217.1 854.63 L218.2 855.53 L219.31 854.93 L220.41 854.94 L221.52 854.88 L222.62 855.42 L223.73 855.29 L224.84 856.1 L225.94 856.23 L227.05 855.77 L228.15 855.27 L229.26 855.15 L230.36 855.61 L231.47 855.18 L232.57 855.43 L233.68 855.23 L234.78 856.58 L235.89 856.42 L236.99 856.64 L238.1 857.05 L239.21 857.14 L240.31 859.24 L241.42 860.34 L242.52 859.87 L243.63 858.82 L244.73 858.78 L245.84 858.19 L246.94 858.73 L248.05 859.66 L249.15 860.76" fill="none" stroke="#111" stroke-width="1.7" stroke-linejoin="round" stroke-dasharray="8 3.5"/>
<path d="M54.61 896.79 L55.72 896.89 L56.82 895.79 L57.93 896.69 L59.03 896.85 L60.14 896.28 L61.24 896.41 L62.35 896.78 L63.45 896 L64.56 896.08 L65.67 896.24 L66.77 896.55 L67.88 896.54 L68.98 896.88 L70.09 895.89 L71.19 895.8 L72.3 896.24 L73.4 895.78 L74.51 894.45 L75.61 896.06 L76.72 896.3 L77.82 895.4 L78.93 895.8 L80.03 895.81 L81.14 895.39 L82.25 895.68 L83.35 895.25 L84.46 895.43 L85.56 895.18 L86.67 895.58 L87.77 896.39 L88.88 894.93 L89.98 896.01 L91.09 894.84 L92.19 895.04 L93.3 895.56 L94.4 888.61 L95.51 877.68 L96.61 867.79 L97.72 856.75 L98.83 856.34 L99.93 855.93 L101.04 855.31 L102.14 854.09 L103.25 853.81 L104.35 853.55 L105.46 853.05 L106.56 852.44 L107.67 851.86 L108.77 852.23 L109.88 853.39 L110.98 852.78 L112.09 853.87 L113.2 854.93 L114.3 853.93 L115.41 854.75 L116.51 854.44 L117.62 854.51 L118.72 854.81 L119.83 854.46 L120.93 854.87 L122.04 854.96 L123.14 855.32 L124.25 855.05 L125.35 855.35 L126.46 854.93 L127.56 854.43 L128.67 854.56 L129.78 854.78 L130.88 855.46 L131.99 854.55 L133.09 854.59 L134.2 854.25 L135.3 856.16 L136.41 855.57 L137.51 855.96 L138.62 855.68 L139.72 856.77 L140.83 856.78 L141.93 856.01 L143.04 856.77 L144.15 858.21 L145.25 857.82 L146.36 857.68 L147.46 858.82 L148.57 858.72 L149.67 859.28 L150.78 860.24 L151.88 860.31 L152.99 860 L154.09 860.34 L155.2 861.39 L156.3 860.98 L157.41 861.93 L158.51 861.81 L159.62 862.16 L160.73 862.9 L161.83 862.53 L162.94 863.06 L164.04 864.19 L165.15 863.72 L166.25 863.96 L167.36 864.22 L168.46 864.51 L169.57 864.66 L170.67 865.56 L171.78 864.54 L172.88 865.11 L173.99 865.28 L175.09 866.03 L176.2 866.54 L177.31 867.29 L178.41 868.26 L179.52 869.03 L180.62 869.07 L181.73 869.34 L182.83 869.43 L183.94 868.42 L185.04 869.08 L186.15 868.16 L187.25 867.81 L188.36 866.61 L189.46 865.93 L190.57 867.32 L191.68 867.48 L192.78 868.49 L193.89 869.43 L194.99 869.72 L196.1 870.58 L197.2 870.01 L198.31 870.8 L199.41 871 L200.52 871.74 L201.62 873.22 L202.73 872.41 L203.83 873.12 L204.94 874.51 L206.04 873.96 L207.15 874.03 L208.26 874.2 L209.36 875.68 L210.47 875.4 L211.57 876 L212.68 876.62 L213.78 877.06 L214.89 877.13 L215.99 877.5 L217.1 877.86 L218.2 878.66 L219.31 879.39 L220.41 878.76 L221.52 879.17 L222.62 880.28 L223.73 880.45 L224.84 880.52 L225.94 881.89 L227.05 882.27 L228.15 883.12 L229.26 883.01 L230.36 882.2 L231.47 880.63 L232.57 881.63 L233.68 881.75 L234.78 882.2 L235.89 882.17 L236.99 883.12 L238.1 883.15 L239.21 883.41 L240.31 882.7 L241.42 883.29 L242.52 883 L243.63 884.43 L244.73 884.09 L245.84 883.51 L246.94 884.57 L248.05 885.17 L249.15 884.96" fill="none" stroke="#444" stroke-width="1.0" stroke-linejoin="round" stroke-dasharray="1.4 0.6"/>
<path d="M54.61 895.76 L55.72 895.64 L56.82 895.14 L57.93 895.11 L59.03 895.04 L60.14 895.41 L61.24 895.82 L62.35 895.83 L63.45 896.2 L64.56 895.14 L65.67 895.23 L66.77 895.75 L67.88 896.2 L68.98 895.68 L70.09 895.84 L71.19 896.04 L72.3 896.62 L73.4 896.17 L74.51 896.56 L75.61 896.13 L76.72 896.13 L77.82 896.11 L78.93 896.36 L80.03 895.53 L81.14 895.75 L82.25 895.47 L83.35 895.56 L84.46 895.55 L85.56 895.58 L86.67 896.06 L87.77 896.23 L88.88 895.79 L89.98 895.08 L91.09 894.85 L92.19 895.02 L93.3 894.94 L94.4 894.16 L95.51 891.45 L96.61 887.51 L97.72 882.98 L98.83 879.51 L99.93 878.58 L101.04 878.05 L102.14 877.89 L103.25 877.08 L104.35 877.61 L105.46 878.07 L106.56 878.14 L107.67 877.91 L108.77 878.03 L109.88 879.03 L110.98 879.16 L112.09 878.6 L113.2 877.69 L114.3 878.83 L115.41 878.74 L116.51 877.97 L117.62 877.8 L118.72 878.1 L119.83 877.75 L120.93 877.42 L122.04 878.16 L123.14 877.37 L124.25 877.28 L125.35 877.31 L126.46 877.35 L127.56 877.98 L128.67 878.67 L129.78 877.74 L130.88 878.1 L131.99 878.79 L133.09 878.29 L134.2 878.5 L135.3 879.21 L136.41 880.32 L137.51 879.86 L138.62 880.23 L139.72 880.53 L140.83 880.5 L141.93 881.16 L143.04 880.85 L144.15 880.57 L145.25 882.14 L146.36 881.67 L147.46 882.67 L148.57 882.64 L149.67 883.29 L150.78 883.13 L151.88 884.29 L152.99 884.12 L154.09 885.08 L155.2 885.07 L156.3 885.39 L157.41 885.18 L158.51 886.43 L159.62 886.57 L160.73 885.74 L161.83 886.34 L162.94 886.06 L164.04 887.33 L165.15 887.07 L166.25 887.13 L167.36 886.92 L168.46 887.83 L169.57 888.2 L170.67 887.97 L171.78 888.51 L172.88 888.98 L173.99 888.62 L175.09 889.79 L176.2 889.56 L177.31 888.76 L178.41 889.6 L179.52 889.65 L180.62 889.5 L181.73 889.32 L182.83 889.68 L183.94 890.37 L185.04 890.33 L186.15 889.82 L187.25 890.4 L188.36 890.71 L189.46 890.25 L190.57 890.26 L191.68 889.99 L192.78 891.36 L193.89 891.31 L194.99 891.37 L196.1 891.02 L197.2 891.39 L198.31 890.84 L199.41 892.36 L200.52 891.01 L201.62 891.68 L202.73 891.59 L203.83 891.32 L204.94 891.51 L206.04 892.04 L207.15 891.13 L208.26 891.53 L209.36 892 L210.47 891.79 L211.57 892.34 L212.68 892.45 L213.78 892.15 L214.89 891.95 L215.99 892.1 L217.1 892.5 L218.2 892.78 L219.31 892.96 L220.41 891.75 L221.52 892.27 L222.62 892.77 L223.73 892.06 L224.84 892.37 L225.94 892.79 L227.05 892.92 L228.15 892.3 L229.26 892.67 L230.36 892.22 L231.47 892.77 L232.57 893.19 L233.68 893.25 L234.78 893.36 L235.89 893.05 L236.99 893.11 L238.1 893.04 L239.21 893.16 L240.31 893.79 L241.42 893.53 L242.52 893.87 L243.63 893.39 L244.73 894.14 L245.84 893.93 L246.94 894.09 L248.05 894.06 L249.15 893.98" fill="none" stroke="#111" stroke-width="1.0" stroke-linejoin="round" stroke-dasharray="3.5 1.5 1.2 1.5"/>
<path d="M325.5 780 V909.5 H511.8" fill="none" stroke="#1a1a1a" stroke-width="1.25"/>
<path d="M322.5 895 H325.5 M322.5 878.57 H325.5 M322.5 862.14 H325.5 M322.5 845.71 H325.5 M322.5 829.29 H325.5 M322.5 812.86 H325.5 M322.5 796.43 H325.5 M322.5 780 H325.5 M325.3 909.5 V912.5 M346.02 909.5 V912.5 M366.74 909.5 V912.5 M387.47 909.5 V912.5 M408.19 909.5 V912.5 M428.91 909.5 V912.5 M449.63 909.5 V912.5 M470.36 909.5 V912.5 M491.08 909.5 V912.5 M511.8 909.5 V912.5 " stroke="#222" stroke-width="1"/>
<text x="318.75" y="897.29" font-size="7.2" text-anchor="end" class="tk">1.0</text>
<text x="318.75" y="880.86" font-size="7.2" text-anchor="end" class="tk">1.1</text>
<text x="318.75" y="864.43" font-size="7.2" text-anchor="end" class="tk">1.2</text>
<text x="318.75" y="848.01" font-size="7.2" text-anchor="end" class="tk">1.3</text>
<text x="318.75" y="831.58" font-size="7.2" text-anchor="end" class="tk">1.4</text>
<text x="318.75" y="815.15" font-size="7.2" text-anchor="end" class="tk">1.5</text>
<text x="318.75" y="798.72" font-size="7.2" text-anchor="end" class="tk">1.6</text>
<text x="318.75" y="782.29" font-size="7.2" text-anchor="end" class="tk">1.7</text>
<text x="325.3" y="922.34" font-size="7.6" text-anchor="middle" class="tk">0</text>
<text x="346.02" y="922.34" font-size="7.6" text-anchor="middle" class="tk">10</text>
<text x="366.74" y="922.34" font-size="7.6" text-anchor="middle" class="tk">20</text>
<text x="387.47" y="922.34" font-size="7.6" text-anchor="middle" class="tk">30</text>
<text x="408.19" y="922.34" font-size="7.6" text-anchor="middle" class="tk">40</text>
<text x="428.91" y="922.34" font-size="7.6" text-anchor="middle" class="tk">50</text>
<text x="449.63" y="922.34" font-size="7.6" text-anchor="middle" class="tk">60</text>
<text x="470.36" y="922.34" font-size="7.6" text-anchor="middle" class="tk">70</text>
<text x="491.08" y="922.34" font-size="7.6" text-anchor="middle" class="tk">80</text>
<text x="511.8" y="922.34" font-size="7.6" text-anchor="middle" class="tk">90</text>
<text class="bd" transform="translate(299.31 840.1) rotate(-90)" font-size="10.38" font-weight="bold" text-anchor="middle">ratio</text>
<text class="bd" x="400.05" y="938.41" font-size="8.15" font-weight="bold" textLength="37.62" lengthAdjust="spacingAndGlyphs">time [s]</text>
<text x="279.7" y="754.5" font-size="17.8" text-anchor="start" font-weight="bold">J</text>
<path d="M337.4 764.8 H356" fill="none" stroke="#111" stroke-width="1.25" stroke-linejoin="round"/>
<text class="lg" x="358.9" y="770.52" font-size="9.0" textLength="65" lengthAdjust="spacing">BzATP 10<tspan font-size="6.3" dy="-3.6">-3</tspan><tspan dy="3.6"> M</tspan></text>
<path d="M337.4 780.9 H356" fill="none" stroke="#111" stroke-width="1.7" stroke-linejoin="round" stroke-dasharray="7 3.5"/>
<text class="lg" x="358.9" y="786.62" font-size="9.0" textLength="65" lengthAdjust="spacing">BzATP 10<tspan font-size="6.3" dy="-3.6">-4</tspan><tspan dy="3.6"> M</tspan></text>
<path d="M337.4 796.5 H356" fill="none" stroke="#444" stroke-width="1.0" stroke-linejoin="round" stroke-dasharray="1.4 0.6"/>
<text class="lg" x="358.9" y="802.22" font-size="9.0" textLength="65" lengthAdjust="spacing">BzATP 10<tspan font-size="6.3" dy="-3.6">-5</tspan><tspan dy="3.6"> M</tspan></text>
<path d="M337.4 812.6 H356" fill="none" stroke="#111" stroke-width="1.0" stroke-linejoin="round" stroke-dasharray="3.5 1.5 1.2 1.5"/>
<text class="lg" x="358.9" y="818.32" font-size="9.0" textLength="65" lengthAdjust="spacing">BzATP 10<tspan font-size="6.3" dy="-3.6">-6</tspan><tspan dy="3.6"> M</tspan></text>
<path d="M326.34 902.61 L327.37 903.31 L328.41 903.79 L329.44 903.33 L330.48 902.91 L331.51 903 L332.55 903.12 L333.58 902.43 L334.62 902.77 L335.65 903.18 L336.69 902.59 L337.72 903.47 L338.76 902.87 L339.79 903.01 L340.83 902.46 L341.86 901.76 L342.9 902.39 L343.93 901.36 L344.97 902.19 L346 901.01 L347.04 901.71 L348.07 900.82 L349.11 899.54 L350.14 896.76 L351.18 885.21 L352.21 873.59 L353.25 864.96 L354.28 861.82 L355.31 858.86 L356.35 856.77 L357.38 855.92 L358.42 855.62 L359.45 853.56 L360.49 851.5 L361.52 851.3 L362.56 849.64 L363.59 848.91 L364.63 848.15 L365.66 847.49 L366.7 847.18 L367.73 846.28 L368.77 845.63 L369.8 845.02 L370.84 843.73 L371.87 843.62 L372.91 843.6 L373.94 842.99 L374.98 841.47 L376.01 841.19 L377.05 840.76 L378.08 840.74 L379.12 840 L380.15 839.6 L381.19 839.51 L382.22 839.07 L383.26 838.26 L384.29 837.98 L385.33 837.76 L386.36 837.79 L387.4 838.05 L388.43 837 L389.47 836.51 L390.5 836.39 L391.54 836.23 L392.57 836.38 L393.61 836.13 L394.64 836.08 L395.68 835.37 L396.71 835.75 L397.75 834.58 L398.78 834.9 L399.82 835.12 L400.85 834.78 L401.89 835.19 L402.92 834.91 L403.96 834.82 L404.99 833.81 L406.03 835.18 L407.06 834.58 L408.1 835 L409.13 835.48 L410.17 835.47 L411.2 836.87 L412.24 836.05 L413.27 836.01 L414.31 837.02 L415.34 837.52 L416.38 837.8 L417.41 837.96 L418.45 838.77 L419.48 838.89 L420.52 839.1 L421.55 839.8 L422.59 839.87 L423.62 840.25 L424.66 840.47 L425.69 841.45 L426.73 841.58 L427.76 841.85 L428.8 841.51 L429.83 842.19 L430.87 843.25 L431.9 843.42 L432.94 842.45 L433.97 843.39 L435.01 844.31 L436.04 844.38 L437.08 844.17 L438.11 843.87 L439.15 844.01 L440.18 845.01 L441.22 845.19 L442.25 844.52 L443.29 845.88 L444.32 845.08 L445.36 845.79 L446.39 846.09 L447.43 845.84 L448.46 846.36 L449.5 847.1 L450.53 847.59 L451.57 847.18 L452.6 847.2 L453.64 847.08 L454.67 848.86 L455.71 847.49 L456.74 847.98 L457.78 847.83 L458.81 848.31 L459.85 848.75 L460.88 848.87 L461.92 849.08 L462.95 849.69 L463.99 849.69 L465.02 849.8 L466.06 850.23 L467.09 850.84 L468.13 851.03 L469.16 850.46 L470.2 850.66 L471.23 851.02 L472.27 851.73 L473.3 851.13 L474.34 851.73 L475.37 852.51 L476.41 851.17 L477.44 852.49 L478.48 851.12 L479.51 851.9 L480.55 852.39 L481.58 853.26 L482.62 852.71 L483.65 851.95 L484.68 852.11 L485.72 852.65 L486.75 853.54 L487.79 853.12 L488.82 853.19 L489.86 853 L490.89 853.34 L491.93 853.26 L492.96 854.17 L494 853.93 L495.03 853.26 L496.07 854.56 L497.1 853.76 L498.14 853.35 L499.17 854.17 L500.21 855.13 L501.24 854.23 L502.28 855.61 L503.31 854.89 L504.35 855.33 L505.38 854.83 L506.42 854.9 L507.45 855.19 L508.49 854.45 L509.52 854.67 L510.56 855.15 L511.59 855.24 L512.63 853.77" fill="none" stroke="#111" stroke-width="1.25" stroke-linejoin="round"/>
<path d="M326.34 903.37 L327.37 903.05 L328.41 903.26 L329.44 903.4 L330.48 903.85 L331.51 903.27 L332.55 903.26 L333.58 902.82 L334.62 903.42 L335.65 903.84 L336.69 903.64 L337.72 903.23 L338.76 903.12 L339.79 902.93 L340.83 903.37 L341.86 903 L342.9 903.16 L343.93 902.54 L344.97 903.24 L346 903.16 L347.04 902.99 L348.07 902.73 L349.11 903.58 L350.14 903.4 L351.18 903.32 L352.21 904.06 L353.25 902.7 L354.28 900.62 L355.31 895.17 L356.35 882.58 L357.38 871.99 L358.42 860.25 L359.45 857.62 L360.49 855.38 L361.52 853.79 L362.56 850.71 L363.59 850.31 L364.63 850.11 L365.66 848.77 L366.7 847.65 L367.73 846.71 L368.77 846.19 L369.8 845.71 L370.84 844.62 L371.87 844.64 L372.91 843.78 L373.94 842.86 L374.98 843.15 L376.01 841.84 L377.05 842.26 L378.08 841.47 L379.12 841.22 L380.15 840.39 L381.19 839.7 L382.22 839.63 L383.26 838.88 L384.29 838.83 L385.33 838.58 L386.36 838.03 L387.4 838.13 L388.43 837.79 L389.47 837.25 L390.5 837.7 L391.54 836.83 L392.57 837.54 L393.61 837 L394.64 837.42 L395.68 836.73 L396.71 835.66 L397.75 835.93 L398.78 835.34 L399.82 836.21 L400.85 835.8 L401.89 834.99 L402.92 834.62 L403.96 834.39 L404.99 835.25 L406.03 834.25 L407.06 834.34 L408.1 834.13 L409.13 833.86 L410.17 834.02 L411.2 834.45 L412.24 834.07 L413.27 834.08 L414.31 833.9 L415.34 833.29 L416.38 832.67 L417.41 833.43 L418.45 833.41 L419.48 833.51 L420.52 833.7 L421.55 832.94 L422.59 833.12 L423.62 832.98 L424.66 833.22 L425.69 832.6 L426.73 833.23 L427.76 832.49 L428.8 832.93 L429.83 832.3 L430.87 832.93 L431.9 832.35 L432.94 832.31 L433.97 832.47 L435.01 831.74 L436.04 832.28 L437.08 832.66 L438.11 831.99 L439.15 832.68 L440.18 832.79 L441.22 832.8 L442.25 832.96 L443.29 832.58 L444.32 834.18 L445.36 833.82 L446.39 833.49 L447.43 834.23 L448.46 834.27 L449.5 834.01 L450.53 835.34 L451.57 835.06 L452.6 834.84 L453.64 835.28 L454.67 835.63 L455.71 835.23 L456.74 834.65 L457.78 834.54 L458.81 833.78 L459.85 833.87 L460.88 834.91 L461.92 833.87 L462.95 834.18 L463.99 834.16 L465.02 835.13 L466.06 835.56 L467.09 835.54 L468.13 835.25 L469.16 835.88 L470.2 835.71 L471.23 836.34 L472.27 837.15 L473.3 837.58 L474.34 836.55 L475.37 838.01 L476.41 837.67 L477.44 837.77 L478.48 838.13 L479.51 838.11 L480.55 838.01 L481.58 837.57 L482.62 839.05 L483.65 839.73 L484.68 839.98 L485.72 840.16 L486.75 841.37 L487.79 841.71 L488.82 842.57 L489.86 841.33 L490.89 841.07 L491.93 840.48 L492.96 841.29 L494 839.68 L495.03 839.93 L496.07 840.12 L497.1 840.38 L498.14 840.66 L499.17 841.34 L500.21 840.86 L501.24 841.72 L502.28 842.08 L503.31 841.9 L504.35 842.38 L505.38 842.97 L506.42 843.19 L507.45 843.73 L508.49 843.44 L509.52 844.01 L510.56 845.13 L511.59 845.29 L512.63 845.17" fill="none" stroke="#111" stroke-width="1.7" stroke-linejoin="round" stroke-dasharray="7 3.5"/>
<path d="M326.34 903.33 L327.37 902.51 L328.41 903.04 L329.44 902.95 L330.48 904.05 L331.51 902.88 L332.55 903.08 L333.58 902.98 L334.62 903.02 L335.65 903 L336.69 903.42 L337.72 902.86 L338.76 903.19 L339.79 903.63 L340.83 903.62 L341.86 903.15 L342.9 903.08 L343.93 904.09 L344.97 904.04 L346 902.8 L347.04 903.12 L348.07 901.88 L349.11 903.52 L350.14 902.9 L351.18 902.94 L352.21 902.38 L353.25 901.93 L354.28 901.75 L355.31 899.35 L356.35 894.9 L357.38 892.32 L358.42 888.19 L359.45 884.72 L360.49 881.02 L361.52 878.07 L362.56 873.7 L363.59 870.74 L364.63 868.14 L365.66 865.96 L366.7 864 L367.73 861.3 L368.77 861.06 L369.8 860.61 L370.84 859.65 L371.87 860.34 L372.91 859.71 L373.94 859.19 L374.98 858.51 L376.01 858.88 L377.05 858.39 L378.08 858.53 L379.12 859.37 L380.15 858.9 L381.19 859.39 L382.22 858.65 L383.26 859.08 L384.29 859.09 L385.33 859.67 L386.36 860.17 L387.4 860.05 L388.43 860.55 L389.47 861.45 L390.5 861.41 L391.54 861.17 L392.57 860.79 L393.61 861.72 L394.64 861.88 L395.68 861.88 L396.71 861.84 L397.75 862.36 L398.78 862.38 L399.82 862.89 L400.85 863.17 L401.89 863.49 L402.92 863.13 L403.96 863.84 L404.99 863.62 L406.03 863.9 L407.06 863.9 L408.1 865.53 L409.13 864.92 L410.17 865.08 L411.2 864.73 L412.24 864.41 L413.27 863.78 L414.31 864.25 L415.34 864.38 L416.38 864.88 L417.41 865.29 L418.45 865.03 L419.48 866.22 L420.52 865.08 L421.55 865.55 L422.59 865.41 L423.62 866.18 L424.66 866.3 L425.69 866.31 L426.73 866.34 L427.76 866.45 L428.8 867 L429.83 866.98 L430.87 867.12 L431.9 868.12 L432.94 867.97 L433.97 868.82 L435.01 868.68 L436.04 868.37 L437.08 869.28 L438.11 868.52 L439.15 869.33 L440.18 869.44 L441.22 870.03 L442.25 869.99 L443.29 870.17 L444.32 870.83 L445.36 871.38 L446.39 871.69 L447.43 871 L448.46 872.15 L449.5 872.55 L450.53 872.96 L451.57 873.64 L452.6 873.47 L453.64 873.44 L454.67 874.07 L455.71 874.47 L456.74 874.31 L457.78 874.59 L458.81 875.25 L459.85 875.25 L460.88 876.06 L461.92 875.63 L462.95 876.67 L463.99 876.71 L465.02 876.84 L466.06 877.38 L467.09 877.99 L468.13 877.01 L469.16 877.56 L470.2 879.18 L471.23 878.75 L472.27 879.63 L473.3 879.31 L474.34 880.28 L475.37 879.84 L476.41 880.18 L477.44 880.02 L478.48 880.54 L479.51 881.53 L480.55 881.28 L481.58 882.16 L482.62 882.34 L483.65 882.73 L484.68 883.46 L485.72 882.73 L486.75 884.01 L487.79 883.51 L488.82 883.43 L489.86 883.81 L490.89 884.71 L491.93 884.56 L492.96 884.25 L494 884.3 L495.03 884.32 L496.07 885.91 L497.1 885.22 L498.14 885.81 L499.17 885.54 L500.21 886.74 L501.24 886.34 L502.28 886.19 L503.31 886.79 L504.35 886.74 L505.38 887.06 L506.42 886.28 L507.45 887.32 L508.49 887.22 L509.52 887.05 L510.56 887.11 L511.59 886.21 L512.63 887" fill="none" stroke="#444" stroke-width="1.0" stroke-linejoin="round" stroke-dasharray="1.4 0.6"/>
<path d="M326.34 903.55 L327.37 902.98 L328.41 903.08 L329.44 903.1 L330.48 903.24 L331.51 903.03 L332.55 903.68 L333.58 903.7 L334.62 903.38 L335.65 903.66 L336.69 902.93 L337.72 902.44 L338.76 902.72 L339.79 903.04 L340.83 903.08 L341.86 903.49 L342.9 903.73 L343.93 902.99 L344.97 903.81 L346 903.09 L347.04 903.27 L348.07 902.91 L349.11 903.19 L350.14 903.17 L351.18 903.45 L352.21 903.91 L353.25 903.35 L354.28 902.93 L355.31 901.2 L356.35 899.43 L357.38 896.18 L358.42 891.87 L359.45 886.93 L360.49 884.3 L361.52 882.09 L362.56 881.99 L363.59 881.72 L364.63 880.33 L365.66 878.48 L366.7 878.84 L367.73 877.08 L368.77 876.92 L369.8 874.95 L370.84 874.99 L371.87 874.88 L372.91 875.15 L373.94 874.75 L374.98 875.49 L376.01 874.65 L377.05 873.59 L378.08 874.42 L379.12 874.57 L380.15 874.93 L381.19 874.19 L382.22 874.32 L383.26 874.29 L384.29 873.2 L385.33 873.39 L386.36 873.91 L387.4 873.11 L388.43 873.87 L389.47 873.79 L390.5 874.08 L391.54 873.81 L392.57 874.18 L393.61 874.72 L394.64 874.43 L395.68 875.02 L396.71 874.96 L397.75 874.5 L398.78 875.72 L399.82 875.78 L400.85 875.6 L401.89 875.71 L402.92 875.06 L403.96 876.29 L404.99 874.8 L406.03 875.15 L407.06 876.04 L408.1 875.86 L409.13 876.15 L410.17 875.8 L411.2 875.88 L412.24 875.91 L413.27 875.98 L414.31 875.58 L415.34 876.5 L416.38 876.35 L417.41 876.91 L418.45 877.03 L419.48 877.17 L420.52 877.49 L421.55 877.55 L422.59 878.24 L423.62 878.17 L424.66 878.56 L425.69 879 L426.73 879.03 L427.76 879.16 L428.8 879.23 L429.83 880 L430.87 879.69 L431.9 880.26 L432.94 880.34 L433.97 880.15 L435.01 880.01 L436.04 880.59 L437.08 881.16 L438.11 881.39 L439.15 880.94 L440.18 882.38 L441.22 881.53 L442.25 882.84 L443.29 882.75 L444.32 882.74 L445.36 883.1 L446.39 882.6 L447.43 883.32 L448.46 883.8 L449.5 883.65 L450.53 884.27 L451.57 884.87 L452.6 884.35 L453.64 884.45 L454.67 884.76 L455.71 885.95 L456.74 884.92 L457.78 886.05 L458.81 885.78 L459.85 885.81 L460.88 885.54 L461.92 887.35 L462.95 887.31 L463.99 886.63 L465.02 887.11 L466.06 887.64 L467.09 888.89 L468.13 887.74 L469.16 888.19 L470.2 889.37 L471.23 887.45 L472.27 889.73 L473.3 889.15 L474.34 889.15 L475.37 889.27 L476.41 889.27 L477.44 889.89 L478.48 890.36 L479.51 890.36 L480.55 891.27 L481.58 891.09 L482.62 890.06 L483.65 891.35 L484.68 891.32 L485.72 890.74 L486.75 891.29 L487.79 891.88 L488.82 891.85 L489.86 892.46 L490.89 892.93 L491.93 892.38 L492.96 892.9 L494 892.47 L495.03 893.36 L496.07 893.56 L497.1 893.42 L498.14 893.79 L499.17 893.99 L500.21 894.37 L501.24 894.06 L502.28 894.18 L503.31 893.73 L504.35 894.63 L505.38 895.47 L506.42 894.73 L507.45 894.15 L508.49 895.4 L509.52 895.69 L510.56 895.59 L511.59 896.82 L512.63 895.96" fill="none" stroke="#111" stroke-width="1.0" stroke-linejoin="round" stroke-dasharray="3.5 1.5 1.2 1.5"/>
</svg></body></html>
